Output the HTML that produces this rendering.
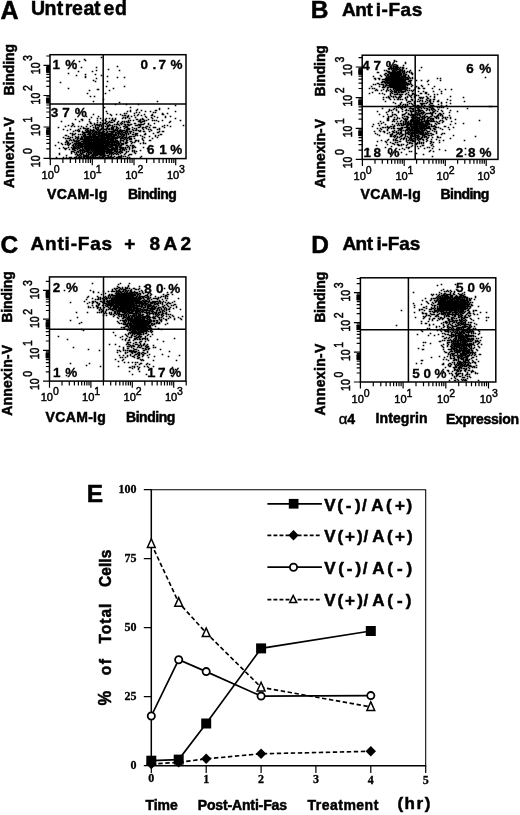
<!DOCTYPE html>
<html><head><meta charset="utf-8"><title>Figure</title>
<style>html,body{margin:0;padding:0;background:#fff}svg{display:block}text{font-family:"Liberation Sans", sans-serif;fill:#000}text.s{font-family:"Liberation Serif", serif}</style>
</head><body>
<svg width="520" height="815" viewBox="0 0 520 815">
<rect width="520" height="815" fill="#fff"/>
<rect x="50" y="54.7" width="136.0" height="103.9" fill="none" stroke="#000" stroke-width="1.5"/>
<path d="M103.2 54.7V158.6M50 104.0H186.0" stroke="#000" stroke-width="1.5" fill="none"/>
<path d="M50.3 158.6v6.6M50 158.3h-6.5M62.9 158.6v4.3M50 148.9h-3.7M70.3 158.6v4.3M50 143.4h-3.7M75.6 158.6v4.3M50 139.5h-3.7M79.7 158.6v4.3M50 136.4h-3.7M83.0 158.6v4.3M50 133.9h-3.7M85.8 158.6v4.3M50 131.8h-3.7M88.2 158.6v4.3M50 130.0h-3.7M90.4 158.6v4.3M50 128.4h-3.7M92.3 158.6v6.6M50 127.0h-6.5M104.9 158.6v4.3M50 117.5h-3.7M112.2 158.6v4.3M50 112.0h-3.7M117.4 158.6v4.3M50 108.0h-3.7M121.4 158.6v4.3M50 105.0h-3.7M124.7 158.6v4.3M50 102.5h-3.7M127.5 158.6v4.3M50 100.4h-3.7M130.0 158.6v4.3M50 98.6h-3.7M132.1 158.6v4.3M50 96.9h-3.7M134.0 158.6v6.6M50 95.5h-6.5M146.6 158.6v4.3M50 86.4h-3.7M153.9 158.6v4.3M50 81.1h-3.7M159.1 158.6v4.3M50 77.3h-3.7M163.1 158.6v4.3M50 74.4h-3.7M166.4 158.6v4.3M50 72.0h-3.7M169.2 158.6v4.3M50 70.0h-3.7M171.7 158.6v4.3M50 68.2h-3.7M173.8 158.6v4.3M50 66.7h-3.7M175.7 158.6v6.6M50 65.3h-6.5M50 56.0h-3.7" stroke="#000" stroke-width="1.2" fill="none"/>
<rect x="46.3" y="129.7" width="3.7" height="5.2" fill="#000"/>
<rect x="46.3" y="129.4" width="3.7" height="5.2" fill="#000"/>
<rect x="46.3" y="98.4" width="3.7" height="5.2" fill="#000"/>
<rect x="46.3" y="97.9" width="3.7" height="5.2" fill="#000"/>
<rect x="46.3" y="66.9" width="3.7" height="5.2" fill="#000"/>
<rect x="46.3" y="67.7" width="3.7" height="5.2" fill="#000"/>
<text transform="translate(41.5 179.2)" font-size="11.1" stroke="#000" stroke-width="0.45">10</text>
<text transform="translate(53.7 173.2) scale(0.95 1)" font-size="11.1" stroke="#000" stroke-width="0.45">0</text>
<text transform="translate(39.7 167.2) rotate(-90) scale(0.95 1.2)" font-size="11.1" stroke="#000" stroke-width="0.45">10</text>
<text transform="translate(32.2 153.9) rotate(-90) scale(0.95 1.2)" font-size="11.1" stroke="#000" stroke-width="0.45">0</text>
<text transform="translate(83.5 179.2)" font-size="11.1" stroke="#000" stroke-width="0.45">10</text>
<text transform="translate(95.7 173.2) scale(0.95 1)" font-size="11.1" stroke="#000" stroke-width="0.45">1</text>
<text transform="translate(39.7 135.9) rotate(-90) scale(0.95 1.2)" font-size="11.1" stroke="#000" stroke-width="0.45">10</text>
<text transform="translate(32.2 122.6) rotate(-90) scale(0.95 1.2)" font-size="11.1" stroke="#000" stroke-width="0.45">1</text>
<text transform="translate(125.2 179.2)" font-size="11.1" stroke="#000" stroke-width="0.45">10</text>
<text transform="translate(137.4 173.2) scale(0.95 1)" font-size="11.1" stroke="#000" stroke-width="0.45">2</text>
<text transform="translate(39.7 104.4) rotate(-90) scale(0.95 1.2)" font-size="11.1" stroke="#000" stroke-width="0.45">10</text>
<text transform="translate(32.2 91.1) rotate(-90) scale(0.95 1.2)" font-size="11.1" stroke="#000" stroke-width="0.45">2</text>
<text transform="translate(166.9 179.2)" font-size="11.1" stroke="#000" stroke-width="0.45">10</text>
<text transform="translate(179.1 173.2) scale(0.95 1)" font-size="11.1" stroke="#000" stroke-width="0.45">3</text>
<text transform="translate(39.7 74.2) rotate(-90) scale(0.95 1.2)" font-size="11.1" stroke="#000" stroke-width="0.45">10</text>
<text transform="translate(32.2 60.9) rotate(-90) scale(0.95 1.2)" font-size="11.1" stroke="#000" stroke-width="0.45">3</text>
<path d="M99.5 141.5h.01M102.5 146.5h.01M95.5 143.5h.01M88.5 138.5h.01M93.5 150.5h.01M87.5 140.5h.01M115.5 134.5h.01M93.5 138.5h.01M91.5 149.5h.01M104.5 133.5h.01M103.5 144.5h.01M100.5 149.5h.01M87.5 141.5h.01M98.5 146.5h.01M107.5 136.5h.01M82.5 153.5h.01M93.5 152.5h.01M76.5 146.5h.01M83.5 132.5h.01M76.5 137.5h.01M96.5 151.5h.01M83.5 156.5h.01M100.5 153.5h.01M96.5 140.5h.01M68.5 143.5h.01M92.5 144.5h.01M98.5 147.5h.01M100.5 133.5h.01M80.5 151.5h.01M93.5 153.5h.01M87.5 136.5h.01M89.5 135.5h.01M111.5 146.5h.01M89.5 139.5h.01M98.5 127.5h.01M109.5 150.5h.01M91.5 145.5h.01M97.5 141.5h.01M100.5 157.5h.01M99.5 145.5h.01M84.5 139.5h.01M115.5 137.5h.01M80.5 139.5h.01M109.5 147.5h.01M100.5 140.5h.01M91.5 141.5h.01M123.5 156.5h.01M108.5 150.5h.01M84.5 150.5h.01M99.5 148.5h.01M105.5 147.5h.01M96.5 154.5h.01M107.5 144.5h.01M98.5 157.5h.01M107.5 137.5h.01M116.5 142.5h.01M90.5 134.5h.01M101.5 142.5h.01M93.5 148.5h.01M100.5 154.5h.01M96.5 141.5h.01M109.5 139.5h.01M112.5 136.5h.01M83.5 144.5h.01M89.5 132.5h.01M106.5 145.5h.01M75.5 144.5h.01M93.5 139.5h.01M97.5 137.5h.01M114.5 134.5h.01M107.5 157.5h.01M95.5 135.5h.01M94.5 155.5h.01M95.5 148.5h.01M117.5 141.5h.01M93.5 136.5h.01M95.5 151.5h.01M103.5 156.5h.01M96.5 142.5h.01M85.5 151.5h.01M93.5 157.5h.01M112.5 140.5h.01M106.5 148.5h.01M98.5 135.5h.01M94.5 139.5h.01M111.5 129.5h.01M98.5 143.5h.01M106.5 143.5h.01M83.5 157.5h.01M103.5 142.5h.01M78.5 144.5h.01M74.5 148.5h.01M95.5 155.5h.01M88.5 144.5h.01M100.5 151.5h.01M125.5 148.5h.01M89.5 142.5h.01M101.5 144.5h.01M104.5 138.5h.01M96.5 152.5h.01M96.5 134.5h.01M107.5 152.5h.01M105.5 151.5h.01M86.5 143.5h.01M98.5 139.5h.01M99.5 142.5h.01M86.5 147.5h.01M102.5 149.5h.01M88.5 146.5h.01M110.5 151.5h.01M101.5 140.5h.01M100.5 146.5h.01M91.5 133.5h.01M97.5 149.5h.01M75.5 145.5h.01M85.5 141.5h.01M103.5 152.5h.01M73.5 149.5h.01M109.5 124.5h.01M108.5 134.5h.01M88.5 151.5h.01M108.5 157.5h.01M80.5 145.5h.01M113.5 142.5h.01M116.5 146.5h.01M98.5 149.5h.01M95.5 153.5h.01M87.5 155.5h.01M112.5 137.5h.01M92.5 146.5h.01M98.5 152.5h.01M89.5 149.5h.01M91.5 137.5h.01M83.5 139.5h.01M114.5 141.5h.01M97.5 144.5h.01M110.5 152.5h.01M99.5 135.5h.01M90.5 147.5h.01M92.5 148.5h.01M99.5 147.5h.01M95.5 147.5h.01M82.5 150.5h.01M89.5 148.5h.01M118.5 157.5h.01M90.5 131.5h.01M86.5 153.5h.01M115.5 142.5h.01M81.5 137.5h.01M96.5 131.5h.01M77.5 139.5h.01M107.5 147.5h.01M98.5 134.5h.01M99.5 154.5h.01M89.5 146.5h.01M104.5 142.5h.01M92.5 139.5h.01M97.5 138.5h.01M85.5 136.5h.01M84.5 140.5h.01M115.5 144.5h.01M92.5 143.5h.01M102.5 134.5h.01M98.5 142.5h.01M92.5 145.5h.01M106.5 157.5h.01M97.5 142.5h.01M99.5 133.5h.01M113.5 134.5h.01M107.5 132.5h.01M103.5 149.5h.01M82.5 144.5h.01M110.5 140.5h.01M110.5 145.5h.01M97.5 154.5h.01M105.5 139.5h.01M108.5 142.5h.01M108.5 138.5h.01M110.5 150.5h.01M93.5 137.5h.01M117.5 136.5h.01M84.5 134.5h.01M109.5 134.5h.01M104.5 147.5h.01M109.5 157.5h.01M121.5 137.5h.01M116.5 151.5h.01M85.5 146.5h.01M78.5 136.5h.01M86.5 142.5h.01M79.5 131.5h.01M73.5 147.5h.01M99.5 140.5h.01M96.5 145.5h.01M99.5 150.5h.01M88.5 145.5h.01M80.5 147.5h.01M87.5 130.5h.01M79.5 154.5h.01M105.5 157.5h.01M98.5 151.5h.01M103.5 151.5h.01M87.5 134.5h.01M91.5 143.5h.01M87.5 138.5h.01M88.5 140.5h.01M101.5 151.5h.01M89.5 138.5h.01M103.5 143.5h.01M103.5 131.5h.01M123.5 143.5h.01M82.5 145.5h.01M97.5 139.5h.01M81.5 136.5h.01M107.5 138.5h.01M99.5 157.5h.01M95.5 146.5h.01M112.5 139.5h.01M98.5 141.5h.01M72.5 151.5h.01M90.5 138.5h.01M75.5 154.5h.01M59.5 154.5h.01M115.5 149.5h.01M99.5 149.5h.01M84.5 155.5h.01M87.5 137.5h.01M112.5 152.5h.01M100.5 141.5h.01M99.5 139.5h.01M98.5 145.5h.01M108.5 137.5h.01M105.5 133.5h.01M101.5 137.5h.01M86.5 154.5h.01M90.5 149.5h.01M83.5 140.5h.01M97.5 143.5h.01M83.5 136.5h.01M119.5 137.5h.01M116.5 145.5h.01M93.5 142.5h.01M103.5 147.5h.01M67.5 142.5h.01M102.5 151.5h.01M98.5 144.5h.01M86.5 145.5h.01M96.5 139.5h.01M113.5 141.5h.01M117.5 153.5h.01M92.5 132.5h.01M94.5 141.5h.01M77.5 141.5h.01M117.5 145.5h.01M110.5 141.5h.01M107.5 149.5h.01M100.5 145.5h.01M101.5 136.5h.01M117.5 150.5h.01M92.5 142.5h.01M91.5 138.5h.01M118.5 141.5h.01M94.5 145.5h.01M85.5 144.5h.01M98.5 140.5h.01M109.5 118.5h.01M96.5 146.5h.01M100.5 152.5h.01M79.5 146.5h.01M88.5 143.5h.01M109.5 143.5h.01M89.5 140.5h.01M105.5 140.5h.01M117.5 138.5h.01M95.5 152.5h.01M91.5 144.5h.01M87.5 145.5h.01M104.5 143.5h.01M123.5 147.5h.01M95.5 150.5h.01M86.5 139.5h.01M102.5 139.5h.01M84.5 156.5h.01M85.5 142.5h.01M114.5 142.5h.01M88.5 154.5h.01M111.5 152.5h.01M117.5 148.5h.01M102.5 141.5h.01M122.5 147.5h.01M96.5 148.5h.01M82.5 134.5h.01M116.5 147.5h.01M110.5 147.5h.01M87.5 142.5h.01M88.5 136.5h.01M92.5 134.5h.01M102.5 142.5h.01M101.5 150.5h.01M102.5 152.5h.01M95.5 157.5h.01M98.5 150.5h.01M105.5 120.5h.01M121.5 140.5h.01M99.5 151.5h.01M78.5 148.5h.01M103.5 148.5h.01M82.5 149.5h.01M109.5 154.5h.01M78.5 134.5h.01M90.5 153.5h.01M106.5 149.5h.01M126.5 136.5h.01M101.5 145.5h.01M84.5 145.5h.01M100.5 150.5h.01M112.5 142.5h.01M111.5 143.5h.01M112.5 141.5h.01M105.5 142.5h.01M97.5 146.5h.01M94.5 134.5h.01M83.5 150.5h.01M108.5 149.5h.01M96.5 147.5h.01M101.5 132.5h.01M111.5 137.5h.01M78.5 140.5h.01M94.5 142.5h.01M111.5 147.5h.01M101.5 141.5h.01M84.5 146.5h.01M87.5 139.5h.01M108.5 144.5h.01M104.5 148.5h.01M76.5 144.5h.01M115.5 141.5h.01M106.5 136.5h.01M115.5 145.5h.01M94.5 146.5h.01M95.5 142.5h.01M85.5 139.5h.01M129.5 148.5h.01M96.5 157.5h.01M118.5 142.5h.01M91.5 146.5h.01M100.5 147.5h.01M78.5 126.5h.01M110.5 139.5h.01M83.5 154.5h.01M111.5 142.5h.01M103.5 139.5h.01M93.5 140.5h.01M92.5 135.5h.01M95.5 149.5h.01M86.5 157.5h.01M83.5 149.5h.01M109.5 152.5h.01M99.5 156.5h.01M91.5 152.5h.01M87.5 143.5h.01M109.5 146.5h.01M89.5 145.5h.01M96.5 129.5h.01M106.5 130.5h.01M106.5 144.5h.01M98.5 132.5h.01M85.5 149.5h.01M97.5 150.5h.01M110.5 156.5h.01M88.5 157.5h.01M98.5 136.5h.01M78.5 151.5h.01M106.5 147.5h.01M77.5 151.5h.01M80.5 138.5h.01M90.5 143.5h.01M85.5 134.5h.01M103.5 137.5h.01M90.5 144.5h.01M89.5 131.5h.01M104.5 139.5h.01M84.5 144.5h.01M76.5 140.5h.01M121.5 151.5h.01M95.5 144.5h.01M121.5 152.5h.01M86.5 144.5h.01M82.5 148.5h.01M107.5 151.5h.01M108.5 151.5h.01M87.5 147.5h.01M115.5 153.5h.01M65.5 144.5h.01M105.5 129.5h.01M111.5 145.5h.01M86.5 136.5h.01M87.5 157.5h.01M115.5 147.5h.01M108.5 133.5h.01M94.5 148.5h.01M88.5 141.5h.01M76.5 157.5h.01M94.5 137.5h.01M98.5 128.5h.01M98.5 129.5h.01M114.5 156.5h.01M121.5 131.5h.01M97.5 152.5h.01M91.5 147.5h.01M86.5 148.5h.01M106.5 140.5h.01M102.5 140.5h.01M90.5 157.5h.01M101.5 133.5h.01M82.5 141.5h.01M95.5 141.5h.01M74.5 147.5h.01M100.5 148.5h.01M100.5 136.5h.01M94.5 151.5h.01M101.5 149.5h.01M100.5 143.5h.01M105.5 149.5h.01M79.5 140.5h.01M104.5 152.5h.01M103.5 145.5h.01M91.5 139.5h.01M104.5 155.5h.01M101.5 154.5h.01M80.5 142.5h.01M105.5 155.5h.01M113.5 144.5h.01M80.5 146.5h.01M110.5 157.5h.01M68.5 136.5h.01M103.5 153.5h.01M81.5 141.5h.01M83.5 142.5h.01M91.5 123.5h.01M114.5 151.5h.01M94.5 150.5h.01M102.5 150.5h.01M119.5 151.5h.01M118.5 156.5h.01M90.5 142.5h.01M104.5 151.5h.01M100.5 135.5h.01M89.5 143.5h.01M98.5 138.5h.01M106.5 141.5h.01M111.5 133.5h.01M103.5 136.5h.01M95.5 156.5h.01M103.5 133.5h.01M86.5 146.5h.01M79.5 148.5h.01M105.5 148.5h.01M78.5 145.5h.01M71.5 151.5h.01M94.5 152.5h.01M103.5 140.5h.01M65.5 135.5h.01M97.5 145.5h.01M105.5 143.5h.01M119.5 146.5h.01M112.5 144.5h.01M102.5 147.5h.01M122.5 152.5h.01M97.5 136.5h.01M98.5 133.5h.01M101.5 146.5h.01M116.5 148.5h.01M96.5 150.5h.01M96.5 138.5h.01M111.5 157.5h.01M88.5 149.5h.01M91.5 157.5h.01M111.5 153.5h.01M104.5 137.5h.01M104.5 134.5h.01M93.5 154.5h.01M111.5 154.5h.01M112.5 146.5h.01M88.5 139.5h.01M101.5 155.5h.01M107.5 148.5h.01M87.5 151.5h.01M94.5 149.5h.01M109.5 136.5h.01M91.5 148.5h.01M113.5 140.5h.01M125.5 143.5h.01M122.5 150.5h.01M101.5 148.5h.01M117.5 133.5h.01M97.5 148.5h.01M100.5 138.5h.01M79.5 150.5h.01M81.5 157.5h.01M101.5 139.5h.01M106.5 137.5h.01M94.5 140.5h.01M104.5 136.5h.01M94.5 143.5h.01M86.5 137.5h.01M112.5 134.5h.01M94.5 144.5h.01M79.5 142.5h.01M86.5 149.5h.01M129.5 157.5h.01M113.5 149.5h.01M104.5 145.5h.01M107.5 141.5h.01M92.5 151.5h.01M122.5 137.5h.01M105.5 141.5h.01M104.5 140.5h.01M94.5 136.5h.01M90.5 135.5h.01M95.5 145.5h.01M94.5 135.5h.01M71.5 152.5h.01M113.5 138.5h.01M102.5 145.5h.01M112.5 147.5h.01M122.5 148.5h.01M99.5 131.5h.01M77.5 155.5h.01M88.5 148.5h.01M84.5 141.5h.01M92.5 137.5h.01M99.5 132.5h.01M74.5 134.5h.01M102.5 136.5h.01M97.5 140.5h.01M92.5 140.5h.01M91.5 153.5h.01M78.5 147.5h.01M122.5 133.5h.01M114.5 136.5h.01M98.5 148.5h.01M100.5 137.5h.01M93.5 129.5h.01M85.5 137.5h.01M126.5 142.5h.01M96.5 136.5h.01M107.5 145.5h.01M110.5 142.5h.01M102.5 137.5h.01M100.5 144.5h.01M117.5 157.5h.01M90.5 139.5h.01M99.5 152.5h.01M92.5 154.5h.01M116.5 154.5h.01M75.5 138.5h.01M106.5 142.5h.01M115.5 148.5h.01M80.5 144.5h.01M108.5 143.5h.01M105.5 137.5h.01M87.5 150.5h.01M74.5 149.5h.01M102.5 156.5h.01M118.5 135.5h.01M89.5 133.5h.01M84.5 152.5h.01M104.5 141.5h.01M75.5 150.5h.01M97.5 151.5h.01M103.5 138.5h.01M106.5 151.5h.01M113.5 139.5h.01M104.5 150.5h.01M103.5 155.5h.01M81.5 126.5h.01M97.5 134.5h.01M95.5 137.5h.01M101.5 143.5h.01M118.5 143.5h.01M100.5 139.5h.01M78.5 137.5h.01M90.5 141.5h.01M129.5 139.5h.01M86.5 150.5h.01M93.5 141.5h.01M108.5 135.5h.01M93.5 144.5h.01M87.5 152.5h.01M93.5 151.5h.01M73.5 146.5h.01M81.5 144.5h.01M94.5 130.5h.01M96.5 149.5h.01M77.5 154.5h.01M93.5 145.5h.01M84.5 142.5h.01M112.5 138.5h.01M93.5 156.5h.01M110.5 146.5h.01M128.5 151.5h.01M113.5 128.5h.01M78.5 131.5h.01M99.5 138.5h.01M114.5 143.5h.01M108.5 148.5h.01M85.5 156.5h.01M124.5 150.5h.01M108.5 140.5h.01M120.5 141.5h.01M100.5 132.5h.01M85.5 155.5h.01M98.5 125.5h.01M87.5 149.5h.01M96.5 132.5h.01M86.5 126.5h.01M86.5 155.5h.01M112.5 150.5h.01M107.5 150.5h.01M100.5 142.5h.01M117.5 151.5h.01M111.5 141.5h.01M115.5 135.5h.01M101.5 152.5h.01M90.5 146.5h.01M102.5 133.5h.01M73.5 139.5h.01M109.5 151.5h.01M107.5 139.5h.01M99.5 144.5h.01M111.5 150.5h.01M90.5 140.5h.01M113.5 148.5h.01M82.5 151.5h.01M113.5 157.5h.01M97.5 147.5h.01M94.5 154.5h.01M103.5 154.5h.01M107.5 146.5h.01M91.5 142.5h.01M99.5 130.5h.01M92.5 136.5h.01M109.5 144.5h.01M106.5 132.5h.01M126.5 143.5h.01M89.5 134.5h.01M108.5 146.5h.01M121.5 144.5h.01M119.5 157.5h.01M75.5 148.5h.01M87.5 148.5h.01M104.5 135.5h.01M111.5 151.5h.01M71.5 147.5h.01M106.5 135.5h.01M88.5 134.5h.01M103.5 146.5h.01M88.5 131.5h.01M80.5 128.5h.01M104.5 146.5h.01M111.5 144.5h.01M97.5 129.5h.01M111.5 138.5h.01M94.5 157.5h.01M93.5 147.5h.01M123.5 136.5h.01M120.5 139.5h.01M110.5 136.5h.01M91.5 140.5h.01M104.5 149.5h.01M77.5 145.5h.01M72.5 134.5h.01M102.5 143.5h.01M78.5 141.5h.01M74.5 126.5h.01M102.5 157.5h.01M95.5 136.5h.01M120.5 148.5h.01M108.5 139.5h.01M119.5 143.5h.01M75.5 136.5h.01M89.5 152.5h.01M95.5 139.5h.01M128.5 146.5h.01M112.5 145.5h.01M85.5 140.5h.01M111.5 128.5h.01M89.5 144.5h.01M109.5 137.5h.01M80.5 157.5h.01M90.5 148.5h.01M72.5 145.5h.01M121.5 147.5h.01M113.5 145.5h.01M85.5 145.5h.01M109.5 153.5h.01M90.5 137.5h.01M116.5 141.5h.01M70.5 137.5h.01M96.5 143.5h.01M112.5 157.5h.01M73.5 151.5h.01M100.5 124.5h.01M103.5 157.5h.01M123.5 149.5h.01M126.5 126.5h.01M81.5 145.5h.01M129.5 149.5h.01M108.5 145.5h.01M92.5 149.5h.01M93.5 134.5h.01M98.5 153.5h.01M105.5 144.5h.01M97.5 157.5h.01M85.5 135.5h.01M115.5 139.5h.01M90.5 136.5h.01M112.5 153.5h.01M89.5 147.5h.01M71.5 157.5h.01M74.5 143.5h.01M106.5 134.5h.01M82.5 137.5h.01M120.5 146.5h.01M114.5 144.5h.01M106.5 150.5h.01M98.5 137.5h.01M127.5 147.5h.01M88.5 155.5h.01M104.5 153.5h.01M79.5 145.5h.01M86.5 141.5h.01M77.5 147.5h.01M72.5 148.5h.01M76.5 156.5h.01M88.5 150.5h.01M112.5 143.5h.01M108.5 152.5h.01M92.5 157.5h.01M78.5 138.5h.01M96.5 155.5h.01M96.5 153.5h.01M120.5 147.5h.01M81.5 156.5h.01M81.5 143.5h.01M84.5 138.5h.01M106.5 146.5h.01M114.5 130.5h.01M106.5 153.5h.01M113.5 135.5h.01M113.5 136.5h.01M80.5 152.5h.01M109.5 138.5h.01M87.5 132.5h.01M103.5 134.5h.01M69.5 140.5h.01M90.5 152.5h.01M93.5 155.5h.01M85.5 147.5h.01M123.5 141.5h.01M93.5 143.5h.01M108.5 141.5h.01M102.5 153.5h.01M132.5 146.5h.01M90.5 132.5h.01M115.5 140.5h.01M107.5 155.5h.01M114.5 149.5h.01M111.5 140.5h.01M117.5 137.5h.01M81.5 153.5h.01M113.5 154.5h.01M119.5 147.5h.01M97.5 130.5h.01M101.5 147.5h.01M78.5 155.5h.01M79.5 156.5h.01M112.5 132.5h.01M67.5 143.5h.01M102.5 144.5h.01M116.5 143.5h.01M120.5 151.5h.01M79.5 144.5h.01M131.5 138.5h.01M114.5 145.5h.01M115.5 146.5h.01M84.5 148.5h.01M83.5 143.5h.01M76.5 143.5h.01M82.5 147.5h.01M79.5 157.5h.01M101.5 138.5h.01M119.5 152.5h.01M83.5 146.5h.01M82.5 146.5h.01M105.5 145.5h.01M105.5 138.5h.01M91.5 155.5h.01M92.5 147.5h.01M73.5 145.5h.01M72.5 149.5h.01M130.5 139.5h.01M85.5 148.5h.01M113.5 152.5h.01M110.5 144.5h.01M85.5 138.5h.01M68.5 145.5h.01M132.5 145.5h.01M120.5 130.5h.01M116.5 134.5h.01M118.5 152.5h.01M117.5 130.5h.01M84.5 132.5h.01M72.5 135.5h.01M87.5 131.5h.01M122.5 143.5h.01M89.5 141.5h.01M84.5 147.5h.01M118.5 154.5h.01M89.5 136.5h.01M84.5 157.5h.01M116.5 127.5h.01M94.5 147.5h.01M108.5 155.5h.01M102.5 138.5h.01M92.5 155.5h.01M78.5 129.5h.01M87.5 144.5h.01M81.5 154.5h.01M89.5 154.5h.01M87.5 129.5h.01M119.5 156.5h.01M109.5 141.5h.01M116.5 144.5h.01M80.5 143.5h.01M65.5 142.5h.01M130.5 141.5h.01M117.5 146.5h.01M86.5 138.5h.01M81.5 147.5h.01M127.5 157.5h.01M76.5 141.5h.01M114.5 148.5h.01M105.5 134.5h.01M98.5 131.5h.01M92.5 150.5h.01M93.5 135.5h.01M88.5 147.5h.01M130.5 138.5h.01M109.5 131.5h.01M96.5 144.5h.01M86.5 140.5h.01M96.5 137.5h.01M118.5 144.5h.01M120.5 150.5h.01M108.5 156.5h.01M107.5 128.5h.01M131.5 143.5h.01M113.5 129.5h.01M88.5 133.5h.01M123.5 144.5h.01M113.5 147.5h.01M97.5 153.5h.01M134.5 151.5h.01M76.5 148.5h.01M111.5 149.5h.01M93.5 146.5h.01M109.5 142.5h.01M83.5 141.5h.01M67.5 144.5h.01M118.5 145.5h.01M102.5 154.5h.01M99.5 146.5h.01M122.5 144.5h.01M99.5 143.5h.01M93.5 149.5h.01M108.5 129.5h.01M125.5 153.5h.01M107.5 143.5h.01M74.5 141.5h.01M95.5 140.5h.01M71.5 126.5h.01M88.5 142.5h.01M86.5 132.5h.01M103.5 150.5h.01M119.5 136.5h.01M87.5 146.5h.01M102.5 135.5h.01M109.5 149.5h.01M86.5 151.5h.01M88.5 152.5h.01M92.5 125.5h.01M123.5 134.5h.01M116.5 149.5h.01M81.5 138.5h.01M73.5 144.5h.01M95.5 134.5h.01M88.5 156.5h.01M117.5 142.5h.01M108.5 126.5h.01M73.5 140.5h.01M104.5 131.5h.01M106.5 138.5h.01M89.5 150.5h.01M74.5 152.5h.01M113.5 137.5h.01M111.5 156.5h.01M97.5 155.5h.01M106.5 152.5h.01M89.5 137.5h.01M70.5 133.5h.01M96.5 128.5h.01M91.5 136.5h.01M119.5 133.5h.01M113.5 130.5h.01M110.5 125.5h.01M90.5 145.5h.01M126.5 137.5h.01M120.5 156.5h.01M111.5 136.5h.01M112.5 125.5h.01M107.5 140.5h.01M111.5 139.5h.01M73.5 148.5h.01M82.5 139.5h.01M71.5 140.5h.01M84.5 135.5h.01M86.5 156.5h.01M98.5 154.5h.01M121.5 130.5h.01M111.5 148.5h.01M90.5 133.5h.01M121.5 156.5h.01M125.5 131.5h.01M91.5 150.5h.01M74.5 140.5h.01M82.5 152.5h.01M102.5 132.5h.01M105.5 146.5h.01M101.5 153.5h.01M110.5 153.5h.01M119.5 144.5h.01M110.5 134.5h.01M123.5 148.5h.01M90.5 151.5h.01M95.5 154.5h.01M124.5 149.5h.01M107.5 142.5h.01M120.5 140.5h.01M90.5 156.5h.01M71.5 153.5h.01M82.5 143.5h.01M116.5 157.5h.01M111.5 155.5h.01M97.5 132.5h.01M123.5 140.5h.01M114.5 153.5h.01M125.5 147.5h.01M115.5 150.5h.01M124.5 154.5h.01M88.5 153.5h.01M120.5 138.5h.01M114.5 150.5h.01M94.5 138.5h.01M82.5 131.5h.01M90.5 129.5h.01M75.5 141.5h.01M80.5 149.5h.01M102.5 127.5h.01M110.5 149.5h.01M85.5 130.5h.01M116.5 137.5h.01M79.5 143.5h.01M83.5 155.5h.01M84.5 151.5h.01M119.5 149.5h.01M115.5 151.5h.01M83.5 135.5h.01M131.5 154.5h.01M128.5 125.5h.01M87.5 156.5h.01M132.5 127.5h.01M97.5 118.5h.01M86.5 116.5h.01M107.5 131.5h.01M112.5 129.5h.01M117.5 149.5h.01M107.5 113.5h.01M105.5 135.5h.01M116.5 128.5h.01M124.5 128.5h.01M133.5 145.5h.01M111.5 134.5h.01M103.5 128.5h.01M112.5 128.5h.01M113.5 132.5h.01M96.5 133.5h.01M152.5 114.5h.01M102.5 148.5h.01M112.5 133.5h.01M83.5 152.5h.01M142.5 136.5h.01M125.5 132.5h.01M119.5 130.5h.01M118.5 133.5h.01M126.5 139.5h.01M125.5 138.5h.01M113.5 120.5h.01M120.5 127.5h.01M66.5 135.5h.01M130.5 131.5h.01M153.5 127.5h.01M133.5 130.5h.01M100.5 129.5h.01M87.5 124.5h.01M121.5 135.5h.01M126.5 151.5h.01M134.5 128.5h.01M66.5 140.5h.01M127.5 142.5h.01M76.5 153.5h.01M128.5 124.5h.01M147.5 148.5h.01M106.5 129.5h.01M117.5 140.5h.01M114.5 131.5h.01M121.5 157.5h.01M158.5 135.5h.01M121.5 132.5h.01M115.5 138.5h.01M138.5 141.5h.01M80.5 153.5h.01M120.5 123.5h.01M141.5 122.5h.01M137.5 133.5h.01M122.5 149.5h.01M119.5 125.5h.01M123.5 132.5h.01M113.5 131.5h.01M121.5 134.5h.01M138.5 114.5h.01M131.5 141.5h.01M90.5 130.5h.01M118.5 128.5h.01M125.5 137.5h.01M114.5 137.5h.01M126.5 135.5h.01M104.5 156.5h.01M142.5 124.5h.01M134.5 150.5h.01M115.5 133.5h.01M120.5 149.5h.01M143.5 147.5h.01M135.5 130.5h.01M77.5 143.5h.01M124.5 126.5h.01M102.5 128.5h.01M140.5 130.5h.01M69.5 138.5h.01M107.5 123.5h.01M130.5 110.5h.01M99.5 124.5h.01M124.5 135.5h.01M129.5 147.5h.01M65.5 148.5h.01M69.5 157.5h.01M97.5 127.5h.01M105.5 123.5h.01M121.5 148.5h.01M82.5 132.5h.01M149.5 131.5h.01M59.5 148.5h.01M136.5 133.5h.01M116.5 114.5h.01M107.5 126.5h.01M124.5 113.5h.01M131.5 124.5h.01M122.5 140.5h.01M112.5 127.5h.01M129.5 137.5h.01M134.5 123.5h.01M142.5 121.5h.01M120.5 142.5h.01M111.5 127.5h.01M155.5 135.5h.01M125.5 118.5h.01M95.5 128.5h.01M107.5 125.5h.01M108.5 122.5h.01M137.5 125.5h.01M88.5 130.5h.01M96.5 124.5h.01M75.5 143.5h.01M97.5 125.5h.01M115.5 130.5h.01M99.5 136.5h.01M127.5 127.5h.01M75.5 157.5h.01M110.5 133.5h.01M126.5 133.5h.01M66.5 155.5h.01M73.5 134.5h.01M64.5 148.5h.01M106.5 121.5h.01M122.5 115.5h.01M63.5 147.5h.01M134.5 146.5h.01M129.5 128.5h.01M101.5 126.5h.01M86.5 129.5h.01M67.5 130.5h.01M70.5 157.5h.01M68.5 138.5h.01M124.5 134.5h.01M121.5 124.5h.01M74.5 146.5h.01M82.5 120.5h.01M78.5 143.5h.01M124.5 137.5h.01M110.5 138.5h.01M100.5 130.5h.01M124.5 132.5h.01M88.5 132.5h.01M143.5 129.5h.01M133.5 132.5h.01M93.5 131.5h.01M84.5 143.5h.01M114.5 135.5h.01M107.5 135.5h.01M132.5 150.5h.01M78.5 142.5h.01M93.5 130.5h.01M70.5 143.5h.01M115.5 104.5h.01M85.5 143.5h.01M97.5 120.5h.01M85.5 132.5h.01M120.5 136.5h.01M115.5 119.5h.01M108.5 136.5h.01M72.5 123.5h.01M109.5 129.5h.01M122.5 131.5h.01M116.5 126.5h.01M112.5 126.5h.01M128.5 120.5h.01M123.5 126.5h.01M80.5 150.5h.01M128.5 134.5h.01M101.5 157.5h.01M120.5 129.5h.01M140.5 122.5h.01M135.5 134.5h.01M118.5 137.5h.01M111.5 132.5h.01M110.5 135.5h.01M134.5 142.5h.01M74.5 150.5h.01M114.5 138.5h.01M77.5 130.5h.01M77.5 149.5h.01M130.5 124.5h.01M132.5 148.5h.01M102.5 131.5h.01M105.5 126.5h.01M125.5 133.5h.01M129.5 125.5h.01M112.5 131.5h.01M112.5 148.5h.01M83.5 127.5h.01M88.5 128.5h.01M148.5 119.5h.01M111.5 120.5h.01M67.5 138.5h.01M75.5 130.5h.01M86.5 131.5h.01M112.5 149.5h.01M127.5 117.5h.01M122.5 121.5h.01M117.5 123.5h.01M128.5 129.5h.01M93.5 114.5h.01M136.5 110.5h.01M121.5 122.5h.01M120.5 133.5h.01M123.5 117.5h.01M78.5 146.5h.01M82.5 138.5h.01M106.5 128.5h.01M116.5 138.5h.01M67.5 141.5h.01M116.5 140.5h.01M129.5 118.5h.01M116.5 130.5h.01M92.5 131.5h.01M109.5 128.5h.01M94.5 132.5h.01M109.5 125.5h.01M77.5 137.5h.01M116.5 152.5h.01M104.5 123.5h.01M73.5 124.5h.01M88.5 137.5h.01M136.5 134.5h.01M126.5 141.5h.01M121.5 155.5h.01M70.5 139.5h.01M103.5 132.5h.01M115.5 118.5h.01M101.5 135.5h.01M140.5 143.5h.01M135.5 133.5h.01M146.5 120.5h.01M94.5 133.5h.01M144.5 114.5h.01M116.5 135.5h.01M144.5 120.5h.01M128.5 128.5h.01M150.5 111.5h.01M106.5 133.5h.01M84.5 136.5h.01M63.5 157.5h.01M126.5 149.5h.01M95.5 127.5h.01M84.5 128.5h.01M153.5 112.5h.01M120.5 153.5h.01M120.5 145.5h.01M75.5 147.5h.01M75.5 133.5h.01M99.5 134.5h.01M91.5 117.5h.01M126.5 121.5h.01M109.5 121.5h.01M106.5 118.5h.01M122.5 138.5h.01M68.5 147.5h.01M87.5 128.5h.01M81.5 150.5h.01M105.5 122.5h.01M117.5 127.5h.01M127.5 130.5h.01M59.5 153.5h.01M144.5 137.5h.01M134.5 115.5h.01M77.5 138.5h.01M124.5 115.5h.01M111.5 135.5h.01M70.5 129.5h.01M138.5 127.5h.01M149.5 136.5h.01M142.5 139.5h.01M61.5 121.5h.01M124.5 124.5h.01M152.5 115.5h.01M69.5 144.5h.01M135.5 123.5h.01M61.5 143.5h.01M124.5 130.5h.01M125.5 156.5h.01M107.5 127.5h.01M125.5 142.5h.01M140.5 150.5h.01M101.5 129.5h.01M55.5 145.5h.01M126.5 104.5h.01M111.5 131.5h.01M89.5 157.5h.01M112.5 118.5h.01M65.5 138.5h.01M90.5 122.5h.01M143.5 140.5h.01M120.5 134.5h.01M74.5 157.5h.01M66.5 157.5h.01M106.5 111.5h.01M109.5 135.5h.01M122.5 134.5h.01M140.5 157.5h.01M72.5 133.5h.01M131.5 136.5h.01M118.5 132.5h.01M119.5 132.5h.01M152.5 138.5h.01M116.5 124.5h.01M68.5 142.5h.01M140.5 135.5h.01M117.5 129.5h.01M118.5 121.5h.01M144.5 134.5h.01M72.5 137.5h.01M121.5 143.5h.01M58.5 127.5h.01M83.5 133.5h.01M132.5 151.5h.01M95.5 138.5h.01M83.5 128.5h.01M123.5 138.5h.01M110.5 122.5h.01M65.5 149.5h.01M129.5 138.5h.01M117.5 124.5h.01M102.5 123.5h.01M114.5 124.5h.01M95.5 132.5h.01M120.5 157.5h.01M143.5 143.5h.01M75.5 119.5h.01M140.5 131.5h.01M73.5 131.5h.01M133.5 136.5h.01M85.5 128.5h.01M102.5 124.5h.01M84.5 137.5h.01M120.5 131.5h.01M136.5 112.5h.01M126.5 129.5h.01M112.5 122.5h.01M127.5 129.5h.01M120.5 114.5h.01M127.5 122.5h.01M72.5 125.5h.01M81.5 146.5h.01M136.5 128.5h.01M127.5 140.5h.01M94.5 124.5h.01M118.5 131.5h.01M76.5 152.5h.01M135.5 140.5h.01M132.5 142.5h.01M133.5 134.5h.01M141.5 156.5h.01M76.5 142.5h.01M130.5 133.5h.01M118.5 124.5h.01M100.5 118.5h.01M153.5 133.5h.01M114.5 120.5h.01M127.5 145.5h.01M110.5 131.5h.01M79.5 130.5h.01M79.5 121.5h.01M122.5 130.5h.01M65.5 126.5h.01M101.5 128.5h.01M80.5 155.5h.01M95.5 131.5h.01M117.5 143.5h.01M92.5 130.5h.01M78.5 152.5h.01M117.5 131.5h.01M63.5 129.5h.01M80.5 134.5h.01M90.5 123.5h.01M122.5 136.5h.01M98.5 116.5h.01M110.5 114.5h.01M128.5 115.5h.01M104.5 129.5h.01M78.5 157.5h.01M125.5 125.5h.01M126.5 140.5h.01M130.5 136.5h.01M143.5 121.5h.01M125.5 127.5h.01M69.5 149.5h.01M92.5 156.5h.01M103.5 141.5h.01M107.5 153.5h.01M126.5 131.5h.01M136.5 151.5h.01M117.5 147.5h.01M128.5 137.5h.01M148.5 124.5h.01M66.5 148.5h.01M127.5 126.5h.01M101.5 134.5h.01M134.5 136.5h.01M134.5 152.5h.01M130.5 145.5h.01M121.5 145.5h.01M121.5 138.5h.01M143.5 127.5h.01M58.5 142.5h.01M99.5 126.5h.01M136.5 140.5h.01M93.5 133.5h.01M100.5 122.5h.01M82.5 119.5h.01M134.5 113.5h.01M56.5 157.5h.01M89.5 121.5h.01M99.5 153.5h.01M104.5 154.5h.01M149.5 140.5h.01M84.5 133.5h.01M119.5 131.5h.01M117.5 122.5h.01M106.5 124.5h.01M72.5 142.5h.01M109.5 133.5h.01M93.5 127.5h.01M90.5 126.5h.01M130.5 154.5h.01M126.5 152.5h.01M130.5 132.5h.01M154.5 116.5h.01M111.5 115.5h.01M95.5 125.5h.01M129.5 129.5h.01M132.5 129.5h.01M135.5 153.5h.01M141.5 124.5h.01M116.5 132.5h.01M136.5 129.5h.01M103.5 125.5h.01M128.5 122.5h.01M131.5 116.5h.01M91.5 130.5h.01M103.5 135.5h.01M165.5 117.5h.01M102.5 120.5h.01M129.5 136.5h.01M123.5 135.5h.01M89.5 119.5h.01M125.5 115.5h.01M142.5 127.5h.01M94.5 123.5h.01M113.5 127.5h.01M66.5 141.5h.01M128.5 155.5h.01M115.5 129.5h.01M100.5 155.5h.01M107.5 134.5h.01M81.5 139.5h.01M133.5 147.5h.01M104.5 107.5h.01M125.5 117.5h.01M127.5 128.5h.01M68.5 125.5h.01M126.5 145.5h.01M114.5 126.5h.01M108.5 125.5h.01M62.5 144.5h.01M97.5 124.5h.01M94.5 153.5h.01M155.5 112.5h.01M137.5 119.5h.01M134.5 138.5h.01M139.5 124.5h.01M157.5 132.5h.01M155.5 127.5h.01M127.5 131.5h.01M135.5 125.5h.01M142.5 138.5h.01M170.5 116.5h.01M145.5 143.5h.01M136.5 125.5h.01M124.5 122.5h.01M137.5 109.5h.01M137.5 115.5h.01M152.5 118.5h.01M145.5 134.5h.01M142.5 119.5h.01M150.5 129.5h.01M140.5 124.5h.01M135.5 147.5h.01M146.5 126.5h.01M97.5 122.5h.01M163.5 114.5h.01M154.5 127.5h.01M160.5 134.5h.01M136.5 130.5h.01M115.5 132.5h.01M159.5 128.5h.01M140.5 126.5h.01M138.5 130.5h.01M137.5 135.5h.01M158.5 132.5h.01M154.5 120.5h.01M141.5 110.5h.01M101.5 125.5h.01M127.5 132.5h.01M138.5 104.5h.01M175.5 118.5h.01M144.5 131.5h.01M162.5 114.5h.01M135.5 141.5h.01M139.5 125.5h.01M157.5 137.5h.01M145.5 116.5h.01M129.5 154.5h.01M111.5 122.5h.01M140.5 125.5h.01M167.5 113.5h.01M112.5 119.5h.01M145.5 127.5h.01M126.5 127.5h.01M130.5 120.5h.01M124.5 139.5h.01M143.5 124.5h.01M131.5 131.5h.01M123.5 130.5h.01M126.5 130.5h.01M150.5 125.5h.01M157.5 117.5h.01M156.5 120.5h.01M151.5 130.5h.01M63.5 137.5h.01M129.5 122.5h.01M140.5 121.5h.01M167.5 125.5h.01M142.5 128.5h.01M122.5 123.5h.01M139.5 127.5h.01M128.5 116.5h.01M119.5 102.5h.01M147.5 126.5h.01M126.5 113.5h.01M122.5 118.5h.01M164.5 127.5h.01M175.5 111.5h.01M156.5 110.5h.01M139.5 131.5h.01M162.5 131.5h.01M180.5 120.5h.01M148.5 123.5h.01M136.5 119.5h.01M127.5 111.5h.01M129.5 131.5h.01M159.5 129.5h.01M149.5 127.5h.01M114.5 121.5h.01M170.5 121.5h.01M151.5 115.5h.01M162.5 120.5h.01M144.5 121.5h.01M159.5 131.5h.01M135.5 117.5h.01M157.5 129.5h.01M183.5 125.5h.01M162.5 126.5h.01M146.5 117.5h.01M140.5 119.5h.01M124.5 121.5h.01M146.5 128.5h.01M152.5 120.5h.01M168.5 108.5h.01M130.5 107.5h.01M142.5 118.5h.01M138.5 121.5h.01M145.5 111.5h.01M130.5 111.5h.01M128.5 133.5h.01M133.5 120.5h.01M159.5 108.5h.01M161.5 146.5h.01M164.5 125.5h.01M144.5 123.5h.01M132.5 134.5h.01M99.5 125.5h.01M150.5 140.5h.01M155.5 110.5h.01M127.5 116.5h.01M154.5 123.5h.01M165.5 116.5h.01M138.5 140.5h.01M159.5 109.5h.01M143.5 119.5h.01M126.5 134.5h.01M127.5 138.5h.01M148.5 129.5h.01M127.5 124.5h.01M135.5 135.5h.01M138.5 124.5h.01M158.5 121.5h.01M140.5 120.5h.01M141.5 115.5h.01M139.5 121.5h.01M139.5 112.5h.01M170.5 126.5h.01M81.5 119.5h.01M132.5 147.5h.01M143.5 142.5h.01M161.5 134.5h.01M155.5 136.5h.01M128.5 121.5h.01M151.5 117.5h.01M175.5 105.5h.01M139.5 120.5h.01M118.5 134.5h.01M125.5 124.5h.01M145.5 133.5h.01M169.5 122.5h.01M131.5 139.5h.01M157.5 101.5h.01M143.5 131.5h.01M105.5 119.5h.01M163.5 131.5h.01M162.5 113.5h.01M95.5 126.5h.01M97.5 89.5h.01M89.5 90.5h.01M96.5 67.5h.01M85.5 60.5h.01M94.5 96.5h.01M101.5 57.5h.01M95.5 81.5h.01M75.5 68.5h.01M93.5 80.5h.01M85.5 76.5h.01M103.5 99.5h.01M78.5 110.5h.01M107.5 76.5h.01M87.5 93.5h.01M105.5 93.5h.01M92.5 71.5h.01M81.5 67.5h.01M93.5 101.5h.01M95.5 74.5h.01M96.5 78.5h.01M101.5 75.5h.01M85.5 77.5h.01M96.5 70.5h.01M98.5 89.5h.01M90.5 96.5h.01M85.5 74.5h.01M84.5 59.5h.01M117.5 77.5h.01M107.5 81.5h.01M124.5 77.5h.01M117.5 66.5h.01M124.5 86.5h.01M108.5 69.5h.01M119.5 70.5h.01M109.5 90.5h.01M106.5 86.5h.01M113.5 88.5h.01M78.5 71.5h.01M76.5 75.5h.01M60.5 82.5h.01M79.5 61.5h.01M68.5 88.5h.01M68.5 73.5h.01" stroke="#000" stroke-width="1.6" stroke-linecap="square" fill="none"/>
<text transform="translate(47 199.2)" font-size="14" font-weight="bold" textLength="60.3" lengthAdjust="spacing" stroke="#000" stroke-width="0.5">VCAM-Ig</text>
<text transform="translate(128 198.8)" font-size="14" font-weight="bold" textLength="48.8" lengthAdjust="spacing" stroke="#000" stroke-width="0.5">Binding</text>
<text transform="translate(13.75 188) rotate(-90)" font-size="14" font-weight="bold" textLength="70.8" lengthAdjust="spacing" stroke="#000" stroke-width="0.5">Annexin-V</text>
<text transform="translate(13.75 95.5) rotate(-90)" font-size="14" font-weight="bold" textLength="51.5" lengthAdjust="spacing" stroke="#000" stroke-width="0.5">Binding</text>
<text x="52.5 61.0 65.2" y="68.8" font-size="13.5" font-weight="bold" stroke="#000" stroke-width="0.32">1 %</text>
<text x="140.5 152.4 158.4 166.6 170.4" y="69.2" font-size="13.5" font-weight="bold" stroke="#000" stroke-width="0.32">0.7 %</text>
<text x="50.7 62.2 70.6 74.7" y="117.3" font-size="13.5" font-weight="bold" stroke="#000" stroke-width="0.32">37 %</text>
<text x="147.1 159.3 166.9 170.2" y="154.4" font-size="13.5" font-weight="bold" stroke="#000" stroke-width="0.32">61 %</text>
<text transform="translate(0.6 18.5)" font-size="25.0" font-weight="bold" stroke="#000" stroke-width="0.5">A</text>
<text x="31.0 44.5 56.8 64.7 72.0 83.6 94.1 103.6 115.1" y="14.8" font-size="19.5" font-weight="bold" stroke="#000" stroke-width="0.5">Untreated</text>
<rect x="362.2" y="55.2" width="135.8" height="104.2" fill="none" stroke="#000" stroke-width="1.5"/>
<path d="M415.2 55.2V159.4M362.2 106.5H498" stroke="#000" stroke-width="1.5" fill="none"/>
<path d="M362.4 159.4v6.6M362.2 159.4h-6.5M375.0 159.4v4.3M362.2 150.1h-3.7M382.3 159.4v4.3M362.2 144.6h-3.7M387.6 159.4v4.3M362.2 140.7h-3.7M391.6 159.4v4.3M362.2 137.7h-3.7M394.9 159.4v4.3M362.2 135.3h-3.7M397.7 159.4v4.3M362.2 133.2h-3.7M400.1 159.4v4.3M362.2 131.4h-3.7M402.3 159.4v4.3M362.2 129.8h-3.7M404.2 159.4v6.6M362.2 128.4h-6.5M416.6 159.4v4.3M362.2 119.2h-3.7M423.8 159.4v4.3M362.2 113.8h-3.7M428.9 159.4v4.3M362.2 109.9h-3.7M432.9 159.4v4.3M362.2 106.9h-3.7M436.2 159.4v4.3M362.2 104.5h-3.7M438.9 159.4v4.3M362.2 102.5h-3.7M441.3 159.4v4.3M362.2 100.7h-3.7M443.4 159.4v4.3M362.2 99.1h-3.7M445.3 159.4v6.6M362.2 97.7h-6.5M457.6 159.4v4.3M362.2 88.5h-3.7M464.8 159.4v4.3M362.2 83.1h-3.7M469.9 159.4v4.3M362.2 79.2h-3.7M473.9 159.4v4.3M362.2 76.2h-3.7M477.1 159.4v4.3M362.2 73.8h-3.7M479.9 159.4v4.3M362.2 71.8h-3.7M482.2 159.4v4.3M362.2 70.0h-3.7M484.3 159.4v4.3M362.2 68.4h-3.7M486.2 159.4v6.6M362.2 67.0h-6.5M362.2 57.7h-3.7" stroke="#000" stroke-width="1.2" fill="none"/>
<rect x="358.5" y="131.0" width="3.7" height="5.2" fill="#000"/>
<rect x="358.5" y="130.8" width="3.7" height="5.2" fill="#000"/>
<rect x="358.5" y="100.0" width="3.7" height="5.2" fill="#000"/>
<rect x="358.5" y="100.1" width="3.7" height="5.2" fill="#000"/>
<rect x="358.5" y="69.3" width="3.7" height="5.2" fill="#000"/>
<rect x="358.5" y="69.4" width="3.7" height="5.2" fill="#000"/>
<text transform="translate(353.6 180.0)" font-size="11.1" stroke="#000" stroke-width="0.45">10</text>
<text transform="translate(365.8 174.0) scale(0.95 1)" font-size="11.1" stroke="#000" stroke-width="0.45">0</text>
<text transform="translate(351.9 168.3) rotate(-90) scale(0.95 1.2)" font-size="11.1" stroke="#000" stroke-width="0.45">10</text>
<text transform="translate(344.4 155.0) rotate(-90) scale(0.95 1.2)" font-size="11.1" stroke="#000" stroke-width="0.45">0</text>
<text transform="translate(395.4 180.0)" font-size="11.1" stroke="#000" stroke-width="0.45">10</text>
<text transform="translate(407.6 174.0) scale(0.95 1)" font-size="11.1" stroke="#000" stroke-width="0.45">1</text>
<text transform="translate(351.9 137.3) rotate(-90) scale(0.95 1.2)" font-size="11.1" stroke="#000" stroke-width="0.45">10</text>
<text transform="translate(344.4 124.0) rotate(-90) scale(0.95 1.2)" font-size="11.1" stroke="#000" stroke-width="0.45">1</text>
<text transform="translate(436.5 180.0)" font-size="11.1" stroke="#000" stroke-width="0.45">10</text>
<text transform="translate(448.7 174.0) scale(0.95 1)" font-size="11.1" stroke="#000" stroke-width="0.45">2</text>
<text transform="translate(351.9 106.6) rotate(-90) scale(0.95 1.2)" font-size="11.1" stroke="#000" stroke-width="0.45">10</text>
<text transform="translate(344.4 93.3) rotate(-90) scale(0.95 1.2)" font-size="11.1" stroke="#000" stroke-width="0.45">2</text>
<text transform="translate(477.4 180.0)" font-size="11.1" stroke="#000" stroke-width="0.45">10</text>
<text transform="translate(489.6 174.0) scale(0.95 1)" font-size="11.1" stroke="#000" stroke-width="0.45">3</text>
<text transform="translate(351.9 75.9) rotate(-90) scale(0.95 1.2)" font-size="11.1" stroke="#000" stroke-width="0.45">10</text>
<text transform="translate(344.4 62.6) rotate(-90) scale(0.95 1.2)" font-size="11.1" stroke="#000" stroke-width="0.45">3</text>
<path d="M391.5 73.5h.01M400.5 79.5h.01M411.5 80.5h.01M390.5 66.5h.01M391.5 84.5h.01M398.5 80.5h.01M399.5 80.5h.01M393.5 81.5h.01M397.5 75.5h.01M388.5 79.5h.01M395.5 85.5h.01M401.5 86.5h.01M404.5 83.5h.01M395.5 78.5h.01M395.5 75.5h.01M398.5 87.5h.01M402.5 83.5h.01M399.5 78.5h.01M392.5 68.5h.01M398.5 76.5h.01M401.5 70.5h.01M393.5 86.5h.01M390.5 80.5h.01M399.5 76.5h.01M398.5 79.5h.01M401.5 94.5h.01M397.5 86.5h.01M393.5 73.5h.01M394.5 79.5h.01M392.5 70.5h.01M393.5 80.5h.01M394.5 92.5h.01M402.5 88.5h.01M390.5 79.5h.01M396.5 78.5h.01M404.5 86.5h.01M398.5 72.5h.01M394.5 70.5h.01M400.5 90.5h.01M397.5 81.5h.01M394.5 88.5h.01M404.5 82.5h.01M400.5 88.5h.01M405.5 78.5h.01M397.5 85.5h.01M391.5 77.5h.01M400.5 85.5h.01M397.5 76.5h.01M400.5 73.5h.01M396.5 82.5h.01M393.5 87.5h.01M400.5 74.5h.01M403.5 85.5h.01M395.5 83.5h.01M403.5 68.5h.01M392.5 85.5h.01M395.5 84.5h.01M391.5 82.5h.01M402.5 71.5h.01M394.5 85.5h.01M388.5 83.5h.01M395.5 82.5h.01M401.5 79.5h.01M394.5 77.5h.01M390.5 75.5h.01M392.5 84.5h.01M392.5 83.5h.01M396.5 89.5h.01M395.5 74.5h.01M397.5 82.5h.01M392.5 86.5h.01M393.5 68.5h.01M399.5 85.5h.01M402.5 87.5h.01M403.5 88.5h.01M402.5 77.5h.01M400.5 80.5h.01M396.5 77.5h.01M399.5 87.5h.01M400.5 77.5h.01M405.5 87.5h.01M399.5 72.5h.01M396.5 74.5h.01M395.5 77.5h.01M402.5 81.5h.01M391.5 78.5h.01M397.5 72.5h.01M389.5 63.5h.01M401.5 78.5h.01M397.5 78.5h.01M398.5 75.5h.01M405.5 83.5h.01M397.5 90.5h.01M395.5 79.5h.01M405.5 77.5h.01M394.5 75.5h.01M394.5 90.5h.01M389.5 79.5h.01M402.5 84.5h.01M398.5 86.5h.01M399.5 86.5h.01M396.5 85.5h.01M392.5 82.5h.01M398.5 85.5h.01M397.5 77.5h.01M404.5 80.5h.01M393.5 77.5h.01M394.5 84.5h.01M391.5 76.5h.01M403.5 83.5h.01M390.5 73.5h.01M403.5 79.5h.01M396.5 79.5h.01M400.5 81.5h.01M386.5 78.5h.01M394.5 78.5h.01M388.5 68.5h.01M393.5 78.5h.01M401.5 76.5h.01M394.5 82.5h.01M389.5 85.5h.01M395.5 88.5h.01M407.5 87.5h.01M393.5 83.5h.01M398.5 74.5h.01M394.5 86.5h.01M400.5 86.5h.01M399.5 84.5h.01M402.5 86.5h.01M395.5 86.5h.01M399.5 75.5h.01M387.5 80.5h.01M398.5 81.5h.01M393.5 72.5h.01M398.5 84.5h.01M395.5 80.5h.01M385.5 73.5h.01M396.5 83.5h.01M398.5 89.5h.01M397.5 83.5h.01M389.5 72.5h.01M401.5 81.5h.01M392.5 80.5h.01M396.5 86.5h.01M399.5 82.5h.01M400.5 87.5h.01M395.5 81.5h.01M386.5 76.5h.01M390.5 86.5h.01M403.5 80.5h.01M404.5 85.5h.01M400.5 75.5h.01M401.5 87.5h.01M399.5 71.5h.01M392.5 81.5h.01M394.5 76.5h.01M399.5 90.5h.01M405.5 81.5h.01M396.5 80.5h.01M408.5 78.5h.01M410.5 83.5h.01M390.5 76.5h.01M396.5 75.5h.01M392.5 79.5h.01M396.5 76.5h.01M394.5 87.5h.01M401.5 80.5h.01M401.5 77.5h.01M398.5 73.5h.01M397.5 69.5h.01M397.5 88.5h.01M399.5 73.5h.01M399.5 92.5h.01M390.5 68.5h.01M405.5 88.5h.01M389.5 76.5h.01M403.5 81.5h.01M382.5 79.5h.01M403.5 87.5h.01M400.5 91.5h.01M400.5 78.5h.01M393.5 71.5h.01M399.5 70.5h.01M387.5 75.5h.01M398.5 77.5h.01M385.5 82.5h.01M397.5 84.5h.01M396.5 90.5h.01M398.5 78.5h.01M394.5 71.5h.01M401.5 83.5h.01M398.5 90.5h.01M393.5 84.5h.01M401.5 85.5h.01M392.5 73.5h.01M396.5 88.5h.01M394.5 80.5h.01M402.5 78.5h.01M397.5 68.5h.01M389.5 82.5h.01M397.5 80.5h.01M402.5 76.5h.01M392.5 77.5h.01M392.5 78.5h.01M405.5 85.5h.01M391.5 79.5h.01M404.5 75.5h.01M407.5 79.5h.01M387.5 78.5h.01M395.5 87.5h.01M415.5 87.5h.01M405.5 86.5h.01M403.5 82.5h.01M399.5 81.5h.01M405.5 94.5h.01M392.5 91.5h.01M398.5 82.5h.01M396.5 81.5h.01M400.5 83.5h.01M397.5 94.5h.01M389.5 81.5h.01M391.5 80.5h.01M389.5 77.5h.01M393.5 76.5h.01M393.5 82.5h.01M410.5 81.5h.01M384.5 81.5h.01M403.5 74.5h.01M391.5 75.5h.01M401.5 91.5h.01M393.5 79.5h.01M397.5 74.5h.01M393.5 97.5h.01M397.5 79.5h.01M405.5 75.5h.01M394.5 81.5h.01M407.5 77.5h.01M395.5 67.5h.01M390.5 84.5h.01M397.5 73.5h.01M408.5 79.5h.01M399.5 89.5h.01M390.5 77.5h.01M394.5 83.5h.01M389.5 83.5h.01M407.5 88.5h.01M401.5 75.5h.01M406.5 72.5h.01M403.5 78.5h.01M390.5 78.5h.01M403.5 77.5h.01M396.5 84.5h.01M406.5 83.5h.01M391.5 83.5h.01M398.5 67.5h.01M389.5 84.5h.01M402.5 79.5h.01M394.5 91.5h.01M401.5 82.5h.01M400.5 72.5h.01M390.5 81.5h.01M401.5 88.5h.01M404.5 84.5h.01M402.5 70.5h.01M400.5 71.5h.01M403.5 84.5h.01M398.5 83.5h.01M391.5 81.5h.01M394.5 74.5h.01M404.5 88.5h.01M397.5 87.5h.01M392.5 87.5h.01M395.5 73.5h.01M395.5 76.5h.01M391.5 68.5h.01M404.5 81.5h.01M392.5 71.5h.01M395.5 71.5h.01M396.5 72.5h.01M393.5 74.5h.01M394.5 66.5h.01M397.5 89.5h.01M390.5 74.5h.01M409.5 80.5h.01M404.5 91.5h.01M400.5 82.5h.01M399.5 77.5h.01M386.5 70.5h.01M391.5 85.5h.01M390.5 67.5h.01M408.5 81.5h.01M399.5 83.5h.01M389.5 80.5h.01M410.5 80.5h.01M395.5 69.5h.01M392.5 76.5h.01M400.5 89.5h.01M404.5 76.5h.01M392.5 75.5h.01M402.5 94.5h.01M390.5 85.5h.01M387.5 79.5h.01M389.5 71.5h.01M391.5 67.5h.01M389.5 68.5h.01M388.5 87.5h.01M405.5 84.5h.01M407.5 85.5h.01M384.5 70.5h.01M403.5 76.5h.01M387.5 85.5h.01M402.5 82.5h.01M396.5 91.5h.01M393.5 89.5h.01M398.5 71.5h.01M408.5 76.5h.01M400.5 84.5h.01M391.5 72.5h.01M397.5 71.5h.01M393.5 70.5h.01M396.5 73.5h.01M387.5 82.5h.01M390.5 83.5h.01M384.5 79.5h.01M393.5 85.5h.01M387.5 81.5h.01M405.5 79.5h.01M386.5 80.5h.01M401.5 90.5h.01M395.5 89.5h.01M388.5 71.5h.01M404.5 72.5h.01M388.5 82.5h.01M406.5 82.5h.01M395.5 72.5h.01M397.5 67.5h.01M403.5 75.5h.01M393.5 96.5h.01M388.5 77.5h.01M402.5 91.5h.01M396.5 69.5h.01M387.5 71.5h.01M388.5 85.5h.01M393.5 69.5h.01M389.5 64.5h.01M391.5 90.5h.01M396.5 87.5h.01M393.5 75.5h.01M389.5 73.5h.01M392.5 74.5h.01M393.5 88.5h.01M390.5 82.5h.01M391.5 86.5h.01M387.5 77.5h.01M399.5 94.5h.01M401.5 84.5h.01M404.5 87.5h.01M386.5 79.5h.01M398.5 69.5h.01M383.5 81.5h.01M402.5 80.5h.01M383.5 79.5h.01M391.5 69.5h.01M388.5 74.5h.01M404.5 79.5h.01M399.5 74.5h.01M403.5 65.5h.01M402.5 85.5h.01M394.5 68.5h.01M399.5 79.5h.01M406.5 74.5h.01M386.5 77.5h.01M403.5 86.5h.01M408.5 83.5h.01M404.5 77.5h.01M392.5 72.5h.01M398.5 97.5h.01M388.5 78.5h.01M393.5 66.5h.01M391.5 87.5h.01M405.5 82.5h.01M388.5 97.5h.01M388.5 75.5h.01M397.5 93.5h.01M385.5 75.5h.01M390.5 91.5h.01M401.5 73.5h.01M384.5 82.5h.01M385.5 78.5h.01M405.5 63.5h.01M392.5 93.5h.01M396.5 70.5h.01M411.5 73.5h.01M403.5 73.5h.01M397.5 65.5h.01M405.5 80.5h.01M394.5 94.5h.01M387.5 74.5h.01M388.5 80.5h.01M394.5 72.5h.01M396.5 61.5h.01M394.5 73.5h.01M406.5 93.5h.01M388.5 72.5h.01M397.5 66.5h.01M389.5 78.5h.01M385.5 79.5h.01M386.5 73.5h.01M406.5 87.5h.01M403.5 89.5h.01M403.5 71.5h.01M404.5 73.5h.01M407.5 83.5h.01M405.5 76.5h.01M399.5 96.5h.01M396.5 68.5h.01M398.5 92.5h.01M404.5 70.5h.01M407.5 71.5h.01M400.5 69.5h.01M391.5 92.5h.01M400.5 70.5h.01M410.5 78.5h.01M401.5 89.5h.01M378.5 83.5h.01M412.5 77.5h.01M397.5 99.5h.01M402.5 67.5h.01M383.5 84.5h.01M405.5 89.5h.01M406.5 89.5h.01M407.5 84.5h.01M386.5 85.5h.01M383.5 87.5h.01M390.5 72.5h.01M383.5 85.5h.01M401.5 74.5h.01M412.5 78.5h.01M381.5 76.5h.01M401.5 96.5h.01M402.5 69.5h.01M388.5 96.5h.01M384.5 87.5h.01M386.5 81.5h.01M383.5 99.5h.01M407.5 90.5h.01M410.5 82.5h.01M395.5 91.5h.01M411.5 72.5h.01M371.5 86.5h.01M379.5 79.5h.01M391.5 96.5h.01M385.5 83.5h.01M408.5 84.5h.01M382.5 82.5h.01M388.5 76.5h.01M402.5 89.5h.01M375.5 84.5h.01M396.5 92.5h.01M378.5 72.5h.01M379.5 84.5h.01M389.5 97.5h.01M390.5 93.5h.01M402.5 99.5h.01M405.5 74.5h.01M408.5 75.5h.01M386.5 84.5h.01M399.5 68.5h.01M395.5 92.5h.01M421.5 67.5h.01M406.5 68.5h.01M421.5 85.5h.01M387.5 88.5h.01M379.5 93.5h.01M402.5 72.5h.01M396.5 97.5h.01M372.5 88.5h.01M409.5 71.5h.01M378.5 78.5h.01M373.5 84.5h.01M390.5 87.5h.01M400.5 95.5h.01M412.5 93.5h.01M386.5 91.5h.01M408.5 94.5h.01M388.5 90.5h.01M381.5 90.5h.01M386.5 90.5h.01M381.5 82.5h.01M389.5 86.5h.01M384.5 94.5h.01M382.5 84.5h.01M374.5 78.5h.01M403.5 67.5h.01M403.5 91.5h.01M410.5 70.5h.01M385.5 86.5h.01M395.5 94.5h.01M375.5 90.5h.01M382.5 81.5h.01M385.5 80.5h.01M412.5 74.5h.01M383.5 89.5h.01M419.5 70.5h.01M400.5 97.5h.01M402.5 92.5h.01M376.5 89.5h.01M396.5 66.5h.01M374.5 88.5h.01M412.5 73.5h.01M400.5 94.5h.01M409.5 88.5h.01M377.5 72.5h.01M406.5 79.5h.01M411.5 90.5h.01M409.5 77.5h.01M387.5 87.5h.01M404.5 71.5h.01M380.5 75.5h.01M379.5 86.5h.01M389.5 98.5h.01M409.5 84.5h.01M387.5 83.5h.01M383.5 86.5h.01M406.5 77.5h.01M375.5 78.5h.01M377.5 83.5h.01M382.5 93.5h.01M377.5 90.5h.01M391.5 74.5h.01M411.5 86.5h.01M384.5 74.5h.01M385.5 101.5h.01M401.5 92.5h.01M390.5 89.5h.01M409.5 90.5h.01M402.5 68.5h.01M369.5 88.5h.01M375.5 79.5h.01M390.5 95.5h.01M381.5 84.5h.01M395.5 66.5h.01M409.5 72.5h.01M399.5 88.5h.01M411.5 84.5h.01M385.5 85.5h.01M404.5 89.5h.01M394.5 99.5h.01M387.5 89.5h.01M372.5 92.5h.01M373.5 76.5h.01M407.5 78.5h.01M379.5 78.5h.01M382.5 87.5h.01M411.5 95.5h.01M405.5 62.5h.01M386.5 82.5h.01M398.5 88.5h.01M394.5 60.5h.01M400.5 67.5h.01M383.5 97.5h.01M409.5 81.5h.01M398.5 98.5h.01M430.5 116.5h.01M431.5 135.5h.01M410.5 140.5h.01M424.5 127.5h.01M422.5 123.5h.01M393.5 126.5h.01M413.5 141.5h.01M433.5 142.5h.01M433.5 119.5h.01M407.5 117.5h.01M407.5 119.5h.01M418.5 138.5h.01M424.5 128.5h.01M410.5 131.5h.01M414.5 133.5h.01M424.5 130.5h.01M421.5 125.5h.01M431.5 113.5h.01M419.5 119.5h.01M403.5 130.5h.01M391.5 135.5h.01M427.5 121.5h.01M411.5 123.5h.01M411.5 143.5h.01M411.5 122.5h.01M394.5 132.5h.01M410.5 124.5h.01M380.5 121.5h.01M410.5 110.5h.01M403.5 122.5h.01M441.5 114.5h.01M422.5 136.5h.01M412.5 114.5h.01M418.5 122.5h.01M425.5 133.5h.01M405.5 127.5h.01M412.5 133.5h.01M411.5 137.5h.01M450.5 103.5h.01M416.5 122.5h.01M388.5 119.5h.01M426.5 141.5h.01M451.5 121.5h.01M402.5 134.5h.01M464.5 140.5h.01M415.5 123.5h.01M429.5 126.5h.01M408.5 133.5h.01M412.5 124.5h.01M398.5 144.5h.01M401.5 138.5h.01M386.5 142.5h.01M431.5 125.5h.01M399.5 125.5h.01M421.5 122.5h.01M420.5 122.5h.01M406.5 109.5h.01M416.5 131.5h.01M414.5 136.5h.01M408.5 128.5h.01M416.5 121.5h.01M416.5 127.5h.01M401.5 131.5h.01M397.5 133.5h.01M404.5 149.5h.01M417.5 117.5h.01M435.5 129.5h.01M436.5 132.5h.01M420.5 127.5h.01M428.5 122.5h.01M417.5 115.5h.01M431.5 118.5h.01M417.5 135.5h.01M421.5 143.5h.01M411.5 120.5h.01M415.5 132.5h.01M442.5 129.5h.01M399.5 141.5h.01M415.5 130.5h.01M407.5 133.5h.01M429.5 135.5h.01M441.5 110.5h.01M411.5 128.5h.01M377.5 111.5h.01M424.5 103.5h.01M424.5 116.5h.01M392.5 112.5h.01M414.5 138.5h.01M383.5 127.5h.01M425.5 124.5h.01M421.5 123.5h.01M419.5 123.5h.01M400.5 130.5h.01M405.5 132.5h.01M406.5 123.5h.01M422.5 117.5h.01M401.5 123.5h.01M436.5 133.5h.01M421.5 121.5h.01M385.5 147.5h.01M439.5 121.5h.01M417.5 142.5h.01M408.5 114.5h.01M417.5 119.5h.01M390.5 136.5h.01M418.5 132.5h.01M381.5 129.5h.01M401.5 152.5h.01M434.5 125.5h.01M433.5 128.5h.01M410.5 121.5h.01M402.5 148.5h.01M428.5 135.5h.01M414.5 132.5h.01M418.5 108.5h.01M400.5 123.5h.01M426.5 130.5h.01M385.5 141.5h.01M436.5 116.5h.01M393.5 132.5h.01M406.5 138.5h.01M406.5 130.5h.01M425.5 122.5h.01M426.5 113.5h.01M420.5 119.5h.01M423.5 111.5h.01M422.5 137.5h.01M414.5 128.5h.01M388.5 116.5h.01M383.5 131.5h.01M383.5 116.5h.01M414.5 89.5h.01M412.5 141.5h.01M413.5 140.5h.01M418.5 110.5h.01M412.5 119.5h.01M394.5 125.5h.01M388.5 120.5h.01M432.5 119.5h.01M396.5 123.5h.01M411.5 130.5h.01M437.5 115.5h.01M407.5 128.5h.01M417.5 108.5h.01M431.5 141.5h.01M391.5 110.5h.01M414.5 131.5h.01M405.5 133.5h.01M445.5 126.5h.01M427.5 140.5h.01M418.5 114.5h.01M401.5 128.5h.01M427.5 127.5h.01M424.5 120.5h.01M408.5 121.5h.01M409.5 142.5h.01M394.5 121.5h.01M414.5 121.5h.01M427.5 122.5h.01M429.5 123.5h.01M423.5 128.5h.01M427.5 123.5h.01M407.5 132.5h.01M408.5 129.5h.01M432.5 130.5h.01M421.5 142.5h.01M404.5 119.5h.01M422.5 145.5h.01M427.5 120.5h.01M416.5 128.5h.01M408.5 124.5h.01M421.5 104.5h.01M439.5 142.5h.01M417.5 118.5h.01M405.5 119.5h.01M420.5 138.5h.01M398.5 130.5h.01M418.5 148.5h.01M411.5 146.5h.01M428.5 133.5h.01M416.5 129.5h.01M430.5 133.5h.01M447.5 108.5h.01M412.5 129.5h.01M414.5 130.5h.01M417.5 110.5h.01M423.5 140.5h.01M416.5 112.5h.01M384.5 132.5h.01M412.5 145.5h.01M420.5 131.5h.01M404.5 138.5h.01M431.5 145.5h.01M406.5 116.5h.01M421.5 117.5h.01M399.5 128.5h.01M429.5 117.5h.01M409.5 151.5h.01M407.5 126.5h.01M443.5 121.5h.01M427.5 138.5h.01M400.5 129.5h.01M408.5 125.5h.01M411.5 138.5h.01M404.5 116.5h.01M388.5 139.5h.01M426.5 137.5h.01M426.5 133.5h.01M418.5 124.5h.01M409.5 127.5h.01M418.5 107.5h.01M424.5 124.5h.01M400.5 132.5h.01M410.5 137.5h.01M407.5 129.5h.01M425.5 121.5h.01M418.5 117.5h.01M397.5 128.5h.01M406.5 129.5h.01M440.5 137.5h.01M401.5 129.5h.01M417.5 121.5h.01M406.5 127.5h.01M414.5 124.5h.01M409.5 103.5h.01M398.5 111.5h.01M411.5 114.5h.01M424.5 125.5h.01M396.5 131.5h.01M437.5 137.5h.01M411.5 115.5h.01M400.5 141.5h.01M417.5 131.5h.01M406.5 120.5h.01M407.5 144.5h.01M406.5 112.5h.01M413.5 114.5h.01M391.5 134.5h.01M422.5 124.5h.01M407.5 104.5h.01M431.5 121.5h.01M422.5 125.5h.01M423.5 154.5h.01M433.5 126.5h.01M410.5 115.5h.01M401.5 132.5h.01M419.5 113.5h.01M377.5 134.5h.01M409.5 130.5h.01M432.5 121.5h.01M424.5 119.5h.01M416.5 144.5h.01M409.5 134.5h.01M430.5 121.5h.01M409.5 129.5h.01M425.5 132.5h.01M423.5 135.5h.01M443.5 140.5h.01M412.5 132.5h.01M388.5 117.5h.01M424.5 148.5h.01M432.5 137.5h.01M412.5 136.5h.01M436.5 139.5h.01M439.5 107.5h.01M405.5 124.5h.01M408.5 122.5h.01M397.5 142.5h.01M422.5 112.5h.01M423.5 143.5h.01M397.5 136.5h.01M404.5 124.5h.01M395.5 150.5h.01M392.5 115.5h.01M396.5 134.5h.01M393.5 127.5h.01M420.5 123.5h.01M423.5 116.5h.01M414.5 129.5h.01M405.5 113.5h.01M422.5 122.5h.01M410.5 138.5h.01M415.5 122.5h.01M410.5 120.5h.01M415.5 140.5h.01M399.5 105.5h.01M393.5 136.5h.01M421.5 110.5h.01M396.5 119.5h.01M436.5 131.5h.01M427.5 116.5h.01M403.5 121.5h.01M408.5 147.5h.01M399.5 118.5h.01M414.5 117.5h.01M420.5 100.5h.01M450.5 110.5h.01M396.5 115.5h.01M432.5 144.5h.01M406.5 141.5h.01M418.5 112.5h.01M427.5 147.5h.01M422.5 134.5h.01M420.5 124.5h.01M431.5 105.5h.01M394.5 119.5h.01M408.5 127.5h.01M397.5 125.5h.01M401.5 120.5h.01M403.5 139.5h.01M430.5 113.5h.01M444.5 133.5h.01M416.5 114.5h.01M399.5 129.5h.01M432.5 105.5h.01M423.5 125.5h.01M427.5 124.5h.01M387.5 133.5h.01M387.5 119.5h.01M413.5 120.5h.01M422.5 98.5h.01M432.5 112.5h.01M410.5 142.5h.01M416.5 143.5h.01M418.5 135.5h.01M429.5 128.5h.01M399.5 134.5h.01M430.5 105.5h.01M420.5 116.5h.01M420.5 139.5h.01M391.5 126.5h.01M387.5 126.5h.01M411.5 121.5h.01M408.5 117.5h.01M422.5 104.5h.01M434.5 126.5h.01M414.5 122.5h.01M406.5 147.5h.01M397.5 121.5h.01M416.5 133.5h.01M412.5 139.5h.01M388.5 128.5h.01M403.5 144.5h.01M420.5 115.5h.01M399.5 145.5h.01M422.5 118.5h.01M421.5 119.5h.01M395.5 136.5h.01M433.5 121.5h.01M400.5 121.5h.01M431.5 142.5h.01M408.5 131.5h.01M422.5 103.5h.01M413.5 124.5h.01M424.5 115.5h.01M415.5 113.5h.01M432.5 118.5h.01M424.5 126.5h.01M438.5 115.5h.01M405.5 107.5h.01M433.5 118.5h.01M415.5 136.5h.01M394.5 114.5h.01M421.5 133.5h.01M438.5 118.5h.01M415.5 118.5h.01M388.5 118.5h.01M422.5 131.5h.01M401.5 144.5h.01M434.5 116.5h.01M438.5 137.5h.01M414.5 102.5h.01M393.5 119.5h.01M417.5 146.5h.01M410.5 136.5h.01M398.5 105.5h.01M413.5 128.5h.01M402.5 135.5h.01M439.5 123.5h.01M405.5 97.5h.01M405.5 130.5h.01M397.5 144.5h.01M408.5 132.5h.01M413.5 108.5h.01M432.5 115.5h.01M421.5 132.5h.01M409.5 128.5h.01M425.5 134.5h.01M405.5 120.5h.01M422.5 129.5h.01M412.5 118.5h.01M413.5 127.5h.01M403.5 125.5h.01M419.5 109.5h.01M402.5 111.5h.01M438.5 127.5h.01M414.5 126.5h.01M411.5 97.5h.01M425.5 101.5h.01M413.5 123.5h.01M416.5 126.5h.01M404.5 114.5h.01M430.5 119.5h.01M406.5 126.5h.01M409.5 138.5h.01M408.5 134.5h.01M424.5 135.5h.01M442.5 115.5h.01M402.5 125.5h.01M416.5 120.5h.01M410.5 123.5h.01M421.5 120.5h.01M397.5 137.5h.01M401.5 130.5h.01M437.5 136.5h.01M426.5 126.5h.01M394.5 135.5h.01M411.5 135.5h.01M407.5 127.5h.01M433.5 108.5h.01M388.5 152.5h.01M415.5 131.5h.01M413.5 132.5h.01M428.5 123.5h.01M400.5 128.5h.01M404.5 127.5h.01M415.5 114.5h.01M408.5 113.5h.01M418.5 118.5h.01M447.5 117.5h.01M432.5 134.5h.01M424.5 112.5h.01M403.5 138.5h.01M445.5 89.5h.01M433.5 134.5h.01M431.5 139.5h.01M431.5 126.5h.01M419.5 114.5h.01M405.5 131.5h.01M398.5 124.5h.01M413.5 121.5h.01M428.5 137.5h.01M422.5 133.5h.01M377.5 141.5h.01M440.5 114.5h.01M408.5 123.5h.01M425.5 126.5h.01M440.5 120.5h.01M394.5 130.5h.01M400.5 136.5h.01M445.5 117.5h.01M411.5 151.5h.01M413.5 119.5h.01M418.5 120.5h.01M429.5 147.5h.01M433.5 151.5h.01M410.5 125.5h.01M414.5 114.5h.01M419.5 139.5h.01M416.5 117.5h.01M440.5 128.5h.01M439.5 149.5h.01M419.5 131.5h.01M402.5 128.5h.01M405.5 134.5h.01M419.5 136.5h.01M411.5 139.5h.01M404.5 137.5h.01M422.5 139.5h.01M426.5 123.5h.01M395.5 114.5h.01M409.5 147.5h.01M391.5 136.5h.01M407.5 122.5h.01M463.5 123.5h.01M415.5 124.5h.01M410.5 108.5h.01M406.5 125.5h.01M398.5 112.5h.01M389.5 132.5h.01M414.5 125.5h.01M411.5 140.5h.01M435.5 123.5h.01M392.5 134.5h.01M433.5 120.5h.01M387.5 114.5h.01M424.5 137.5h.01M392.5 131.5h.01M422.5 119.5h.01M435.5 126.5h.01M418.5 140.5h.01M412.5 111.5h.01M420.5 146.5h.01M426.5 116.5h.01M392.5 143.5h.01M405.5 136.5h.01M421.5 124.5h.01M429.5 107.5h.01M419.5 121.5h.01M432.5 148.5h.01M401.5 127.5h.01M401.5 124.5h.01M415.5 125.5h.01M416.5 130.5h.01M398.5 154.5h.01M413.5 126.5h.01M423.5 118.5h.01M411.5 112.5h.01M431.5 106.5h.01M418.5 134.5h.01M389.5 109.5h.01M412.5 143.5h.01M395.5 139.5h.01M428.5 121.5h.01M434.5 111.5h.01M414.5 127.5h.01M421.5 126.5h.01M395.5 142.5h.01M383.5 122.5h.01M407.5 123.5h.01M411.5 126.5h.01M394.5 126.5h.01M416.5 119.5h.01M419.5 106.5h.01M423.5 107.5h.01M409.5 139.5h.01M416.5 153.5h.01M423.5 145.5h.01M400.5 133.5h.01M433.5 146.5h.01M406.5 154.5h.01M467.5 108.5h.01M426.5 120.5h.01M439.5 140.5h.01M428.5 118.5h.01M424.5 121.5h.01M402.5 114.5h.01M393.5 131.5h.01M420.5 113.5h.01M422.5 116.5h.01M393.5 120.5h.01M441.5 134.5h.01M429.5 127.5h.01M406.5 133.5h.01M449.5 115.5h.01M429.5 110.5h.01M440.5 115.5h.01M425.5 128.5h.01M417.5 138.5h.01M411.5 108.5h.01M423.5 123.5h.01M413.5 116.5h.01M396.5 132.5h.01M423.5 113.5h.01M408.5 140.5h.01M420.5 110.5h.01M413.5 138.5h.01M402.5 117.5h.01M405.5 118.5h.01M411.5 119.5h.01M411.5 117.5h.01M430.5 128.5h.01M400.5 107.5h.01M387.5 144.5h.01M409.5 143.5h.01M450.5 96.5h.01M435.5 117.5h.01M423.5 124.5h.01M428.5 128.5h.01M417.5 120.5h.01M428.5 124.5h.01M405.5 110.5h.01M408.5 148.5h.01M437.5 111.5h.01M436.5 127.5h.01M406.5 140.5h.01M431.5 116.5h.01M430.5 143.5h.01M411.5 124.5h.01M413.5 130.5h.01M415.5 135.5h.01M417.5 124.5h.01M407.5 125.5h.01M396.5 140.5h.01M410.5 133.5h.01M390.5 116.5h.01M384.5 131.5h.01M376.5 145.5h.01M434.5 128.5h.01M392.5 124.5h.01M390.5 135.5h.01M430.5 141.5h.01M420.5 126.5h.01M419.5 141.5h.01M434.5 121.5h.01M429.5 113.5h.01M407.5 130.5h.01M397.5 117.5h.01M401.5 136.5h.01M440.5 113.5h.01M418.5 109.5h.01M443.5 113.5h.01M407.5 118.5h.01M431.5 133.5h.01M419.5 142.5h.01M413.5 122.5h.01M388.5 127.5h.01M428.5 127.5h.01M405.5 122.5h.01M409.5 124.5h.01M418.5 136.5h.01M431.5 124.5h.01M406.5 121.5h.01M417.5 143.5h.01M415.5 128.5h.01M425.5 114.5h.01M412.5 120.5h.01M432.5 126.5h.01M405.5 123.5h.01M395.5 135.5h.01M415.5 127.5h.01M431.5 109.5h.01M408.5 101.5h.01M406.5 139.5h.01M419.5 117.5h.01M436.5 121.5h.01M423.5 126.5h.01M403.5 118.5h.01M434.5 131.5h.01M421.5 138.5h.01M436.5 118.5h.01M399.5 149.5h.01M438.5 117.5h.01M386.5 112.5h.01M426.5 103.5h.01M401.5 145.5h.01M412.5 140.5h.01M388.5 111.5h.01M435.5 127.5h.01M416.5 116.5h.01M402.5 115.5h.01M414.5 123.5h.01M430.5 129.5h.01M401.5 125.5h.01M428.5 120.5h.01M415.5 137.5h.01M444.5 126.5h.01M398.5 133.5h.01M390.5 126.5h.01M411.5 136.5h.01M431.5 120.5h.01M397.5 118.5h.01M413.5 118.5h.01M449.5 129.5h.01M415.5 139.5h.01M403.5 134.5h.01M421.5 137.5h.01M437.5 122.5h.01M429.5 120.5h.01M423.5 130.5h.01M442.5 122.5h.01M387.5 130.5h.01M411.5 111.5h.01M432.5 110.5h.01M412.5 115.5h.01M397.5 140.5h.01M402.5 127.5h.01M450.5 117.5h.01M413.5 133.5h.01M401.5 135.5h.01M412.5 128.5h.01M407.5 116.5h.01M398.5 123.5h.01M409.5 114.5h.01M423.5 142.5h.01M391.5 146.5h.01M394.5 137.5h.01M426.5 136.5h.01M432.5 156.5h.01M419.5 143.5h.01M401.5 133.5h.01M419.5 138.5h.01M414.5 115.5h.01M425.5 136.5h.01M419.5 127.5h.01M426.5 134.5h.01M380.5 128.5h.01M410.5 107.5h.01M419.5 132.5h.01M412.5 121.5h.01M417.5 139.5h.01M423.5 131.5h.01M410.5 130.5h.01M427.5 119.5h.01M423.5 132.5h.01M427.5 128.5h.01M421.5 128.5h.01M420.5 129.5h.01M419.5 118.5h.01M417.5 137.5h.01M421.5 127.5h.01M427.5 131.5h.01M420.5 125.5h.01M410.5 126.5h.01M417.5 127.5h.01M412.5 134.5h.01M414.5 134.5h.01M419.5 130.5h.01M417.5 136.5h.01M413.5 125.5h.01M418.5 129.5h.01M420.5 133.5h.01M420.5 132.5h.01M418.5 128.5h.01M418.5 126.5h.01M416.5 135.5h.01M416.5 125.5h.01M416.5 132.5h.01M416.5 137.5h.01M412.5 126.5h.01M426.5 122.5h.01M425.5 125.5h.01M411.5 125.5h.01M419.5 126.5h.01M411.5 133.5h.01M410.5 135.5h.01M421.5 129.5h.01M418.5 121.5h.01M419.5 124.5h.01M414.5 141.5h.01M417.5 133.5h.01M422.5 128.5h.01M429.5 124.5h.01M414.5 118.5h.01M411.5 129.5h.01M412.5 116.5h.01M425.5 129.5h.01M421.5 134.5h.01M412.5 131.5h.01M418.5 130.5h.01M419.5 128.5h.01M411.5 127.5h.01M416.5 124.5h.01M423.5 127.5h.01M427.5 125.5h.01M417.5 122.5h.01M419.5 125.5h.01M414.5 135.5h.01M428.5 131.5h.01M415.5 120.5h.01M418.5 123.5h.01M412.5 127.5h.01M417.5 130.5h.01M410.5 129.5h.01M415.5 134.5h.01M422.5 127.5h.01M419.5 133.5h.01M419.5 120.5h.01M426.5 128.5h.01M415.5 129.5h.01M417.5 123.5h.01M424.5 129.5h.01M426.5 125.5h.01M422.5 121.5h.01M422.5 132.5h.01M420.5 134.5h.01M422.5 135.5h.01M412.5 130.5h.01M419.5 122.5h.01M417.5 128.5h.01M423.5 139.5h.01M422.5 130.5h.01M426.5 127.5h.01M418.5 131.5h.01M417.5 126.5h.01M426.5 124.5h.01M417.5 132.5h.01M407.5 124.5h.01M405.5 121.5h.01M413.5 117.5h.01M413.5 115.5h.01M409.5 123.5h.01M427.5 132.5h.01M417.5 125.5h.01M412.5 135.5h.01M417.5 113.5h.01M426.5 139.5h.01M420.5 128.5h.01M407.5 136.5h.01M424.5 136.5h.01M429.5 131.5h.01M421.5 130.5h.01M424.5 134.5h.01M409.5 132.5h.01M430.5 118.5h.01M426.5 121.5h.01M418.5 137.5h.01M413.5 136.5h.01M423.5 121.5h.01M408.5 137.5h.01M411.5 134.5h.01M427.5 134.5h.01M423.5 133.5h.01M411.5 132.5h.01M410.5 122.5h.01M422.5 126.5h.01M421.5 131.5h.01M415.5 126.5h.01M414.5 120.5h.01M417.5 129.5h.01M430.5 96.5h.01M429.5 109.5h.01M421.5 105.5h.01M420.5 98.5h.01M424.5 105.5h.01M420.5 111.5h.01M406.5 110.5h.01M406.5 84.5h.01M413.5 105.5h.01M405.5 90.5h.01M405.5 98.5h.01M417.5 105.5h.01M419.5 110.5h.01M435.5 113.5h.01M415.5 107.5h.01M416.5 123.5h.01M395.5 103.5h.01M412.5 91.5h.01M428.5 98.5h.01M406.5 100.5h.01M441.5 107.5h.01M442.5 116.5h.01M416.5 107.5h.01M401.5 108.5h.01M416.5 95.5h.01M422.5 100.5h.01M419.5 111.5h.01M450.5 118.5h.01M426.5 108.5h.01M426.5 99.5h.01M424.5 117.5h.01M418.5 88.5h.01M414.5 96.5h.01M398.5 99.5h.01M443.5 117.5h.01M410.5 111.5h.01M399.5 97.5h.01M450.5 124.5h.01M427.5 109.5h.01M442.5 120.5h.01M442.5 118.5h.01M430.5 101.5h.01M411.5 113.5h.01M420.5 107.5h.01M413.5 90.5h.01M422.5 101.5h.01M412.5 99.5h.01M432.5 114.5h.01M420.5 93.5h.01M398.5 107.5h.01M434.5 97.5h.01M421.5 113.5h.01M403.5 92.5h.01M428.5 94.5h.01M437.5 116.5h.01M394.5 108.5h.01M430.5 100.5h.01M396.5 110.5h.01M446.5 105.5h.01M428.5 106.5h.01M417.5 106.5h.01M421.5 80.5h.01M455.5 119.5h.01M441.5 103.5h.01M416.5 86.5h.01M453.5 127.5h.01M437.5 78.5h.01M416.5 110.5h.01M403.5 104.5h.01M440.5 78.5h.01M420.5 97.5h.01M410.5 101.5h.01M412.5 117.5h.01M412.5 94.5h.01M400.5 99.5h.01M439.5 113.5h.01M427.5 102.5h.01M417.5 114.5h.01M426.5 92.5h.01M438.5 101.5h.01M433.5 105.5h.01M427.5 118.5h.01M412.5 104.5h.01M404.5 107.5h.01M412.5 109.5h.01M414.5 97.5h.01M445.5 118.5h.01M393.5 102.5h.01M406.5 99.5h.01M402.5 109.5h.01M425.5 106.5h.01M437.5 94.5h.01M407.5 105.5h.01M430.5 112.5h.01M438.5 100.5h.01M441.5 102.5h.01M426.5 110.5h.01M432.5 103.5h.01M405.5 105.5h.01M421.5 108.5h.01M407.5 102.5h.01M414.5 103.5h.01M438.5 123.5h.01M418.5 99.5h.01M441.5 105.5h.01M405.5 104.5h.01M402.5 105.5h.01M423.5 91.5h.01M433.5 111.5h.01M412.5 100.5h.01M430.5 107.5h.01M435.5 110.5h.01M437.5 107.5h.01M422.5 106.5h.01M425.5 117.5h.01M403.5 114.5h.01M409.5 101.5h.01M434.5 129.5h.01M386.5 97.5h.01M406.5 119.5h.01M431.5 103.5h.01M421.5 112.5h.01M433.5 101.5h.01M429.5 100.5h.01M418.5 87.5h.01M433.5 109.5h.01M421.5 106.5h.01M433.5 112.5h.01M415.5 105.5h.01M414.5 101.5h.01M428.5 80.5h.01M413.5 111.5h.01M418.5 105.5h.01M425.5 92.5h.01M440.5 80.5h.01M448.5 127.5h.01M419.5 88.5h.01M442.5 106.5h.01M427.5 113.5h.01M447.5 99.5h.01M442.5 133.5h.01M438.5 109.5h.01M434.5 99.5h.01M418.5 106.5h.01M395.5 96.5h.01M408.5 92.5h.01M418.5 91.5h.01M390.5 99.5h.01M405.5 91.5h.01M411.5 99.5h.01M425.5 123.5h.01M410.5 96.5h.01M400.5 103.5h.01M417.5 101.5h.01M434.5 96.5h.01M414.5 94.5h.01M431.5 108.5h.01M409.5 95.5h.01M425.5 93.5h.01M423.5 103.5h.01M428.5 117.5h.01M408.5 110.5h.01M420.5 103.5h.01M419.5 97.5h.01M464.5 101.5h.01M422.5 114.5h.01M432.5 107.5h.01M423.5 88.5h.01M437.5 101.5h.01M428.5 126.5h.01M436.5 117.5h.01M427.5 108.5h.01M455.5 123.5h.01M441.5 93.5h.01M398.5 91.5h.01M426.5 93.5h.01M423.5 97.5h.01M390.5 94.5h.01M409.5 108.5h.01M423.5 134.5h.01M396.5 94.5h.01M432.5 108.5h.01M432.5 113.5h.01M427.5 98.5h.01M422.5 110.5h.01M415.5 95.5h.01M438.5 114.5h.01M450.5 100.5h.01M416.5 80.5h.01M442.5 111.5h.01M413.5 93.5h.01M419.5 107.5h.01M407.5 97.5h.01M443.5 107.5h.01M421.5 93.5h.01M427.5 81.5h.01M434.5 86.5h.01M421.5 97.5h.01M414.5 105.5h.01M427.5 100.5h.01M429.5 101.5h.01M433.5 91.5h.01M412.5 85.5h.01M428.5 113.5h.01M439.5 89.5h.01M415.5 111.5h.01M427.5 97.5h.01M413.5 109.5h.01M424.5 108.5h.01M446.5 119.5h.01M424.5 118.5h.01M426.5 96.5h.01M402.5 107.5h.01M400.5 104.5h.01M438.5 104.5h.01M393.5 109.5h.01M401.5 102.5h.01M412.5 108.5h.01M433.5 99.5h.01M430.5 99.5h.01M430.5 103.5h.01M396.5 109.5h.01M415.5 94.5h.01M429.5 104.5h.01M446.5 102.5h.01M430.5 102.5h.01M434.5 94.5h.01M421.5 103.5h.01M449.5 112.5h.01M407.5 106.5h.01M428.5 84.5h.01M422.5 86.5h.01M418.5 95.5h.01M411.5 103.5h.01M434.5 109.5h.01M423.5 112.5h.01M407.5 96.5h.01M396.5 107.5h.01M413.5 110.5h.01M418.5 111.5h.01M457.5 111.5h.01M436.5 124.5h.01M451.5 89.5h.01M431.5 114.5h.01M419.5 101.5h.01M387.5 140.5h.01M419.5 115.5h.01M387.5 127.5h.01M379.5 135.5h.01M387.5 118.5h.01M396.5 106.5h.01M385.5 127.5h.01M387.5 129.5h.01M394.5 117.5h.01M393.5 139.5h.01M391.5 128.5h.01M381.5 123.5h.01M392.5 121.5h.01M380.5 131.5h.01M382.5 127.5h.01M389.5 110.5h.01M373.5 124.5h.01M387.5 120.5h.01M379.5 130.5h.01M406.5 145.5h.01M390.5 142.5h.01M396.5 138.5h.01M374.5 131.5h.01M379.5 125.5h.01M390.5 134.5h.01M378.5 123.5h.01M403.5 124.5h.01M393.5 128.5h.01M394.5 128.5h.01M390.5 154.5h.01M399.5 137.5h.01M385.5 124.5h.01M395.5 140.5h.01M403.5 123.5h.01M393.5 143.5h.01M393.5 140.5h.01M392.5 114.5h.01M398.5 128.5h.01M389.5 127.5h.01M375.5 133.5h.01M392.5 133.5h.01M407.5 142.5h.01M379.5 114.5h.01M382.5 108.5h.01M398.5 145.5h.01M381.5 140.5h.01M394.5 144.5h.01M391.5 116.5h.01M372.5 126.5h.01M398.5 132.5h.01M405.5 135.5h.01M377.5 128.5h.01M489.5 106.5h.01M432.5 88.5h.01M450.5 138.5h.01M368.5 149.5h.01M475.5 136.5h.01M463.5 97.5h.01M429.5 151.5h.01M465.5 148.5h.01M445.5 150.5h.01M485.5 77.5h.01M400.5 139.5h.01M479.5 120.5h.01M424.5 88.5h.01M441.5 91.5h.01M430.5 150.5h.01M491.5 106.5h.01M453.5 135.5h.01M465.5 154.5h.01M369.5 93.5h.01" stroke="#000" stroke-width="1.6" stroke-linecap="square" fill="none"/>
<text transform="translate(360.5 198.8)" font-size="14" font-weight="bold" textLength="60.3" lengthAdjust="spacing" stroke="#000" stroke-width="0.5">VCAM-Ig</text>
<text transform="translate(440.5 198.8)" font-size="14" font-weight="bold" textLength="48.8" lengthAdjust="spacing" stroke="#000" stroke-width="0.5">Binding</text>
<text transform="translate(325.2 188) rotate(-90)" font-size="14" font-weight="bold" textLength="69.0" lengthAdjust="spacing" stroke="#000" stroke-width="0.5">Annexin-V</text>
<text transform="translate(325.2 96.6) rotate(-90)" font-size="14" font-weight="bold" textLength="51.5" lengthAdjust="spacing" stroke="#000" stroke-width="0.5">Binding</text>
<text x="362.2 373.6 381.9 385.8" y="69.5" font-size="13.5" font-weight="bold" stroke="#000" stroke-width="0.32">47 %</text>
<text x="466.2 474.9 479.2" y="73" font-size="13.5" font-weight="bold" stroke="#000" stroke-width="0.32">6 %</text>
<text x="363.6 373.4 382.6 387.5" y="156.9" font-size="13.5" font-weight="bold" stroke="#000" stroke-width="0.32">18 %</text>
<text x="455.7 468.1 475.9 479.4" y="156.5" font-size="13.5" font-weight="bold" stroke="#000" stroke-width="0.32">28 %</text>
<text transform="translate(310.8 18.2)" font-size="24.5" font-weight="bold" stroke="#000" stroke-width="0.5">B</text>
<text x="342.0 355.2 366.4 375.7 381.5 388.4 400.5 411.7" y="15.5" font-size="19" font-weight="bold" stroke="#000" stroke-width="0.5">Anti-Fas</text>
<rect x="49.5" y="276.9" width="136.4" height="104.2" fill="none" stroke="#000" stroke-width="1.5"/>
<path d="M103.5 276.9V381.1M49.5 329.3H185.9" stroke="#000" stroke-width="1.5" fill="none"/>
<path d="M49.5 381.1v6.6M49.5 381.1h-6.5M62.0 381.1v4.3M49.5 371.9h-3.7M69.3 381.1v4.3M49.5 366.5h-3.7M74.4 381.1v4.3M49.5 362.6h-3.7M78.4 381.1v4.3M49.5 359.6h-3.7M81.7 381.1v4.3M49.5 357.2h-3.7M84.5 381.1v4.3M49.5 355.2h-3.7M86.9 381.1v4.3M49.5 353.4h-3.7M89.0 381.1v4.3M49.5 351.8h-3.7M90.9 381.1v6.6M49.5 350.4h-6.5M103.4 381.1v4.3M49.5 341.0h-3.7M110.7 381.1v4.3M49.5 335.5h-3.7M115.8 381.1v4.3M49.5 331.6h-3.7M119.8 381.1v4.3M49.5 328.6h-3.7M123.1 381.1v4.3M49.5 326.1h-3.7M125.9 381.1v4.3M49.5 324.0h-3.7M128.3 381.1v4.3M49.5 322.2h-3.7M130.4 381.1v4.3M49.5 320.6h-3.7M132.3 381.1v6.6M49.5 319.2h-6.5M144.8 381.1v4.3M49.5 310.5h-3.7M152.1 381.1v4.3M49.5 305.5h-3.7M157.2 381.1v4.3M49.5 301.9h-3.7M161.2 381.1v4.3M49.5 299.1h-3.7M164.5 381.1v4.3M49.5 296.8h-3.7M167.3 381.1v4.3M49.5 294.9h-3.7M169.7 381.1v4.3M49.5 293.2h-3.7M171.8 381.1v4.3M49.5 291.7h-3.7M173.7 381.1v6.6M49.5 290.4h-6.5M186.2 381.1v4.3M49.5 281.3h-3.7" stroke="#000" stroke-width="1.2" fill="none"/>
<rect x="45.8" y="353.3" width="3.7" height="5.2" fill="#000"/>
<rect x="45.8" y="352.8" width="3.7" height="5.2" fill="#000"/>
<rect x="45.8" y="322.6" width="3.7" height="5.2" fill="#000"/>
<rect x="45.8" y="321.6" width="3.7" height="5.2" fill="#000"/>
<rect x="45.8" y="291.4" width="3.7" height="5.2" fill="#000"/>
<rect x="45.8" y="292.8" width="3.7" height="5.2" fill="#000"/>
<text transform="translate(40.7 400.9)" font-size="11.1" stroke="#000" stroke-width="0.45">10</text>
<text transform="translate(52.9 394.9) scale(0.95 1)" font-size="11.1" stroke="#000" stroke-width="0.45">0</text>
<text transform="translate(39.2 390.0) rotate(-90) scale(0.95 1.2)" font-size="11.1" stroke="#000" stroke-width="0.45">10</text>
<text transform="translate(31.7 376.7) rotate(-90) scale(0.95 1.2)" font-size="11.1" stroke="#000" stroke-width="0.45">0</text>
<text transform="translate(82.1 400.9)" font-size="11.1" stroke="#000" stroke-width="0.45">10</text>
<text transform="translate(94.3 394.9) scale(0.95 1)" font-size="11.1" stroke="#000" stroke-width="0.45">1</text>
<text transform="translate(39.2 359.3) rotate(-90) scale(0.95 1.2)" font-size="11.1" stroke="#000" stroke-width="0.45">10</text>
<text transform="translate(31.7 346.0) rotate(-90) scale(0.95 1.2)" font-size="11.1" stroke="#000" stroke-width="0.45">1</text>
<text transform="translate(123.5 400.9)" font-size="11.1" stroke="#000" stroke-width="0.45">10</text>
<text transform="translate(135.7 394.9) scale(0.95 1)" font-size="11.1" stroke="#000" stroke-width="0.45">2</text>
<text transform="translate(39.2 328.1) rotate(-90) scale(0.95 1.2)" font-size="11.1" stroke="#000" stroke-width="0.45">10</text>
<text transform="translate(31.7 314.8) rotate(-90) scale(0.95 1.2)" font-size="11.1" stroke="#000" stroke-width="0.45">2</text>
<text transform="translate(164.9 400.9)" font-size="11.1" stroke="#000" stroke-width="0.45">10</text>
<text transform="translate(177.1 394.9) scale(0.95 1)" font-size="11.1" stroke="#000" stroke-width="0.45">3</text>
<text transform="translate(39.2 299.3) rotate(-90) scale(0.95 1.2)" font-size="11.1" stroke="#000" stroke-width="0.45">10</text>
<text transform="translate(31.7 286.0) rotate(-90) scale(0.95 1.2)" font-size="11.1" stroke="#000" stroke-width="0.45">3</text>
<path d="M120.5 301.5h.01M122.5 302.5h.01M122.5 300.5h.01M120.5 296.5h.01M129.5 294.5h.01M132.5 300.5h.01M125.5 297.5h.01M109.5 298.5h.01M124.5 295.5h.01M129.5 309.5h.01M124.5 303.5h.01M127.5 311.5h.01M125.5 298.5h.01M114.5 301.5h.01M106.5 299.5h.01M129.5 301.5h.01M121.5 299.5h.01M128.5 300.5h.01M123.5 290.5h.01M123.5 299.5h.01M135.5 305.5h.01M116.5 290.5h.01M125.5 299.5h.01M117.5 304.5h.01M125.5 308.5h.01M128.5 301.5h.01M129.5 304.5h.01M126.5 311.5h.01M115.5 308.5h.01M126.5 299.5h.01M131.5 298.5h.01M132.5 307.5h.01M140.5 303.5h.01M129.5 298.5h.01M117.5 299.5h.01M121.5 303.5h.01M125.5 300.5h.01M116.5 299.5h.01M131.5 293.5h.01M129.5 311.5h.01M118.5 308.5h.01M129.5 310.5h.01M119.5 300.5h.01M125.5 302.5h.01M123.5 304.5h.01M126.5 306.5h.01M116.5 291.5h.01M129.5 303.5h.01M109.5 295.5h.01M121.5 297.5h.01M136.5 311.5h.01M121.5 301.5h.01M125.5 301.5h.01M120.5 297.5h.01M141.5 301.5h.01M105.5 298.5h.01M107.5 305.5h.01M132.5 301.5h.01M136.5 307.5h.01M121.5 302.5h.01M133.5 307.5h.01M126.5 302.5h.01M133.5 294.5h.01M125.5 295.5h.01M103.5 291.5h.01M119.5 307.5h.01M113.5 303.5h.01M132.5 299.5h.01M129.5 296.5h.01M125.5 303.5h.01M126.5 303.5h.01M121.5 296.5h.01M139.5 295.5h.01M126.5 310.5h.01M123.5 296.5h.01M114.5 300.5h.01M120.5 308.5h.01M125.5 291.5h.01M123.5 305.5h.01M124.5 300.5h.01M117.5 302.5h.01M125.5 294.5h.01M114.5 288.5h.01M119.5 311.5h.01M119.5 299.5h.01M131.5 306.5h.01M128.5 307.5h.01M116.5 303.5h.01M122.5 305.5h.01M130.5 310.5h.01M134.5 304.5h.01M114.5 308.5h.01M122.5 299.5h.01M127.5 302.5h.01M130.5 304.5h.01M114.5 311.5h.01M136.5 306.5h.01M116.5 301.5h.01M125.5 312.5h.01M133.5 303.5h.01M131.5 304.5h.01M131.5 299.5h.01M134.5 295.5h.01M124.5 302.5h.01M130.5 299.5h.01M136.5 297.5h.01M119.5 301.5h.01M115.5 300.5h.01M118.5 297.5h.01M135.5 292.5h.01M134.5 300.5h.01M122.5 311.5h.01M127.5 306.5h.01M111.5 306.5h.01M123.5 298.5h.01M127.5 304.5h.01M125.5 293.5h.01M123.5 301.5h.01M127.5 303.5h.01M106.5 310.5h.01M147.5 298.5h.01M120.5 298.5h.01M128.5 286.5h.01M140.5 296.5h.01M138.5 308.5h.01M125.5 304.5h.01M116.5 302.5h.01M126.5 315.5h.01M131.5 294.5h.01M116.5 300.5h.01M127.5 310.5h.01M133.5 304.5h.01M117.5 306.5h.01M116.5 296.5h.01M122.5 301.5h.01M131.5 290.5h.01M121.5 289.5h.01M126.5 301.5h.01M123.5 302.5h.01M129.5 313.5h.01M126.5 304.5h.01M121.5 298.5h.01M128.5 295.5h.01M119.5 297.5h.01M123.5 306.5h.01M127.5 305.5h.01M133.5 301.5h.01M127.5 298.5h.01M139.5 286.5h.01M130.5 303.5h.01M118.5 284.5h.01M126.5 288.5h.01M128.5 302.5h.01M127.5 295.5h.01M126.5 300.5h.01M122.5 298.5h.01M119.5 304.5h.01M123.5 291.5h.01M128.5 298.5h.01M132.5 306.5h.01M101.5 301.5h.01M129.5 297.5h.01M134.5 303.5h.01M128.5 296.5h.01M130.5 305.5h.01M129.5 306.5h.01M117.5 294.5h.01M119.5 305.5h.01M115.5 295.5h.01M114.5 307.5h.01M126.5 298.5h.01M118.5 296.5h.01M121.5 306.5h.01M109.5 313.5h.01M122.5 308.5h.01M134.5 306.5h.01M124.5 298.5h.01M135.5 295.5h.01M138.5 309.5h.01M132.5 297.5h.01M133.5 298.5h.01M129.5 302.5h.01M118.5 298.5h.01M118.5 301.5h.01M142.5 309.5h.01M124.5 294.5h.01M136.5 303.5h.01M139.5 298.5h.01M116.5 298.5h.01M120.5 310.5h.01M136.5 305.5h.01M129.5 307.5h.01M143.5 304.5h.01M112.5 301.5h.01M135.5 298.5h.01M124.5 306.5h.01M117.5 297.5h.01M124.5 299.5h.01M117.5 303.5h.01M114.5 305.5h.01M121.5 305.5h.01M138.5 289.5h.01M124.5 297.5h.01M126.5 295.5h.01M141.5 306.5h.01M120.5 306.5h.01M118.5 294.5h.01M127.5 299.5h.01M133.5 305.5h.01M121.5 304.5h.01M137.5 308.5h.01M120.5 300.5h.01M123.5 297.5h.01M137.5 306.5h.01M121.5 307.5h.01M132.5 303.5h.01M134.5 297.5h.01M105.5 296.5h.01M131.5 300.5h.01M122.5 306.5h.01M128.5 305.5h.01M124.5 311.5h.01M100.5 299.5h.01M128.5 304.5h.01M118.5 290.5h.01M130.5 302.5h.01M128.5 306.5h.01M109.5 302.5h.01M112.5 298.5h.01M120.5 305.5h.01M120.5 292.5h.01M111.5 302.5h.01M115.5 303.5h.01M118.5 307.5h.01M115.5 289.5h.01M128.5 303.5h.01M134.5 301.5h.01M133.5 309.5h.01M140.5 309.5h.01M125.5 309.5h.01M138.5 301.5h.01M130.5 301.5h.01M139.5 297.5h.01M116.5 307.5h.01M126.5 297.5h.01M123.5 314.5h.01M132.5 294.5h.01M126.5 308.5h.01M135.5 301.5h.01M133.5 297.5h.01M112.5 302.5h.01M125.5 296.5h.01M128.5 310.5h.01M112.5 297.5h.01M129.5 295.5h.01M132.5 302.5h.01M136.5 302.5h.01M133.5 306.5h.01M128.5 299.5h.01M114.5 315.5h.01M133.5 288.5h.01M116.5 295.5h.01M140.5 294.5h.01M145.5 292.5h.01M128.5 315.5h.01M124.5 310.5h.01M134.5 298.5h.01M117.5 311.5h.01M115.5 305.5h.01M129.5 305.5h.01M127.5 296.5h.01M120.5 295.5h.01M119.5 308.5h.01M134.5 307.5h.01M122.5 303.5h.01M134.5 308.5h.01M119.5 291.5h.01M124.5 312.5h.01M123.5 294.5h.01M110.5 297.5h.01M125.5 288.5h.01M123.5 311.5h.01M130.5 295.5h.01M126.5 307.5h.01M132.5 310.5h.01M128.5 293.5h.01M125.5 305.5h.01M121.5 314.5h.01M122.5 296.5h.01M111.5 294.5h.01M124.5 307.5h.01M132.5 305.5h.01M118.5 302.5h.01M130.5 298.5h.01M138.5 294.5h.01M119.5 294.5h.01M115.5 299.5h.01M135.5 310.5h.01M140.5 308.5h.01M134.5 309.5h.01M121.5 293.5h.01M132.5 298.5h.01M110.5 300.5h.01M109.5 294.5h.01M117.5 301.5h.01M127.5 294.5h.01M122.5 294.5h.01M112.5 291.5h.01M134.5 288.5h.01M132.5 295.5h.01M130.5 291.5h.01M124.5 316.5h.01M139.5 293.5h.01M111.5 301.5h.01M131.5 297.5h.01M118.5 299.5h.01M119.5 290.5h.01M131.5 302.5h.01M128.5 297.5h.01M134.5 292.5h.01M134.5 305.5h.01M124.5 301.5h.01M120.5 302.5h.01M103.5 301.5h.01M130.5 292.5h.01M138.5 299.5h.01M116.5 314.5h.01M135.5 313.5h.01M141.5 290.5h.01M122.5 309.5h.01M141.5 305.5h.01M128.5 316.5h.01M121.5 295.5h.01M137.5 310.5h.01M127.5 308.5h.01M133.5 313.5h.01M122.5 295.5h.01M121.5 315.5h.01M126.5 309.5h.01M125.5 307.5h.01M139.5 300.5h.01M132.5 293.5h.01M121.5 300.5h.01M115.5 302.5h.01M121.5 294.5h.01M136.5 298.5h.01M132.5 316.5h.01M112.5 308.5h.01M118.5 306.5h.01M123.5 309.5h.01M131.5 301.5h.01M139.5 299.5h.01M135.5 303.5h.01M120.5 311.5h.01M115.5 297.5h.01M139.5 296.5h.01M116.5 306.5h.01M113.5 296.5h.01M133.5 299.5h.01M123.5 303.5h.01M123.5 307.5h.01M131.5 313.5h.01M118.5 305.5h.01M139.5 303.5h.01M138.5 305.5h.01M123.5 308.5h.01M114.5 298.5h.01M111.5 305.5h.01M129.5 293.5h.01M139.5 288.5h.01M142.5 304.5h.01M124.5 304.5h.01M127.5 301.5h.01M123.5 295.5h.01M127.5 287.5h.01M127.5 300.5h.01M143.5 308.5h.01M133.5 311.5h.01M127.5 309.5h.01M116.5 304.5h.01M117.5 307.5h.01M123.5 293.5h.01M128.5 294.5h.01M133.5 302.5h.01M117.5 288.5h.01M122.5 310.5h.01M138.5 298.5h.01M113.5 310.5h.01M113.5 298.5h.01M115.5 296.5h.01M136.5 309.5h.01M123.5 300.5h.01M120.5 299.5h.01M119.5 295.5h.01M110.5 303.5h.01M134.5 291.5h.01M123.5 315.5h.01M133.5 292.5h.01M122.5 304.5h.01M136.5 301.5h.01M124.5 292.5h.01M121.5 309.5h.01M135.5 299.5h.01M116.5 308.5h.01M130.5 290.5h.01M137.5 292.5h.01M134.5 316.5h.01M127.5 318.5h.01M98.5 292.5h.01M131.5 307.5h.01M115.5 301.5h.01M114.5 306.5h.01M107.5 304.5h.01M119.5 296.5h.01M121.5 292.5h.01M115.5 307.5h.01M118.5 300.5h.01M132.5 292.5h.01M118.5 303.5h.01M131.5 303.5h.01M118.5 304.5h.01M128.5 311.5h.01M120.5 303.5h.01M130.5 306.5h.01M132.5 312.5h.01M132.5 296.5h.01M118.5 292.5h.01M131.5 295.5h.01M125.5 290.5h.01M131.5 318.5h.01M119.5 298.5h.01M133.5 310.5h.01M137.5 301.5h.01M131.5 308.5h.01M114.5 295.5h.01M137.5 295.5h.01M109.5 301.5h.01M133.5 300.5h.01M138.5 306.5h.01M146.5 313.5h.01M123.5 310.5h.01M120.5 309.5h.01M119.5 313.5h.01M134.5 313.5h.01M129.5 300.5h.01M133.5 315.5h.01M116.5 292.5h.01M120.5 291.5h.01M110.5 306.5h.01M120.5 307.5h.01M122.5 297.5h.01M108.5 291.5h.01M104.5 300.5h.01M130.5 300.5h.01M115.5 306.5h.01M134.5 299.5h.01M128.5 285.5h.01M110.5 304.5h.01M133.5 295.5h.01M142.5 291.5h.01M131.5 296.5h.01M132.5 309.5h.01M140.5 302.5h.01M135.5 297.5h.01M126.5 305.5h.01M118.5 287.5h.01M133.5 308.5h.01M127.5 292.5h.01M118.5 315.5h.01M111.5 299.5h.01M130.5 296.5h.01M127.5 297.5h.01M117.5 298.5h.01M136.5 313.5h.01M139.5 319.5h.01M118.5 291.5h.01M113.5 302.5h.01M134.5 315.5h.01M114.5 297.5h.01M127.5 293.5h.01M132.5 304.5h.01M124.5 293.5h.01M125.5 287.5h.01M109.5 303.5h.01M141.5 317.5h.01M129.5 299.5h.01M137.5 299.5h.01M112.5 299.5h.01M138.5 303.5h.01M144.5 301.5h.01M126.5 292.5h.01M121.5 310.5h.01M126.5 293.5h.01M117.5 300.5h.01M117.5 296.5h.01M118.5 314.5h.01M130.5 294.5h.01M122.5 307.5h.01M129.5 308.5h.01M137.5 293.5h.01M111.5 313.5h.01M110.5 308.5h.01M119.5 287.5h.01M128.5 308.5h.01M144.5 299.5h.01M126.5 320.5h.01M131.5 292.5h.01M144.5 305.5h.01M136.5 299.5h.01M130.5 293.5h.01M130.5 308.5h.01M140.5 299.5h.01M142.5 292.5h.01M115.5 304.5h.01M129.5 292.5h.01M115.5 293.5h.01M126.5 296.5h.01M134.5 293.5h.01M122.5 287.5h.01M113.5 291.5h.01M111.5 291.5h.01M117.5 291.5h.01M140.5 298.5h.01M128.5 290.5h.01M124.5 305.5h.01M138.5 310.5h.01M114.5 313.5h.01M119.5 302.5h.01M126.5 290.5h.01M110.5 296.5h.01M123.5 312.5h.01M120.5 283.5h.01M138.5 297.5h.01M136.5 293.5h.01M139.5 305.5h.01M122.5 288.5h.01M118.5 295.5h.01M144.5 296.5h.01M137.5 300.5h.01M136.5 296.5h.01M112.5 303.5h.01M117.5 293.5h.01M113.5 306.5h.01M116.5 294.5h.01M135.5 308.5h.01M108.5 303.5h.01M113.5 308.5h.01M116.5 293.5h.01M127.5 288.5h.01M117.5 295.5h.01M115.5 309.5h.01M141.5 298.5h.01M137.5 307.5h.01M137.5 296.5h.01M124.5 289.5h.01M133.5 296.5h.01M125.5 315.5h.01M129.5 288.5h.01M127.5 291.5h.01M125.5 306.5h.01M139.5 301.5h.01M116.5 309.5h.01M116.5 288.5h.01M126.5 294.5h.01M138.5 302.5h.01M137.5 302.5h.01M125.5 289.5h.01M135.5 300.5h.01M113.5 299.5h.01M112.5 300.5h.01M108.5 305.5h.01M114.5 309.5h.01M121.5 308.5h.01M122.5 314.5h.01M134.5 294.5h.01M112.5 305.5h.01M126.5 314.5h.01M126.5 312.5h.01M124.5 309.5h.01M109.5 300.5h.01M139.5 306.5h.01M116.5 297.5h.01M131.5 291.5h.01M113.5 301.5h.01M102.5 311.5h.01M103.5 308.5h.01M136.5 308.5h.01M121.5 311.5h.01M137.5 305.5h.01M120.5 288.5h.01M115.5 298.5h.01M110.5 302.5h.01M139.5 304.5h.01M144.5 303.5h.01M131.5 305.5h.01M117.5 305.5h.01M140.5 293.5h.01M102.5 305.5h.01M131.5 289.5h.01M106.5 297.5h.01M104.5 301.5h.01M108.5 297.5h.01M108.5 295.5h.01M120.5 304.5h.01M117.5 310.5h.01M135.5 289.5h.01M134.5 310.5h.01M138.5 300.5h.01M136.5 300.5h.01M112.5 309.5h.01M142.5 305.5h.01M142.5 300.5h.01M124.5 296.5h.01M117.5 286.5h.01M113.5 304.5h.01M121.5 316.5h.01M119.5 293.5h.01M119.5 314.5h.01M119.5 310.5h.01M118.5 293.5h.01M114.5 312.5h.01M116.5 305.5h.01M122.5 291.5h.01M119.5 303.5h.01M124.5 308.5h.01M111.5 298.5h.01M131.5 310.5h.01M111.5 303.5h.01M110.5 305.5h.01M128.5 312.5h.01M136.5 292.5h.01M128.5 309.5h.01M140.5 297.5h.01M143.5 298.5h.01M137.5 309.5h.01M123.5 289.5h.01M130.5 309.5h.01M114.5 299.5h.01M136.5 304.5h.01M128.5 314.5h.01M119.5 289.5h.01M130.5 297.5h.01M140.5 301.5h.01M137.5 294.5h.01M143.5 301.5h.01M115.5 311.5h.01M104.5 307.5h.01M102.5 302.5h.01M111.5 312.5h.01M118.5 309.5h.01M97.5 307.5h.01M106.5 298.5h.01M104.5 299.5h.01M105.5 305.5h.01M108.5 302.5h.01M100.5 298.5h.01M102.5 310.5h.01M103.5 303.5h.01M97.5 303.5h.01M103.5 299.5h.01M100.5 308.5h.01M111.5 314.5h.01M114.5 303.5h.01M118.5 311.5h.01M105.5 303.5h.01M112.5 294.5h.01M104.5 303.5h.01M116.5 310.5h.01M123.5 316.5h.01M101.5 311.5h.01M97.5 308.5h.01M112.5 290.5h.01M108.5 307.5h.01M107.5 300.5h.01M112.5 310.5h.01M105.5 293.5h.01M99.5 310.5h.01M98.5 307.5h.01M101.5 309.5h.01M103.5 302.5h.01M120.5 294.5h.01M106.5 304.5h.01M119.5 309.5h.01M102.5 298.5h.01M109.5 305.5h.01M96.5 305.5h.01M100.5 301.5h.01M110.5 307.5h.01M99.5 303.5h.01M109.5 308.5h.01M114.5 291.5h.01M109.5 312.5h.01M113.5 316.5h.01M96.5 302.5h.01M109.5 304.5h.01M105.5 312.5h.01M111.5 295.5h.01M101.5 312.5h.01M98.5 305.5h.01M103.5 315.5h.01M113.5 305.5h.01M111.5 304.5h.01M112.5 295.5h.01M106.5 309.5h.01M114.5 302.5h.01M98.5 299.5h.01M142.5 303.5h.01M104.5 302.5h.01M113.5 314.5h.01M106.5 313.5h.01M110.5 309.5h.01M122.5 312.5h.01M122.5 293.5h.01M107.5 302.5h.01M111.5 309.5h.01M111.5 300.5h.01M99.5 312.5h.01M108.5 304.5h.01M113.5 307.5h.01M108.5 296.5h.01M106.5 306.5h.01M104.5 313.5h.01M98.5 304.5h.01M100.5 297.5h.01M100.5 307.5h.01M130.5 307.5h.01M99.5 304.5h.01M101.5 294.5h.01M108.5 301.5h.01M118.5 310.5h.01M97.5 312.5h.01M103.5 300.5h.01M106.5 315.5h.01M106.5 301.5h.01M92.5 298.5h.01M97.5 306.5h.01M87.5 297.5h.01M96.5 306.5h.01M108.5 309.5h.01M105.5 311.5h.01M130.5 327.5h.01M138.5 319.5h.01M131.5 329.5h.01M141.5 321.5h.01M147.5 321.5h.01M141.5 325.5h.01M140.5 324.5h.01M137.5 330.5h.01M142.5 338.5h.01M133.5 326.5h.01M137.5 332.5h.01M151.5 323.5h.01M132.5 326.5h.01M136.5 322.5h.01M132.5 322.5h.01M146.5 331.5h.01M138.5 327.5h.01M132.5 327.5h.01M132.5 321.5h.01M145.5 333.5h.01M143.5 324.5h.01M144.5 321.5h.01M139.5 324.5h.01M144.5 328.5h.01M146.5 328.5h.01M143.5 332.5h.01M130.5 319.5h.01M128.5 322.5h.01M131.5 332.5h.01M141.5 336.5h.01M131.5 321.5h.01M133.5 324.5h.01M139.5 317.5h.01M134.5 320.5h.01M132.5 320.5h.01M144.5 324.5h.01M142.5 319.5h.01M143.5 329.5h.01M147.5 323.5h.01M139.5 329.5h.01M138.5 323.5h.01M130.5 318.5h.01M138.5 325.5h.01M136.5 335.5h.01M145.5 325.5h.01M143.5 327.5h.01M145.5 323.5h.01M146.5 327.5h.01M142.5 312.5h.01M140.5 318.5h.01M137.5 322.5h.01M139.5 323.5h.01M134.5 332.5h.01M139.5 328.5h.01M128.5 326.5h.01M124.5 328.5h.01M135.5 332.5h.01M136.5 320.5h.01M146.5 325.5h.01M136.5 326.5h.01M132.5 315.5h.01M141.5 327.5h.01M144.5 317.5h.01M148.5 328.5h.01M133.5 329.5h.01M138.5 313.5h.01M137.5 327.5h.01M147.5 325.5h.01M143.5 321.5h.01M143.5 334.5h.01M136.5 319.5h.01M141.5 330.5h.01M140.5 326.5h.01M147.5 324.5h.01M144.5 329.5h.01M139.5 325.5h.01M127.5 325.5h.01M131.5 320.5h.01M136.5 321.5h.01M137.5 325.5h.01M132.5 319.5h.01M137.5 333.5h.01M140.5 325.5h.01M135.5 322.5h.01M138.5 329.5h.01M135.5 330.5h.01M134.5 325.5h.01M138.5 334.5h.01M140.5 322.5h.01M133.5 322.5h.01M128.5 320.5h.01M134.5 318.5h.01M142.5 326.5h.01M144.5 326.5h.01M140.5 330.5h.01M135.5 312.5h.01M141.5 324.5h.01M128.5 321.5h.01M143.5 333.5h.01M130.5 322.5h.01M137.5 326.5h.01M142.5 323.5h.01M142.5 325.5h.01M140.5 328.5h.01M134.5 322.5h.01M144.5 318.5h.01M145.5 326.5h.01M134.5 321.5h.01M135.5 324.5h.01M141.5 319.5h.01M133.5 325.5h.01M134.5 323.5h.01M149.5 326.5h.01M134.5 319.5h.01M146.5 330.5h.01M138.5 333.5h.01M143.5 323.5h.01M145.5 330.5h.01M137.5 321.5h.01M142.5 322.5h.01M136.5 323.5h.01M142.5 324.5h.01M129.5 319.5h.01M141.5 329.5h.01M138.5 328.5h.01M133.5 332.5h.01M138.5 330.5h.01M138.5 324.5h.01M139.5 320.5h.01M145.5 327.5h.01M136.5 315.5h.01M140.5 317.5h.01M145.5 328.5h.01M138.5 336.5h.01M131.5 323.5h.01M133.5 319.5h.01M146.5 322.5h.01M137.5 319.5h.01M139.5 331.5h.01M146.5 310.5h.01M136.5 317.5h.01M140.5 321.5h.01M136.5 314.5h.01M154.5 317.5h.01M135.5 327.5h.01M134.5 329.5h.01M143.5 325.5h.01M138.5 320.5h.01M131.5 331.5h.01M138.5 326.5h.01M132.5 313.5h.01M134.5 324.5h.01M146.5 324.5h.01M136.5 316.5h.01M139.5 321.5h.01M137.5 329.5h.01M145.5 322.5h.01M142.5 330.5h.01M134.5 331.5h.01M137.5 324.5h.01M143.5 326.5h.01M146.5 323.5h.01M138.5 321.5h.01M136.5 325.5h.01M133.5 331.5h.01M135.5 333.5h.01M142.5 327.5h.01M140.5 332.5h.01M134.5 326.5h.01M133.5 328.5h.01M135.5 319.5h.01M138.5 317.5h.01M140.5 323.5h.01M129.5 330.5h.01M142.5 329.5h.01M127.5 317.5h.01M143.5 322.5h.01M125.5 323.5h.01M135.5 329.5h.01M139.5 327.5h.01M143.5 331.5h.01M136.5 331.5h.01M144.5 327.5h.01M138.5 316.5h.01M133.5 330.5h.01M150.5 330.5h.01M132.5 325.5h.01M137.5 323.5h.01M148.5 319.5h.01M121.5 327.5h.01M146.5 320.5h.01M138.5 331.5h.01M148.5 326.5h.01M135.5 321.5h.01M147.5 319.5h.01M148.5 316.5h.01M141.5 331.5h.01M135.5 325.5h.01M143.5 318.5h.01M139.5 333.5h.01M134.5 330.5h.01M135.5 317.5h.01M139.5 318.5h.01M130.5 329.5h.01M135.5 331.5h.01M130.5 323.5h.01M137.5 328.5h.01M138.5 322.5h.01M141.5 326.5h.01M140.5 315.5h.01M151.5 324.5h.01M133.5 321.5h.01M134.5 328.5h.01M146.5 329.5h.01M149.5 322.5h.01M141.5 328.5h.01M140.5 329.5h.01M129.5 324.5h.01M152.5 334.5h.01M127.5 319.5h.01M133.5 323.5h.01M130.5 333.5h.01M139.5 315.5h.01M141.5 323.5h.01M149.5 328.5h.01M148.5 331.5h.01M140.5 327.5h.01M142.5 316.5h.01M143.5 320.5h.01M134.5 333.5h.01M142.5 328.5h.01M148.5 324.5h.01M147.5 327.5h.01M140.5 314.5h.01M127.5 329.5h.01M151.5 320.5h.01M143.5 319.5h.01M136.5 333.5h.01M139.5 314.5h.01M145.5 320.5h.01M146.5 326.5h.01M139.5 322.5h.01M141.5 322.5h.01M150.5 327.5h.01M145.5 331.5h.01M149.5 325.5h.01M140.5 319.5h.01M134.5 314.5h.01M147.5 318.5h.01M123.5 324.5h.01M134.5 336.5h.01M135.5 323.5h.01M143.5 328.5h.01M144.5 331.5h.01M133.5 327.5h.01M131.5 324.5h.01M138.5 318.5h.01M136.5 328.5h.01M136.5 327.5h.01M144.5 323.5h.01M132.5 333.5h.01M147.5 322.5h.01M146.5 321.5h.01M137.5 316.5h.01M129.5 318.5h.01M149.5 320.5h.01M144.5 316.5h.01M150.5 328.5h.01M148.5 317.5h.01M126.5 324.5h.01M131.5 326.5h.01M148.5 322.5h.01M139.5 330.5h.01M152.5 323.5h.01M147.5 317.5h.01M130.5 325.5h.01M137.5 320.5h.01M124.5 314.5h.01M139.5 326.5h.01M157.5 322.5h.01M145.5 324.5h.01M124.5 327.5h.01M144.5 338.5h.01M128.5 319.5h.01M149.5 319.5h.01M145.5 337.5h.01M145.5 338.5h.01M121.5 323.5h.01M136.5 318.5h.01M135.5 328.5h.01M132.5 328.5h.01M140.5 316.5h.01M136.5 329.5h.01M147.5 328.5h.01M145.5 329.5h.01M125.5 334.5h.01M150.5 326.5h.01M140.5 320.5h.01M142.5 321.5h.01M149.5 321.5h.01M132.5 317.5h.01M130.5 330.5h.01M141.5 320.5h.01M147.5 330.5h.01M146.5 312.5h.01M127.5 330.5h.01M149.5 327.5h.01M137.5 313.5h.01M126.5 325.5h.01M132.5 332.5h.01M129.5 323.5h.01M146.5 333.5h.01M132.5 330.5h.01M146.5 318.5h.01M130.5 328.5h.01M136.5 332.5h.01M141.5 332.5h.01M149.5 317.5h.01M125.5 326.5h.01M138.5 332.5h.01M139.5 332.5h.01M125.5 322.5h.01M130.5 321.5h.01M142.5 332.5h.01M132.5 329.5h.01M135.5 326.5h.01M149.5 316.5h.01M140.5 331.5h.01M140.5 333.5h.01M129.5 328.5h.01M124.5 322.5h.01M142.5 331.5h.01M144.5 322.5h.01M144.5 320.5h.01M147.5 313.5h.01M141.5 334.5h.01M135.5 320.5h.01M147.5 315.5h.01M126.5 318.5h.01M132.5 331.5h.01M136.5 324.5h.01M130.5 312.5h.01M132.5 334.5h.01M128.5 323.5h.01M150.5 317.5h.01M134.5 327.5h.01M147.5 335.5h.01M129.5 320.5h.01M127.5 323.5h.01M151.5 330.5h.01M137.5 334.5h.01M130.5 332.5h.01M130.5 326.5h.01M139.5 335.5h.01M153.5 320.5h.01M146.5 332.5h.01M154.5 323.5h.01M139.5 334.5h.01M131.5 325.5h.01M132.5 323.5h.01M153.5 324.5h.01M128.5 333.5h.01M148.5 323.5h.01M130.5 324.5h.01M131.5 327.5h.01M126.5 316.5h.01M127.5 324.5h.01M129.5 325.5h.01M148.5 340.5h.01M142.5 317.5h.01M149.5 323.5h.01M128.5 334.5h.01M129.5 332.5h.01M147.5 320.5h.01M139.5 316.5h.01M144.5 325.5h.01M142.5 320.5h.01M131.5 317.5h.01M148.5 325.5h.01M131.5 312.5h.01M128.5 327.5h.01M152.5 325.5h.01M133.5 320.5h.01M143.5 330.5h.01M154.5 318.5h.01M139.5 310.5h.01M135.5 318.5h.01M128.5 317.5h.01M145.5 321.5h.01M144.5 330.5h.01M131.5 311.5h.01M149.5 313.5h.01M115.5 312.5h.01M147.5 316.5h.01M124.5 324.5h.01M122.5 318.5h.01M110.5 314.5h.01M149.5 304.5h.01M124.5 317.5h.01M155.5 318.5h.01M123.5 317.5h.01M132.5 311.5h.01M147.5 308.5h.01M117.5 321.5h.01M142.5 318.5h.01M125.5 311.5h.01M143.5 314.5h.01M125.5 320.5h.01M140.5 313.5h.01M150.5 322.5h.01M129.5 316.5h.01M148.5 321.5h.01M135.5 311.5h.01M136.5 312.5h.01M117.5 313.5h.01M120.5 320.5h.01M124.5 313.5h.01M131.5 319.5h.01M151.5 328.5h.01M137.5 318.5h.01M142.5 315.5h.01M151.5 332.5h.01M140.5 310.5h.01M146.5 316.5h.01M151.5 329.5h.01M145.5 303.5h.01M161.5 308.5h.01M137.5 312.5h.01M115.5 313.5h.01M126.5 326.5h.01M137.5 317.5h.01M154.5 320.5h.01M150.5 320.5h.01M124.5 321.5h.01M123.5 323.5h.01M147.5 314.5h.01M144.5 310.5h.01M134.5 317.5h.01M145.5 316.5h.01M113.5 295.5h.01M127.5 313.5h.01M143.5 311.5h.01M129.5 312.5h.01M146.5 315.5h.01M118.5 313.5h.01M123.5 320.5h.01M125.5 313.5h.01M140.5 312.5h.01M119.5 312.5h.01M120.5 314.5h.01M138.5 315.5h.01M143.5 316.5h.01M130.5 320.5h.01M142.5 296.5h.01M149.5 318.5h.01M127.5 326.5h.01M162.5 313.5h.01M146.5 311.5h.01M146.5 300.5h.01M142.5 310.5h.01M145.5 312.5h.01M131.5 336.5h.01M123.5 318.5h.01M144.5 307.5h.01M149.5 311.5h.01M117.5 312.5h.01M119.5 316.5h.01M112.5 304.5h.01M133.5 314.5h.01M145.5 307.5h.01M160.5 312.5h.01M123.5 321.5h.01M150.5 308.5h.01M156.5 311.5h.01M131.5 316.5h.01M118.5 322.5h.01M150.5 310.5h.01M129.5 317.5h.01M125.5 319.5h.01M141.5 311.5h.01M156.5 323.5h.01M126.5 321.5h.01M127.5 307.5h.01M141.5 309.5h.01M154.5 324.5h.01M152.5 312.5h.01M130.5 315.5h.01M125.5 324.5h.01M125.5 317.5h.01M140.5 306.5h.01M138.5 311.5h.01M135.5 315.5h.01M144.5 309.5h.01M155.5 326.5h.01M130.5 313.5h.01M119.5 323.5h.01M124.5 320.5h.01M163.5 301.5h.01M176.5 306.5h.01M166.5 313.5h.01M146.5 304.5h.01M128.5 318.5h.01M151.5 311.5h.01M165.5 302.5h.01M159.5 317.5h.01M148.5 305.5h.01M175.5 304.5h.01M158.5 313.5h.01M156.5 298.5h.01M148.5 307.5h.01M158.5 312.5h.01M182.5 316.5h.01M157.5 304.5h.01M154.5 307.5h.01M174.5 318.5h.01M165.5 296.5h.01M156.5 310.5h.01M159.5 300.5h.01M141.5 315.5h.01M145.5 301.5h.01M145.5 309.5h.01M171.5 292.5h.01M169.5 309.5h.01M148.5 310.5h.01M153.5 314.5h.01M171.5 305.5h.01M148.5 299.5h.01M170.5 317.5h.01M153.5 318.5h.01M152.5 306.5h.01M147.5 306.5h.01M163.5 294.5h.01M143.5 307.5h.01M146.5 303.5h.01M150.5 304.5h.01M158.5 303.5h.01M148.5 304.5h.01M148.5 308.5h.01M157.5 301.5h.01M152.5 302.5h.01M152.5 311.5h.01M159.5 309.5h.01M145.5 300.5h.01M156.5 315.5h.01M152.5 303.5h.01M139.5 302.5h.01M132.5 318.5h.01M135.5 302.5h.01M180.5 309.5h.01M163.5 310.5h.01M166.5 319.5h.01M170.5 307.5h.01M155.5 307.5h.01M164.5 308.5h.01M168.5 294.5h.01M162.5 312.5h.01M153.5 313.5h.01M149.5 301.5h.01M156.5 313.5h.01M160.5 302.5h.01M167.5 303.5h.01M147.5 299.5h.01M141.5 296.5h.01M148.5 306.5h.01M150.5 293.5h.01M146.5 295.5h.01M152.5 313.5h.01M147.5 301.5h.01M165.5 298.5h.01M149.5 298.5h.01M151.5 305.5h.01M167.5 294.5h.01M151.5 303.5h.01M180.5 318.5h.01M152.5 317.5h.01M149.5 300.5h.01M162.5 314.5h.01M144.5 286.5h.01M149.5 306.5h.01M161.5 315.5h.01M137.5 311.5h.01M146.5 297.5h.01M162.5 303.5h.01M172.5 294.5h.01M150.5 302.5h.01M150.5 297.5h.01M164.5 311.5h.01M142.5 306.5h.01M117.5 317.5h.01M162.5 299.5h.01M159.5 318.5h.01M166.5 314.5h.01M167.5 296.5h.01M141.5 304.5h.01M136.5 289.5h.01M155.5 298.5h.01M151.5 302.5h.01M151.5 308.5h.01M166.5 310.5h.01M159.5 314.5h.01M154.5 301.5h.01M159.5 310.5h.01M143.5 300.5h.01M162.5 304.5h.01M165.5 307.5h.01M156.5 306.5h.01M161.5 321.5h.01M150.5 309.5h.01M168.5 306.5h.01M144.5 312.5h.01M162.5 311.5h.01M153.5 302.5h.01M174.5 319.5h.01M148.5 301.5h.01M154.5 304.5h.01M166.5 300.5h.01M148.5 297.5h.01M152.5 310.5h.01M150.5 313.5h.01M167.5 298.5h.01M162.5 310.5h.01M145.5 317.5h.01M165.5 319.5h.01M160.5 303.5h.01M131.5 309.5h.01M155.5 301.5h.01M153.5 306.5h.01M158.5 298.5h.01M158.5 328.5h.01M181.5 319.5h.01M154.5 302.5h.01M143.5 303.5h.01M145.5 306.5h.01M160.5 307.5h.01M174.5 301.5h.01M158.5 307.5h.01M158.5 297.5h.01M154.5 303.5h.01M152.5 307.5h.01M137.5 303.5h.01M160.5 320.5h.01M157.5 310.5h.01M154.5 312.5h.01M141.5 302.5h.01M148.5 315.5h.01M145.5 304.5h.01M155.5 314.5h.01M148.5 312.5h.01M156.5 320.5h.01M162.5 316.5h.01M166.5 309.5h.01M147.5 305.5h.01M166.5 320.5h.01M141.5 303.5h.01M167.5 292.5h.01M163.5 315.5h.01M149.5 312.5h.01M153.5 298.5h.01M152.5 309.5h.01M150.5 306.5h.01M166.5 312.5h.01M153.5 308.5h.01M159.5 301.5h.01M158.5 317.5h.01M144.5 302.5h.01M166.5 304.5h.01M142.5 311.5h.01M142.5 302.5h.01M154.5 298.5h.01M139.5 311.5h.01M178.5 298.5h.01M172.5 315.5h.01M148.5 302.5h.01M148.5 296.5h.01M143.5 297.5h.01M143.5 293.5h.01M157.5 321.5h.01M166.5 295.5h.01M154.5 308.5h.01M142.5 314.5h.01M153.5 311.5h.01M170.5 314.5h.01M163.5 296.5h.01M169.5 303.5h.01M172.5 302.5h.01M155.5 316.5h.01M153.5 321.5h.01M155.5 304.5h.01M157.5 314.5h.01M139.5 291.5h.01M164.5 305.5h.01M145.5 297.5h.01M151.5 299.5h.01M158.5 308.5h.01M162.5 306.5h.01M150.5 305.5h.01M173.5 316.5h.01M139.5 308.5h.01M151.5 313.5h.01M142.5 297.5h.01M178.5 317.5h.01M147.5 294.5h.01M149.5 310.5h.01M165.5 297.5h.01M145.5 305.5h.01M147.5 295.5h.01M136.5 310.5h.01M147.5 303.5h.01M161.5 329.5h.01M153.5 309.5h.01M154.5 321.5h.01M155.5 312.5h.01M158.5 302.5h.01M150.5 303.5h.01M157.5 320.5h.01M137.5 298.5h.01M146.5 301.5h.01M161.5 317.5h.01M159.5 322.5h.01M168.5 314.5h.01M156.5 312.5h.01M166.5 308.5h.01M151.5 307.5h.01M168.5 318.5h.01M164.5 288.5h.01M154.5 309.5h.01M173.5 305.5h.01M150.5 319.5h.01M145.5 302.5h.01M168.5 309.5h.01M169.5 316.5h.01M145.5 310.5h.01M157.5 299.5h.01M173.5 289.5h.01M152.5 301.5h.01M150.5 325.5h.01M147.5 296.5h.01M159.5 319.5h.01M159.5 312.5h.01M161.5 309.5h.01M157.5 316.5h.01M154.5 306.5h.01M151.5 321.5h.01M157.5 298.5h.01M148.5 298.5h.01M163.5 313.5h.01M163.5 307.5h.01M147.5 307.5h.01M147.5 310.5h.01M155.5 302.5h.01M165.5 324.5h.01M156.5 303.5h.01M158.5 315.5h.01M156.5 301.5h.01M161.5 296.5h.01M155.5 308.5h.01M160.5 301.5h.01M148.5 293.5h.01M151.5 309.5h.01M158.5 323.5h.01M143.5 296.5h.01M143.5 310.5h.01M153.5 305.5h.01M145.5 295.5h.01M135.5 307.5h.01M153.5 316.5h.01M155.5 313.5h.01M174.5 304.5h.01M170.5 303.5h.01M146.5 309.5h.01M129.5 283.5h.01M161.5 320.5h.01M143.5 317.5h.01M168.5 302.5h.01M156.5 322.5h.01M153.5 301.5h.01M133.5 316.5h.01M160.5 297.5h.01M161.5 319.5h.01M165.5 295.5h.01M138.5 314.5h.01M162.5 302.5h.01M160.5 311.5h.01M167.5 323.5h.01M157.5 303.5h.01M169.5 311.5h.01M167.5 305.5h.01M139.5 312.5h.01M176.5 307.5h.01M165.5 313.5h.01M153.5 317.5h.01M155.5 296.5h.01M147.5 312.5h.01M147.5 309.5h.01M164.5 309.5h.01M150.5 295.5h.01M166.5 316.5h.01M141.5 307.5h.01M159.5 323.5h.01M169.5 308.5h.01M161.5 314.5h.01M135.5 294.5h.01M149.5 305.5h.01M163.5 318.5h.01M149.5 308.5h.01M157.5 309.5h.01M173.5 308.5h.01M158.5 305.5h.01M163.5 306.5h.01M159.5 307.5h.01M151.5 294.5h.01M152.5 308.5h.01M157.5 308.5h.01M149.5 314.5h.01M140.5 344.5h.01M130.5 351.5h.01M125.5 357.5h.01M123.5 350.5h.01M130.5 337.5h.01M132.5 335.5h.01M125.5 352.5h.01M149.5 354.5h.01M136.5 351.5h.01M128.5 348.5h.01M149.5 348.5h.01M129.5 346.5h.01M127.5 356.5h.01M142.5 352.5h.01M123.5 355.5h.01M146.5 374.5h.01M133.5 346.5h.01M143.5 344.5h.01M140.5 334.5h.01M130.5 355.5h.01M153.5 347.5h.01M125.5 350.5h.01M144.5 366.5h.01M122.5 360.5h.01M145.5 348.5h.01M136.5 349.5h.01M126.5 335.5h.01M137.5 339.5h.01M138.5 358.5h.01M127.5 355.5h.01M148.5 357.5h.01M131.5 351.5h.01M127.5 348.5h.01M137.5 353.5h.01M130.5 345.5h.01M134.5 367.5h.01M138.5 350.5h.01M132.5 353.5h.01M141.5 346.5h.01M139.5 339.5h.01M147.5 346.5h.01M127.5 343.5h.01M137.5 337.5h.01M138.5 357.5h.01M139.5 371.5h.01M117.5 350.5h.01M127.5 346.5h.01M139.5 338.5h.01M136.5 354.5h.01M138.5 354.5h.01M147.5 338.5h.01M133.5 348.5h.01M129.5 337.5h.01M149.5 364.5h.01M142.5 348.5h.01M135.5 352.5h.01M130.5 367.5h.01M150.5 321.5h.01M134.5 352.5h.01M129.5 350.5h.01M147.5 344.5h.01M123.5 347.5h.01M135.5 362.5h.01M142.5 339.5h.01M134.5 339.5h.01M132.5 368.5h.01M140.5 359.5h.01M125.5 353.5h.01M134.5 357.5h.01M143.5 348.5h.01M126.5 344.5h.01M148.5 346.5h.01M134.5 351.5h.01M135.5 342.5h.01M141.5 345.5h.01M132.5 351.5h.01M138.5 346.5h.01M147.5 355.5h.01M147.5 351.5h.01M123.5 359.5h.01M148.5 349.5h.01M132.5 345.5h.01M139.5 354.5h.01M137.5 358.5h.01M139.5 342.5h.01M131.5 337.5h.01M141.5 363.5h.01M145.5 341.5h.01M131.5 352.5h.01M136.5 342.5h.01M143.5 350.5h.01M146.5 364.5h.01M139.5 367.5h.01M134.5 366.5h.01M133.5 350.5h.01M115.5 344.5h.01M120.5 357.5h.01M139.5 336.5h.01M143.5 355.5h.01M140.5 363.5h.01M137.5 362.5h.01M133.5 356.5h.01M141.5 341.5h.01M133.5 343.5h.01M136.5 337.5h.01M149.5 369.5h.01M124.5 362.5h.01M131.5 347.5h.01M134.5 346.5h.01M119.5 350.5h.01M125.5 340.5h.01M145.5 353.5h.01M141.5 353.5h.01M148.5 348.5h.01M153.5 345.5h.01M138.5 345.5h.01M135.5 344.5h.01M120.5 337.5h.01M118.5 366.5h.01M144.5 353.5h.01M129.5 340.5h.01M122.5 357.5h.01M123.5 348.5h.01M142.5 356.5h.01M142.5 359.5h.01M129.5 344.5h.01M134.5 355.5h.01M143.5 338.5h.01M127.5 350.5h.01M133.5 351.5h.01M136.5 344.5h.01M144.5 344.5h.01M140.5 337.5h.01M115.5 359.5h.01M143.5 345.5h.01M140.5 341.5h.01M139.5 352.5h.01M140.5 343.5h.01M147.5 339.5h.01M131.5 350.5h.01M135.5 349.5h.01M127.5 336.5h.01M134.5 334.5h.01M128.5 362.5h.01M128.5 344.5h.01M118.5 361.5h.01M135.5 354.5h.01M145.5 346.5h.01M109.5 344.5h.01M147.5 366.5h.01M135.5 339.5h.01M130.5 342.5h.01M138.5 337.5h.01M133.5 345.5h.01M135.5 336.5h.01M139.5 353.5h.01M134.5 349.5h.01M128.5 340.5h.01M129.5 371.5h.01M146.5 345.5h.01M134.5 338.5h.01M142.5 354.5h.01M145.5 349.5h.01M130.5 354.5h.01M150.5 331.5h.01M119.5 355.5h.01M148.5 334.5h.01M113.5 332.5h.01M128.5 342.5h.01M135.5 364.5h.01M129.5 339.5h.01M117.5 352.5h.01M122.5 336.5h.01M120.5 351.5h.01M141.5 360.5h.01M146.5 349.5h.01M147.5 347.5h.01M135.5 351.5h.01M132.5 356.5h.01M160.5 349.5h.01M139.5 357.5h.01M145.5 336.5h.01M119.5 346.5h.01M143.5 352.5h.01M130.5 350.5h.01M115.5 335.5h.01M129.5 351.5h.01M139.5 355.5h.01M129.5 367.5h.01M132.5 352.5h.01M150.5 336.5h.01M138.5 352.5h.01M139.5 345.5h.01M122.5 339.5h.01M140.5 339.5h.01M127.5 342.5h.01M139.5 347.5h.01M140.5 347.5h.01M123.5 349.5h.01M138.5 369.5h.01M128.5 346.5h.01M147.5 363.5h.01M136.5 338.5h.01M163.5 341.5h.01M132.5 366.5h.01M138.5 355.5h.01M148.5 367.5h.01M127.5 352.5h.01M153.5 366.5h.01M132.5 362.5h.01M133.5 340.5h.01M153.5 360.5h.01M137.5 347.5h.01M126.5 338.5h.01M138.5 368.5h.01M137.5 366.5h.01M162.5 354.5h.01M137.5 344.5h.01M125.5 339.5h.01M144.5 350.5h.01M131.5 346.5h.01M152.5 331.5h.01M143.5 360.5h.01M133.5 333.5h.01M132.5 374.5h.01M131.5 335.5h.01M137.5 356.5h.01M135.5 338.5h.01M144.5 319.5h.01M145.5 339.5h.01M155.5 347.5h.01M139.5 364.5h.01M147.5 352.5h.01M123.5 327.5h.01M140.5 336.5h.01M144.5 343.5h.01M146.5 347.5h.01M143.5 354.5h.01M122.5 320.5h.01M118.5 318.5h.01M92.5 303.5h.01M87.5 303.5h.01M88.5 307.5h.01M97.5 299.5h.01M97.5 296.5h.01M93.5 307.5h.01M112.5 289.5h.01M86.5 299.5h.01M113.5 300.5h.01M89.5 302.5h.01M93.5 292.5h.01M93.5 302.5h.01M93.5 301.5h.01M104.5 297.5h.01M106.5 303.5h.01M92.5 283.5h.01M99.5 309.5h.01M97.5 302.5h.01M88.5 296.5h.01M87.5 312.5h.01M98.5 298.5h.01M76.5 312.5h.01M92.5 301.5h.01M98.5 297.5h.01M84.5 301.5h.01M107.5 298.5h.01M107.5 301.5h.01M88.5 306.5h.01M95.5 301.5h.01M95.5 299.5h.01M92.5 302.5h.01M92.5 305.5h.01M107.5 306.5h.01M67.5 339.5h.01M79.5 323.5h.01M81.5 322.5h.01M83.5 330.5h.01M81.5 329.5h.01M55.5 290.5h.01M93.5 291.5h.01M90.5 307.5h.01M99.5 350.5h.01M66.5 375.5h.01M64.5 290.5h.01M90.5 290.5h.01M58.5 336.5h.01M70.5 363.5h.01M100.5 366.5h.01M70.5 302.5h.01M77.5 317.5h.01M73.5 347.5h.01M89.5 363.5h.01M86.5 365.5h.01M70.5 320.5h.01M88.5 349.5h.01M169.5 351.5h.01M157.5 339.5h.01M174.5 338.5h.01M154.5 356.5h.01M172.5 367.5h.01M163.5 368.5h.01M175.5 369.5h.01M176.5 360.5h.01M154.5 376.5h.01M168.5 356.5h.01M179.5 355.5h.01M171.5 375.5h.01" stroke="#000" stroke-width="1.6" stroke-linecap="square" fill="none"/>
<text transform="translate(45.6 421.8)" font-size="14" font-weight="bold" textLength="60.3" lengthAdjust="spacing" stroke="#000" stroke-width="0.5">VCAM-Ig</text>
<text transform="translate(126 421.8)" font-size="14" font-weight="bold" textLength="49.3" lengthAdjust="spacing" stroke="#000" stroke-width="0.5">Binding</text>
<text transform="translate(12.2 415.8) rotate(-90)" font-size="14" font-weight="bold" textLength="71.0" lengthAdjust="spacing" stroke="#000" stroke-width="0.5">Annexin-V</text>
<text transform="translate(12.3 322.8) rotate(-90)" font-size="14" font-weight="bold" textLength="51.5" lengthAdjust="spacing" stroke="#000" stroke-width="0.5">Binding</text>
<text x="52.8 61.5 66.0" y="292.1" font-size="13.5" font-weight="bold" stroke="#000" stroke-width="0.32">2 %</text>
<text x="144.2 156.0 164.2 168.2" y="292.5" font-size="13.5" font-weight="bold" stroke="#000" stroke-width="0.32">80 %</text>
<text x="53.1 61.3 65.2" y="376.5" font-size="13.5" font-weight="bold" stroke="#000" stroke-width="0.32">1 %</text>
<text x="147.3 157.9 165.7 169.2" y="376.5" font-size="13.5" font-weight="bold" stroke="#000" stroke-width="0.32">17 %</text>
<text transform="translate(0.6 253)" font-size="24.5" font-weight="bold" stroke="#000" stroke-width="0.5">C</text>
<text transform="translate(30.6 249.8)" font-size="19" font-weight="bold" textLength="81.5" lengthAdjust="spacing" stroke="#000" stroke-width="0.5">Anti-Fas</text>
<text transform="translate(124.2 249.8)" font-size="19" font-weight="bold" stroke="#000" stroke-width="0.5">+</text>
<text transform="translate(149.6 250.2)" font-size="19" font-weight="bold" textLength="41.5" lengthAdjust="spacing" stroke="#000" stroke-width="0.5">8A2</text>
<rect x="360.4" y="277.8" width="135.4" height="104.2" fill="none" stroke="#000" stroke-width="1.5"/>
<path d="M408.4 277.8V382.0M360.4 329.8H495.8" stroke="#000" stroke-width="1.5" fill="none"/>
<path d="M360.4 382.0v6.6M360.4 382.0h-6.5M373.3 382.0v4.3M360.4 373.0h-3.7M380.8 382.0v4.3M360.4 367.8h-3.7M386.1 382.0v4.3M360.4 364.1h-3.7M390.2 382.0v4.3M360.4 361.2h-3.7M393.6 382.0v4.3M360.4 358.8h-3.7M396.5 382.0v4.3M360.4 356.8h-3.7M399.0 382.0v4.3M360.4 355.1h-3.7M401.1 382.0v4.3M360.4 353.6h-3.7M403.1 382.0v6.6M360.4 352.2h-6.5M416.0 382.0v4.3M360.4 343.3h-3.7M423.5 382.0v4.3M360.4 338.1h-3.7M428.8 382.0v4.3M360.4 334.4h-3.7M432.9 382.0v4.3M360.4 331.5h-3.7M436.3 382.0v4.3M360.4 329.2h-3.7M439.2 382.0v4.3M360.4 327.2h-3.7M441.7 382.0v4.3M360.4 325.5h-3.7M443.8 382.0v4.3M360.4 324.0h-3.7M445.8 382.0v6.6M360.4 322.6h-6.5M458.7 382.0v4.3M360.4 313.6h-3.7M466.2 382.0v4.3M360.4 308.3h-3.7M471.5 382.0v4.3M360.4 304.6h-3.7M475.6 382.0v4.3M360.4 301.7h-3.7M479.0 382.0v4.3M360.4 299.3h-3.7M481.9 382.0v4.3M360.4 297.3h-3.7M484.4 382.0v4.3M360.4 295.6h-3.7M486.5 382.0v4.3M360.4 294.1h-3.7M488.5 382.0v6.6M360.4 292.7h-6.5M360.4 283.7h-3.7M360.4 278.5h-3.7" stroke="#000" stroke-width="1.2" fill="none"/>
<rect x="356.7" y="354.6" width="3.7" height="5.2" fill="#000"/>
<rect x="356.7" y="354.6" width="3.7" height="5.2" fill="#000"/>
<rect x="356.7" y="324.8" width="3.7" height="5.2" fill="#000"/>
<rect x="356.7" y="325.0" width="3.7" height="5.2" fill="#000"/>
<rect x="356.7" y="295.2" width="3.7" height="5.2" fill="#000"/>
<rect x="356.7" y="295.1" width="3.7" height="5.2" fill="#000"/>
<text transform="translate(351.6 402.6)" font-size="11.1" stroke="#000" stroke-width="0.45">10</text>
<text transform="translate(363.8 396.6) scale(0.95 1)" font-size="11.1" stroke="#000" stroke-width="0.45">0</text>
<text transform="translate(350.1 390.9) rotate(-90) scale(0.95 1.2)" font-size="11.1" stroke="#000" stroke-width="0.45">10</text>
<text transform="translate(342.6 377.6) rotate(-90) scale(0.95 1.2)" font-size="11.1" stroke="#000" stroke-width="0.45">0</text>
<text transform="translate(394.3 402.6)" font-size="11.1" stroke="#000" stroke-width="0.45">10</text>
<text transform="translate(406.5 396.6) scale(0.95 1)" font-size="11.1" stroke="#000" stroke-width="0.45">1</text>
<text transform="translate(350.1 361.1) rotate(-90) scale(0.95 1.2)" font-size="11.1" stroke="#000" stroke-width="0.45">10</text>
<text transform="translate(342.6 347.8) rotate(-90) scale(0.95 1.2)" font-size="11.1" stroke="#000" stroke-width="0.45">1</text>
<text transform="translate(437.0 402.6)" font-size="11.1" stroke="#000" stroke-width="0.45">10</text>
<text transform="translate(449.2 396.6) scale(0.95 1)" font-size="11.1" stroke="#000" stroke-width="0.45">2</text>
<text transform="translate(350.1 331.5) rotate(-90) scale(0.95 1.2)" font-size="11.1" stroke="#000" stroke-width="0.45">10</text>
<text transform="translate(342.6 318.2) rotate(-90) scale(0.95 1.2)" font-size="11.1" stroke="#000" stroke-width="0.45">2</text>
<text transform="translate(479.7 402.6)" font-size="11.1" stroke="#000" stroke-width="0.45">10</text>
<text transform="translate(491.9 396.6) scale(0.95 1)" font-size="11.1" stroke="#000" stroke-width="0.45">3</text>
<text transform="translate(350.1 301.6) rotate(-90) scale(0.95 1.2)" font-size="11.1" stroke="#000" stroke-width="0.45">10</text>
<text transform="translate(342.6 288.3) rotate(-90) scale(0.95 1.2)" font-size="11.1" stroke="#000" stroke-width="0.45">3</text>
<path d="M448.5 307.5h.01M441.5 307.5h.01M446.5 310.5h.01M443.5 299.5h.01M443.5 308.5h.01M441.5 314.5h.01M444.5 294.5h.01M446.5 302.5h.01M446.5 307.5h.01M457.5 301.5h.01M445.5 296.5h.01M446.5 305.5h.01M445.5 305.5h.01M444.5 301.5h.01M444.5 305.5h.01M446.5 308.5h.01M445.5 308.5h.01M449.5 306.5h.01M447.5 299.5h.01M442.5 303.5h.01M446.5 294.5h.01M444.5 306.5h.01M445.5 304.5h.01M448.5 304.5h.01M446.5 295.5h.01M443.5 298.5h.01M445.5 299.5h.01M451.5 301.5h.01M441.5 301.5h.01M448.5 313.5h.01M444.5 308.5h.01M462.5 299.5h.01M448.5 301.5h.01M446.5 301.5h.01M445.5 301.5h.01M439.5 302.5h.01M443.5 295.5h.01M454.5 309.5h.01M447.5 307.5h.01M444.5 307.5h.01M446.5 306.5h.01M441.5 302.5h.01M439.5 304.5h.01M444.5 298.5h.01M433.5 294.5h.01M438.5 309.5h.01M449.5 299.5h.01M451.5 303.5h.01M454.5 301.5h.01M440.5 311.5h.01M445.5 297.5h.01M450.5 293.5h.01M447.5 308.5h.01M448.5 294.5h.01M444.5 304.5h.01M450.5 303.5h.01M444.5 297.5h.01M450.5 305.5h.01M446.5 304.5h.01M447.5 306.5h.01M441.5 298.5h.01M439.5 301.5h.01M439.5 300.5h.01M436.5 301.5h.01M452.5 299.5h.01M444.5 310.5h.01M440.5 301.5h.01M440.5 307.5h.01M444.5 296.5h.01M451.5 305.5h.01M449.5 307.5h.01M450.5 309.5h.01M451.5 306.5h.01M447.5 318.5h.01M447.5 309.5h.01M440.5 298.5h.01M448.5 305.5h.01M439.5 306.5h.01M448.5 296.5h.01M445.5 303.5h.01M441.5 311.5h.01M450.5 311.5h.01M445.5 302.5h.01M449.5 302.5h.01M442.5 302.5h.01M442.5 305.5h.01M450.5 299.5h.01M440.5 303.5h.01M443.5 301.5h.01M443.5 300.5h.01M444.5 302.5h.01M444.5 312.5h.01M449.5 310.5h.01M446.5 297.5h.01M449.5 305.5h.01M450.5 314.5h.01M443.5 306.5h.01M442.5 301.5h.01M455.5 303.5h.01M435.5 302.5h.01M443.5 305.5h.01M449.5 304.5h.01M440.5 304.5h.01M443.5 307.5h.01M447.5 304.5h.01M448.5 298.5h.01M444.5 299.5h.01M441.5 308.5h.01M452.5 302.5h.01M444.5 291.5h.01M451.5 295.5h.01M455.5 300.5h.01M452.5 300.5h.01M446.5 312.5h.01M445.5 307.5h.01M447.5 303.5h.01M442.5 310.5h.01M438.5 303.5h.01M452.5 295.5h.01M453.5 308.5h.01M446.5 303.5h.01M437.5 308.5h.01M456.5 301.5h.01M448.5 308.5h.01M442.5 311.5h.01M449.5 301.5h.01M452.5 298.5h.01M445.5 309.5h.01M448.5 302.5h.01M449.5 311.5h.01M442.5 304.5h.01M441.5 299.5h.01M443.5 304.5h.01M434.5 310.5h.01M440.5 296.5h.01M445.5 298.5h.01M447.5 305.5h.01M445.5 300.5h.01M440.5 305.5h.01M448.5 303.5h.01M441.5 300.5h.01M454.5 310.5h.01M452.5 297.5h.01M445.5 306.5h.01M439.5 305.5h.01M444.5 303.5h.01M441.5 303.5h.01M450.5 302.5h.01M450.5 310.5h.01M442.5 298.5h.01M443.5 311.5h.01M434.5 306.5h.01M453.5 302.5h.01M445.5 313.5h.01M444.5 309.5h.01M446.5 309.5h.01M447.5 296.5h.01M457.5 306.5h.01M442.5 296.5h.01M445.5 295.5h.01M437.5 307.5h.01M450.5 297.5h.01M449.5 308.5h.01M446.5 299.5h.01M438.5 302.5h.01M439.5 309.5h.01M452.5 304.5h.01M446.5 296.5h.01M454.5 304.5h.01M443.5 302.5h.01M447.5 301.5h.01M455.5 316.5h.01M437.5 304.5h.01M444.5 316.5h.01M449.5 294.5h.01M439.5 303.5h.01M443.5 297.5h.01M447.5 310.5h.01M436.5 300.5h.01M450.5 301.5h.01M449.5 309.5h.01M450.5 304.5h.01M454.5 303.5h.01M440.5 308.5h.01M451.5 302.5h.01M444.5 300.5h.01M451.5 297.5h.01M454.5 302.5h.01M437.5 300.5h.01M440.5 299.5h.01M441.5 304.5h.01M451.5 308.5h.01M447.5 302.5h.01M449.5 300.5h.01M442.5 297.5h.01M440.5 302.5h.01M442.5 300.5h.01M446.5 298.5h.01M453.5 298.5h.01M450.5 307.5h.01M440.5 309.5h.01M441.5 297.5h.01M452.5 310.5h.01M438.5 310.5h.01M451.5 309.5h.01M443.5 303.5h.01M441.5 306.5h.01M448.5 306.5h.01M439.5 308.5h.01M454.5 299.5h.01M450.5 294.5h.01M439.5 296.5h.01M438.5 297.5h.01M445.5 312.5h.01M442.5 299.5h.01M447.5 290.5h.01M434.5 305.5h.01M455.5 307.5h.01M443.5 294.5h.01M449.5 297.5h.01M442.5 308.5h.01M443.5 310.5h.01M442.5 306.5h.01M437.5 314.5h.01M437.5 312.5h.01M451.5 304.5h.01M455.5 308.5h.01M438.5 314.5h.01M449.5 303.5h.01M442.5 309.5h.01M441.5 293.5h.01M443.5 312.5h.01M451.5 291.5h.01M454.5 306.5h.01M441.5 309.5h.01M441.5 312.5h.01M448.5 300.5h.01M441.5 295.5h.01M451.5 307.5h.01M449.5 314.5h.01M440.5 300.5h.01M450.5 306.5h.01M440.5 306.5h.01M434.5 311.5h.01M452.5 308.5h.01M452.5 303.5h.01M452.5 307.5h.01M451.5 310.5h.01M447.5 297.5h.01M439.5 294.5h.01M453.5 307.5h.01M440.5 310.5h.01M438.5 304.5h.01M452.5 306.5h.01M439.5 307.5h.01M457.5 308.5h.01M439.5 298.5h.01M446.5 311.5h.01M445.5 310.5h.01M452.5 312.5h.01M438.5 308.5h.01M450.5 312.5h.01M438.5 311.5h.01M456.5 299.5h.01M443.5 313.5h.01M450.5 295.5h.01M438.5 299.5h.01M448.5 309.5h.01M451.5 299.5h.01M453.5 303.5h.01M444.5 313.5h.01M449.5 316.5h.01M447.5 300.5h.01M444.5 295.5h.01M435.5 311.5h.01M443.5 314.5h.01M447.5 294.5h.01M442.5 307.5h.01M452.5 305.5h.01M447.5 298.5h.01M449.5 312.5h.01M452.5 309.5h.01M453.5 304.5h.01M447.5 295.5h.01M454.5 300.5h.01M434.5 314.5h.01M437.5 310.5h.01M447.5 313.5h.01M451.5 314.5h.01M445.5 293.5h.01M450.5 300.5h.01M431.5 304.5h.01M452.5 296.5h.01M438.5 295.5h.01M437.5 299.5h.01M433.5 308.5h.01M457.5 309.5h.01M461.5 303.5h.01M449.5 298.5h.01M432.5 295.5h.01M435.5 308.5h.01M452.5 319.5h.01M449.5 313.5h.01M437.5 296.5h.01M451.5 300.5h.01M441.5 310.5h.01M442.5 313.5h.01M450.5 292.5h.01M448.5 297.5h.01M441.5 305.5h.01M453.5 299.5h.01M455.5 302.5h.01M456.5 296.5h.01M448.5 312.5h.01M447.5 312.5h.01M435.5 301.5h.01M450.5 308.5h.01M453.5 301.5h.01M450.5 290.5h.01M455.5 304.5h.01M458.5 299.5h.01M436.5 297.5h.01M455.5 313.5h.01M446.5 291.5h.01M446.5 315.5h.01M433.5 298.5h.01M444.5 293.5h.01M454.5 297.5h.01M443.5 309.5h.01M446.5 316.5h.01M451.5 296.5h.01M437.5 306.5h.01M448.5 310.5h.01M435.5 310.5h.01M459.5 308.5h.01M460.5 308.5h.01M463.5 302.5h.01M460.5 312.5h.01M457.5 298.5h.01M458.5 301.5h.01M460.5 313.5h.01M458.5 302.5h.01M457.5 300.5h.01M465.5 297.5h.01M461.5 309.5h.01M464.5 309.5h.01M455.5 305.5h.01M463.5 297.5h.01M459.5 304.5h.01M456.5 308.5h.01M456.5 311.5h.01M460.5 306.5h.01M459.5 311.5h.01M469.5 312.5h.01M461.5 299.5h.01M459.5 299.5h.01M455.5 301.5h.01M455.5 309.5h.01M467.5 310.5h.01M467.5 306.5h.01M465.5 304.5h.01M464.5 303.5h.01M465.5 300.5h.01M462.5 313.5h.01M467.5 304.5h.01M462.5 305.5h.01M459.5 298.5h.01M463.5 306.5h.01M464.5 305.5h.01M458.5 309.5h.01M461.5 308.5h.01M464.5 307.5h.01M456.5 304.5h.01M458.5 297.5h.01M453.5 309.5h.01M453.5 306.5h.01M460.5 301.5h.01M468.5 304.5h.01M467.5 298.5h.01M466.5 300.5h.01M457.5 305.5h.01M465.5 311.5h.01M461.5 297.5h.01M463.5 296.5h.01M461.5 304.5h.01M463.5 301.5h.01M459.5 312.5h.01M463.5 299.5h.01M460.5 307.5h.01M470.5 307.5h.01M460.5 299.5h.01M467.5 300.5h.01M459.5 301.5h.01M454.5 305.5h.01M458.5 307.5h.01M465.5 301.5h.01M463.5 304.5h.01M461.5 305.5h.01M454.5 294.5h.01M462.5 304.5h.01M464.5 294.5h.01M469.5 308.5h.01M458.5 305.5h.01M467.5 299.5h.01M460.5 298.5h.01M456.5 306.5h.01M457.5 296.5h.01M462.5 302.5h.01M455.5 297.5h.01M463.5 309.5h.01M462.5 301.5h.01M462.5 306.5h.01M462.5 307.5h.01M464.5 300.5h.01M456.5 309.5h.01M458.5 311.5h.01M462.5 309.5h.01M468.5 302.5h.01M468.5 309.5h.01M459.5 307.5h.01M460.5 300.5h.01M472.5 305.5h.01M459.5 303.5h.01M470.5 300.5h.01M467.5 308.5h.01M453.5 312.5h.01M461.5 306.5h.01M459.5 305.5h.01M458.5 303.5h.01M461.5 295.5h.01M465.5 303.5h.01M461.5 302.5h.01M456.5 310.5h.01M456.5 302.5h.01M462.5 295.5h.01M469.5 306.5h.01M471.5 305.5h.01M450.5 296.5h.01M456.5 307.5h.01M468.5 306.5h.01M462.5 310.5h.01M463.5 303.5h.01M457.5 304.5h.01M461.5 307.5h.01M467.5 303.5h.01M464.5 308.5h.01M467.5 301.5h.01M464.5 302.5h.01M458.5 308.5h.01M462.5 300.5h.01M464.5 299.5h.01M464.5 297.5h.01M460.5 296.5h.01M456.5 303.5h.01M466.5 306.5h.01M460.5 311.5h.01M459.5 302.5h.01M460.5 303.5h.01M461.5 294.5h.01M454.5 307.5h.01M459.5 306.5h.01M463.5 313.5h.01M467.5 302.5h.01M467.5 305.5h.01M469.5 304.5h.01M466.5 298.5h.01M462.5 298.5h.01M460.5 310.5h.01M456.5 300.5h.01M466.5 299.5h.01M455.5 306.5h.01M466.5 303.5h.01M454.5 311.5h.01M462.5 311.5h.01M466.5 308.5h.01M459.5 296.5h.01M458.5 300.5h.01M465.5 308.5h.01M468.5 310.5h.01M468.5 305.5h.01M458.5 310.5h.01M460.5 302.5h.01M465.5 305.5h.01M466.5 304.5h.01M457.5 303.5h.01M460.5 316.5h.01M463.5 307.5h.01M463.5 305.5h.01M465.5 309.5h.01M470.5 302.5h.01M460.5 295.5h.01M466.5 302.5h.01M453.5 294.5h.01M463.5 300.5h.01M464.5 296.5h.01M468.5 301.5h.01M454.5 316.5h.01M456.5 313.5h.01M462.5 308.5h.01M461.5 301.5h.01M456.5 305.5h.01M463.5 295.5h.01M460.5 314.5h.01M454.5 298.5h.01M454.5 308.5h.01M458.5 298.5h.01M464.5 301.5h.01M460.5 304.5h.01M467.5 297.5h.01M459.5 309.5h.01M460.5 305.5h.01M452.5 301.5h.01M454.5 291.5h.01M461.5 312.5h.01M465.5 307.5h.01M459.5 294.5h.01M460.5 309.5h.01M462.5 293.5h.01M457.5 299.5h.01M457.5 307.5h.01M470.5 299.5h.01M473.5 310.5h.01M458.5 304.5h.01M459.5 297.5h.01M457.5 302.5h.01M454.5 312.5h.01M461.5 300.5h.01M458.5 313.5h.01M465.5 306.5h.01M456.5 295.5h.01M464.5 292.5h.01M462.5 303.5h.01M455.5 314.5h.01M462.5 297.5h.01M457.5 314.5h.01M463.5 310.5h.01M469.5 303.5h.01M451.5 311.5h.01M461.5 310.5h.01M461.5 296.5h.01M469.5 299.5h.01M457.5 310.5h.01M455.5 315.5h.01M464.5 306.5h.01M457.5 297.5h.01M456.5 312.5h.01M450.5 298.5h.01M463.5 311.5h.01M461.5 311.5h.01M469.5 300.5h.01M465.5 315.5h.01M464.5 304.5h.01M453.5 293.5h.01M465.5 302.5h.01M458.5 306.5h.01M468.5 315.5h.01M465.5 296.5h.01M471.5 304.5h.01M456.5 298.5h.01M453.5 305.5h.01M466.5 314.5h.01M475.5 297.5h.01M455.5 310.5h.01M456.5 297.5h.01M458.5 314.5h.01M469.5 298.5h.01M467.5 307.5h.01M455.5 312.5h.01M464.5 312.5h.01M472.5 302.5h.01M460.5 294.5h.01M456.5 314.5h.01M460.5 297.5h.01M458.5 293.5h.01M457.5 344.5h.01M461.5 322.5h.01M462.5 326.5h.01M457.5 347.5h.01M461.5 335.5h.01M467.5 351.5h.01M468.5 338.5h.01M448.5 332.5h.01M453.5 349.5h.01M468.5 340.5h.01M464.5 347.5h.01M465.5 336.5h.01M453.5 334.5h.01M462.5 339.5h.01M465.5 335.5h.01M464.5 341.5h.01M457.5 332.5h.01M458.5 346.5h.01M464.5 351.5h.01M463.5 348.5h.01M470.5 329.5h.01M447.5 356.5h.01M458.5 324.5h.01M470.5 345.5h.01M454.5 344.5h.01M462.5 351.5h.01M471.5 336.5h.01M455.5 337.5h.01M464.5 355.5h.01M474.5 355.5h.01M454.5 332.5h.01M449.5 340.5h.01M468.5 334.5h.01M459.5 315.5h.01M461.5 355.5h.01M462.5 336.5h.01M470.5 343.5h.01M460.5 345.5h.01M468.5 329.5h.01M467.5 352.5h.01M468.5 327.5h.01M464.5 346.5h.01M461.5 344.5h.01M481.5 337.5h.01M449.5 342.5h.01M454.5 360.5h.01M455.5 350.5h.01M459.5 343.5h.01M463.5 339.5h.01M460.5 362.5h.01M476.5 338.5h.01M458.5 322.5h.01M455.5 355.5h.01M462.5 337.5h.01M459.5 320.5h.01M459.5 328.5h.01M468.5 328.5h.01M464.5 320.5h.01M469.5 335.5h.01M455.5 336.5h.01M466.5 360.5h.01M462.5 342.5h.01M458.5 336.5h.01M452.5 341.5h.01M461.5 345.5h.01M454.5 353.5h.01M466.5 356.5h.01M465.5 322.5h.01M465.5 327.5h.01M479.5 342.5h.01M470.5 363.5h.01M449.5 337.5h.01M465.5 354.5h.01M463.5 337.5h.01M458.5 340.5h.01M467.5 357.5h.01M444.5 338.5h.01M453.5 343.5h.01M466.5 346.5h.01M463.5 352.5h.01M467.5 343.5h.01M459.5 352.5h.01M458.5 360.5h.01M451.5 341.5h.01M468.5 346.5h.01M455.5 340.5h.01M467.5 331.5h.01M463.5 333.5h.01M465.5 337.5h.01M468.5 322.5h.01M455.5 373.5h.01M466.5 352.5h.01M461.5 337.5h.01M460.5 335.5h.01M462.5 356.5h.01M458.5 328.5h.01M462.5 332.5h.01M463.5 354.5h.01M457.5 342.5h.01M469.5 351.5h.01M462.5 344.5h.01M455.5 343.5h.01M464.5 336.5h.01M465.5 348.5h.01M452.5 345.5h.01M463.5 345.5h.01M459.5 338.5h.01M463.5 355.5h.01M460.5 344.5h.01M464.5 349.5h.01M463.5 330.5h.01M447.5 325.5h.01M462.5 350.5h.01M466.5 334.5h.01M469.5 347.5h.01M464.5 357.5h.01M470.5 340.5h.01M467.5 340.5h.01M459.5 347.5h.01M457.5 349.5h.01M466.5 324.5h.01M450.5 351.5h.01M455.5 335.5h.01M469.5 365.5h.01M463.5 336.5h.01M451.5 345.5h.01M464.5 342.5h.01M468.5 345.5h.01M466.5 369.5h.01M461.5 340.5h.01M460.5 354.5h.01M458.5 343.5h.01M458.5 339.5h.01M463.5 351.5h.01M478.5 346.5h.01M478.5 341.5h.01M460.5 333.5h.01M452.5 347.5h.01M461.5 379.5h.01M460.5 341.5h.01M460.5 350.5h.01M451.5 337.5h.01M457.5 328.5h.01M452.5 323.5h.01M454.5 345.5h.01M456.5 347.5h.01M457.5 343.5h.01M458.5 359.5h.01M458.5 357.5h.01M458.5 355.5h.01M458.5 315.5h.01M457.5 333.5h.01M458.5 344.5h.01M474.5 314.5h.01M467.5 360.5h.01M453.5 360.5h.01M469.5 331.5h.01M464.5 332.5h.01M469.5 336.5h.01M449.5 335.5h.01M463.5 357.5h.01M471.5 349.5h.01M461.5 334.5h.01M462.5 321.5h.01M461.5 319.5h.01M463.5 331.5h.01M458.5 329.5h.01M457.5 335.5h.01M459.5 348.5h.01M469.5 346.5h.01M462.5 330.5h.01M460.5 356.5h.01M469.5 355.5h.01M465.5 351.5h.01M466.5 368.5h.01M461.5 331.5h.01M459.5 335.5h.01M465.5 334.5h.01M461.5 336.5h.01M469.5 349.5h.01M456.5 345.5h.01M464.5 338.5h.01M462.5 355.5h.01M455.5 342.5h.01M459.5 337.5h.01M459.5 329.5h.01M460.5 340.5h.01M479.5 333.5h.01M455.5 341.5h.01M466.5 347.5h.01M459.5 363.5h.01M456.5 330.5h.01M471.5 350.5h.01M469.5 343.5h.01M450.5 346.5h.01M459.5 334.5h.01M451.5 349.5h.01M463.5 324.5h.01M465.5 344.5h.01M462.5 327.5h.01M465.5 323.5h.01M473.5 343.5h.01M459.5 336.5h.01M476.5 324.5h.01M443.5 344.5h.01M470.5 344.5h.01M464.5 337.5h.01M458.5 325.5h.01M467.5 350.5h.01M451.5 347.5h.01M467.5 345.5h.01M460.5 355.5h.01M463.5 353.5h.01M454.5 350.5h.01M456.5 333.5h.01M471.5 332.5h.01M471.5 341.5h.01M452.5 351.5h.01M465.5 339.5h.01M460.5 353.5h.01M458.5 337.5h.01M463.5 360.5h.01M465.5 370.5h.01M456.5 350.5h.01M465.5 331.5h.01M469.5 338.5h.01M461.5 363.5h.01M463.5 329.5h.01M463.5 326.5h.01M450.5 356.5h.01M471.5 339.5h.01M464.5 333.5h.01M462.5 340.5h.01M474.5 362.5h.01M458.5 341.5h.01M451.5 334.5h.01M465.5 330.5h.01M462.5 324.5h.01M461.5 342.5h.01M452.5 326.5h.01M464.5 350.5h.01M466.5 340.5h.01M434.5 335.5h.01M463.5 358.5h.01M467.5 324.5h.01M456.5 352.5h.01M448.5 344.5h.01M462.5 345.5h.01M475.5 342.5h.01M464.5 330.5h.01M476.5 349.5h.01M460.5 321.5h.01M453.5 339.5h.01M458.5 347.5h.01M459.5 340.5h.01M452.5 332.5h.01M454.5 338.5h.01M473.5 338.5h.01M462.5 334.5h.01M459.5 357.5h.01M457.5 369.5h.01M469.5 326.5h.01M467.5 317.5h.01M462.5 335.5h.01M468.5 331.5h.01M456.5 339.5h.01M472.5 370.5h.01M465.5 345.5h.01M471.5 348.5h.01M460.5 342.5h.01M468.5 333.5h.01M460.5 343.5h.01M459.5 344.5h.01M461.5 328.5h.01M460.5 329.5h.01M464.5 324.5h.01M462.5 341.5h.01M473.5 348.5h.01M464.5 352.5h.01M473.5 336.5h.01M463.5 327.5h.01M473.5 333.5h.01M461.5 339.5h.01M470.5 341.5h.01M463.5 347.5h.01M472.5 340.5h.01M457.5 353.5h.01M456.5 349.5h.01M471.5 346.5h.01M461.5 348.5h.01M468.5 351.5h.01M466.5 337.5h.01M457.5 340.5h.01M453.5 331.5h.01M451.5 346.5h.01M456.5 337.5h.01M453.5 346.5h.01M451.5 344.5h.01M456.5 329.5h.01M461.5 346.5h.01M469.5 362.5h.01M467.5 362.5h.01M468.5 353.5h.01M462.5 315.5h.01M467.5 337.5h.01M473.5 331.5h.01M448.5 349.5h.01M453.5 348.5h.01M454.5 349.5h.01M462.5 346.5h.01M463.5 341.5h.01M461.5 354.5h.01M466.5 338.5h.01M464.5 339.5h.01M466.5 349.5h.01M458.5 334.5h.01M461.5 317.5h.01M458.5 335.5h.01M458.5 342.5h.01M461.5 356.5h.01M454.5 346.5h.01M472.5 353.5h.01M473.5 357.5h.01M472.5 354.5h.01M469.5 352.5h.01M451.5 351.5h.01M460.5 336.5h.01M451.5 350.5h.01M463.5 350.5h.01M458.5 356.5h.01M461.5 338.5h.01M465.5 357.5h.01M459.5 324.5h.01M472.5 344.5h.01M456.5 328.5h.01M458.5 330.5h.01M463.5 335.5h.01M465.5 356.5h.01M459.5 366.5h.01M472.5 352.5h.01M450.5 354.5h.01M453.5 340.5h.01M452.5 330.5h.01M461.5 347.5h.01M459.5 333.5h.01M458.5 367.5h.01M465.5 342.5h.01M468.5 363.5h.01M457.5 354.5h.01M465.5 341.5h.01M450.5 358.5h.01M458.5 352.5h.01M462.5 354.5h.01M453.5 344.5h.01M455.5 338.5h.01M456.5 355.5h.01M455.5 339.5h.01M463.5 332.5h.01M459.5 349.5h.01M468.5 350.5h.01M461.5 349.5h.01M455.5 344.5h.01M453.5 356.5h.01M472.5 351.5h.01M474.5 345.5h.01M452.5 327.5h.01M451.5 353.5h.01M459.5 351.5h.01M469.5 328.5h.01M467.5 344.5h.01M466.5 348.5h.01M453.5 328.5h.01M454.5 351.5h.01M469.5 354.5h.01M465.5 349.5h.01M452.5 318.5h.01M468.5 335.5h.01M461.5 358.5h.01M452.5 354.5h.01M468.5 332.5h.01M450.5 335.5h.01M445.5 330.5h.01M460.5 339.5h.01M457.5 351.5h.01M463.5 343.5h.01M456.5 320.5h.01M464.5 366.5h.01M466.5 351.5h.01M463.5 344.5h.01M460.5 351.5h.01M463.5 318.5h.01M456.5 335.5h.01M455.5 326.5h.01M471.5 352.5h.01M466.5 354.5h.01M473.5 352.5h.01M470.5 339.5h.01M475.5 328.5h.01M456.5 336.5h.01M472.5 335.5h.01M460.5 334.5h.01M463.5 342.5h.01M471.5 355.5h.01M448.5 364.5h.01M452.5 343.5h.01M453.5 342.5h.01M462.5 353.5h.01M473.5 344.5h.01M452.5 348.5h.01M464.5 353.5h.01M474.5 347.5h.01M461.5 324.5h.01M465.5 326.5h.01M461.5 327.5h.01M459.5 345.5h.01M471.5 322.5h.01M462.5 364.5h.01M458.5 361.5h.01M454.5 359.5h.01M454.5 335.5h.01M457.5 346.5h.01M458.5 358.5h.01M456.5 351.5h.01M459.5 346.5h.01M446.5 331.5h.01M464.5 354.5h.01M470.5 353.5h.01M456.5 364.5h.01M475.5 341.5h.01M459.5 362.5h.01M465.5 355.5h.01M456.5 360.5h.01M458.5 351.5h.01M456.5 341.5h.01M466.5 350.5h.01M467.5 353.5h.01M469.5 344.5h.01M466.5 374.5h.01M453.5 341.5h.01M460.5 338.5h.01M468.5 349.5h.01M454.5 322.5h.01M466.5 336.5h.01M451.5 336.5h.01M464.5 340.5h.01M459.5 331.5h.01M473.5 366.5h.01M454.5 347.5h.01M455.5 334.5h.01M452.5 353.5h.01M464.5 317.5h.01M457.5 352.5h.01M464.5 361.5h.01M457.5 345.5h.01M462.5 343.5h.01M468.5 339.5h.01M464.5 343.5h.01M462.5 348.5h.01M465.5 363.5h.01M459.5 350.5h.01M448.5 360.5h.01M456.5 325.5h.01M457.5 357.5h.01M456.5 332.5h.01M468.5 312.5h.01M464.5 344.5h.01M470.5 315.5h.01M471.5 344.5h.01M457.5 331.5h.01M459.5 332.5h.01M466.5 320.5h.01M463.5 349.5h.01M442.5 346.5h.01M463.5 322.5h.01M470.5 313.5h.01M451.5 332.5h.01M462.5 338.5h.01M447.5 346.5h.01M451.5 340.5h.01M453.5 354.5h.01M454.5 363.5h.01M466.5 345.5h.01M463.5 338.5h.01M479.5 347.5h.01M461.5 333.5h.01M471.5 338.5h.01M458.5 364.5h.01M454.5 348.5h.01M469.5 341.5h.01M468.5 352.5h.01M464.5 326.5h.01M457.5 341.5h.01M445.5 352.5h.01M465.5 340.5h.01M464.5 345.5h.01M450.5 357.5h.01M461.5 350.5h.01M467.5 335.5h.01M448.5 354.5h.01M472.5 350.5h.01M467.5 326.5h.01M466.5 335.5h.01M454.5 326.5h.01M473.5 335.5h.01M472.5 362.5h.01M456.5 338.5h.01M454.5 329.5h.01M467.5 341.5h.01M460.5 347.5h.01M477.5 350.5h.01M466.5 341.5h.01M462.5 323.5h.01M462.5 362.5h.01M455.5 352.5h.01M463.5 346.5h.01M459.5 364.5h.01M466.5 359.5h.01M452.5 336.5h.01M465.5 350.5h.01M476.5 341.5h.01M465.5 360.5h.01M468.5 344.5h.01M457.5 350.5h.01M462.5 359.5h.01M456.5 322.5h.01M454.5 341.5h.01M457.5 323.5h.01M455.5 348.5h.01M471.5 347.5h.01M458.5 350.5h.01M469.5 376.5h.01M462.5 352.5h.01M461.5 370.5h.01M467.5 332.5h.01M460.5 337.5h.01M465.5 353.5h.01M473.5 332.5h.01M459.5 319.5h.01M471.5 326.5h.01M456.5 346.5h.01M454.5 355.5h.01M452.5 355.5h.01M467.5 358.5h.01M455.5 359.5h.01M461.5 357.5h.01M450.5 355.5h.01M471.5 331.5h.01M457.5 327.5h.01M457.5 356.5h.01M460.5 364.5h.01M475.5 354.5h.01M467.5 330.5h.01M467.5 338.5h.01M475.5 340.5h.01M447.5 345.5h.01M469.5 350.5h.01M469.5 339.5h.01M448.5 324.5h.01M466.5 326.5h.01M448.5 340.5h.01M466.5 330.5h.01M461.5 320.5h.01M468.5 341.5h.01M461.5 316.5h.01M472.5 357.5h.01M468.5 336.5h.01M466.5 357.5h.01M461.5 359.5h.01M461.5 353.5h.01M456.5 344.5h.01M452.5 334.5h.01M453.5 336.5h.01M454.5 340.5h.01M472.5 339.5h.01M467.5 372.5h.01M477.5 344.5h.01M459.5 361.5h.01M458.5 345.5h.01M466.5 353.5h.01M470.5 348.5h.01M467.5 328.5h.01M453.5 335.5h.01M466.5 342.5h.01M450.5 366.5h.01M479.5 354.5h.01M473.5 339.5h.01M453.5 353.5h.01M456.5 343.5h.01M467.5 339.5h.01M472.5 338.5h.01M478.5 334.5h.01M446.5 352.5h.01M458.5 338.5h.01M467.5 348.5h.01M458.5 317.5h.01M478.5 361.5h.01M466.5 344.5h.01M448.5 338.5h.01M458.5 327.5h.01M458.5 333.5h.01M462.5 358.5h.01M460.5 332.5h.01M465.5 359.5h.01M470.5 331.5h.01M476.5 356.5h.01M466.5 329.5h.01M473.5 342.5h.01M448.5 342.5h.01M464.5 348.5h.01M454.5 343.5h.01M465.5 325.5h.01M473.5 328.5h.01M462.5 331.5h.01M469.5 368.5h.01M480.5 354.5h.01M479.5 331.5h.01M455.5 346.5h.01M470.5 352.5h.01M453.5 367.5h.01M463.5 363.5h.01M477.5 340.5h.01M468.5 356.5h.01M469.5 325.5h.01M465.5 364.5h.01M460.5 348.5h.01M468.5 355.5h.01M465.5 343.5h.01M470.5 335.5h.01M464.5 364.5h.01M471.5 345.5h.01M460.5 323.5h.01M448.5 334.5h.01M457.5 365.5h.01M456.5 348.5h.01M452.5 317.5h.01M461.5 321.5h.01M452.5 320.5h.01M448.5 331.5h.01M442.5 333.5h.01M447.5 343.5h.01M462.5 319.5h.01M467.5 336.5h.01M439.5 329.5h.01M449.5 349.5h.01M453.5 314.5h.01M449.5 323.5h.01M437.5 298.5h.01M427.5 328.5h.01M443.5 336.5h.01M444.5 333.5h.01M441.5 345.5h.01M449.5 321.5h.01M448.5 330.5h.01M474.5 353.5h.01M447.5 330.5h.01M488.5 317.5h.01M464.5 318.5h.01M468.5 324.5h.01M439.5 326.5h.01M476.5 310.5h.01M451.5 317.5h.01M425.5 316.5h.01M436.5 294.5h.01M450.5 349.5h.01M452.5 315.5h.01M451.5 328.5h.01M473.5 311.5h.01M444.5 357.5h.01M453.5 322.5h.01M452.5 313.5h.01M451.5 325.5h.01M478.5 343.5h.01M465.5 319.5h.01M448.5 329.5h.01M460.5 327.5h.01M447.5 322.5h.01M462.5 317.5h.01M441.5 323.5h.01M461.5 323.5h.01M461.5 318.5h.01M457.5 363.5h.01M447.5 329.5h.01M463.5 340.5h.01M446.5 337.5h.01M463.5 328.5h.01M455.5 296.5h.01M465.5 347.5h.01M443.5 325.5h.01M478.5 306.5h.01M453.5 310.5h.01M464.5 327.5h.01M444.5 326.5h.01M445.5 334.5h.01M466.5 332.5h.01M453.5 317.5h.01M449.5 327.5h.01M438.5 316.5h.01M474.5 326.5h.01M471.5 333.5h.01M469.5 311.5h.01M475.5 296.5h.01M447.5 334.5h.01M453.5 320.5h.01M470.5 324.5h.01M458.5 316.5h.01M445.5 338.5h.01M475.5 336.5h.01M447.5 315.5h.01M457.5 320.5h.01M461.5 329.5h.01M470.5 325.5h.01M439.5 313.5h.01M441.5 317.5h.01M453.5 330.5h.01M477.5 341.5h.01M451.5 318.5h.01M448.5 320.5h.01M430.5 300.5h.01M450.5 321.5h.01M455.5 311.5h.01M447.5 326.5h.01M457.5 325.5h.01M451.5 335.5h.01M470.5 330.5h.01M430.5 333.5h.01M472.5 331.5h.01M448.5 314.5h.01M443.5 347.5h.01M431.5 307.5h.01M455.5 320.5h.01M443.5 327.5h.01M451.5 348.5h.01M475.5 352.5h.01M454.5 318.5h.01M466.5 317.5h.01M453.5 329.5h.01M436.5 310.5h.01M447.5 331.5h.01M467.5 329.5h.01M440.5 318.5h.01M449.5 319.5h.01M456.5 318.5h.01M448.5 319.5h.01M448.5 328.5h.01M441.5 284.5h.01M460.5 325.5h.01M478.5 330.5h.01M469.5 313.5h.01M445.5 314.5h.01M453.5 358.5h.01M478.5 318.5h.01M461.5 314.5h.01M477.5 314.5h.01M480.5 312.5h.01M457.5 287.5h.01M449.5 329.5h.01M457.5 330.5h.01M462.5 366.5h.01M469.5 316.5h.01M449.5 320.5h.01M470.5 322.5h.01M450.5 327.5h.01M459.5 327.5h.01M455.5 333.5h.01M462.5 312.5h.01M455.5 298.5h.01M452.5 325.5h.01M467.5 313.5h.01M450.5 331.5h.01M463.5 320.5h.01M486.5 320.5h.01M452.5 329.5h.01M472.5 330.5h.01M486.5 312.5h.01M433.5 303.5h.01M464.5 322.5h.01M468.5 290.5h.01M469.5 345.5h.01M465.5 317.5h.01M454.5 321.5h.01M455.5 331.5h.01M448.5 326.5h.01M443.5 322.5h.01M447.5 342.5h.01M453.5 326.5h.01M442.5 319.5h.01M481.5 344.5h.01M469.5 327.5h.01M464.5 316.5h.01M442.5 318.5h.01M464.5 325.5h.01M439.5 292.5h.01M448.5 316.5h.01M465.5 324.5h.01M470.5 306.5h.01M466.5 297.5h.01M440.5 317.5h.01M461.5 332.5h.01M450.5 339.5h.01M460.5 320.5h.01M449.5 322.5h.01M441.5 328.5h.01M480.5 340.5h.01M441.5 290.5h.01M469.5 332.5h.01M446.5 322.5h.01M465.5 321.5h.01M435.5 316.5h.01M442.5 336.5h.01M475.5 333.5h.01M451.5 342.5h.01M438.5 301.5h.01M443.5 289.5h.01M465.5 316.5h.01M437.5 315.5h.01M475.5 310.5h.01M486.5 317.5h.01M437.5 320.5h.01M456.5 321.5h.01M447.5 327.5h.01M474.5 323.5h.01M459.5 322.5h.01M471.5 343.5h.01M446.5 321.5h.01M463.5 323.5h.01M470.5 318.5h.01M473.5 320.5h.01M455.5 345.5h.01M461.5 315.5h.01M470.5 327.5h.01M456.5 289.5h.01M445.5 331.5h.01M447.5 314.5h.01M470.5 336.5h.01M438.5 318.5h.01M464.5 298.5h.01M448.5 315.5h.01M455.5 324.5h.01M478.5 338.5h.01M452.5 314.5h.01M436.5 326.5h.01M445.5 322.5h.01M445.5 321.5h.01M443.5 324.5h.01M439.5 341.5h.01M447.5 340.5h.01M433.5 318.5h.01M473.5 313.5h.01M474.5 299.5h.01M444.5 315.5h.01M444.5 351.5h.01M472.5 329.5h.01M446.5 323.5h.01M469.5 330.5h.01M458.5 323.5h.01M463.5 308.5h.01M471.5 298.5h.01M471.5 319.5h.01M471.5 335.5h.01M457.5 312.5h.01M462.5 365.5h.01M468.5 364.5h.01M458.5 374.5h.01M467.5 374.5h.01M460.5 366.5h.01M461.5 367.5h.01M458.5 380.5h.01M456.5 374.5h.01M457.5 362.5h.01M454.5 377.5h.01M468.5 360.5h.01M465.5 375.5h.01M461.5 368.5h.01M463.5 359.5h.01M474.5 366.5h.01M469.5 374.5h.01M459.5 376.5h.01M467.5 355.5h.01M449.5 363.5h.01M456.5 370.5h.01M464.5 370.5h.01M458.5 371.5h.01M456.5 372.5h.01M456.5 376.5h.01M451.5 364.5h.01M454.5 370.5h.01M465.5 362.5h.01M468.5 367.5h.01M475.5 362.5h.01M469.5 366.5h.01M448.5 353.5h.01M457.5 370.5h.01M463.5 368.5h.01M463.5 361.5h.01M451.5 373.5h.01M465.5 371.5h.01M461.5 365.5h.01M454.5 358.5h.01M475.5 363.5h.01M460.5 373.5h.01M452.5 362.5h.01M455.5 369.5h.01M443.5 363.5h.01M458.5 370.5h.01M454.5 376.5h.01M461.5 364.5h.01M458.5 365.5h.01M459.5 368.5h.01M461.5 362.5h.01M466.5 365.5h.01M458.5 368.5h.01M455.5 365.5h.01M465.5 361.5h.01M478.5 380.5h.01M460.5 363.5h.01M477.5 373.5h.01M464.5 362.5h.01M464.5 365.5h.01M469.5 359.5h.01M454.5 364.5h.01M454.5 380.5h.01M468.5 361.5h.01M443.5 371.5h.01M475.5 372.5h.01M459.5 355.5h.01M475.5 373.5h.01M476.5 359.5h.01M470.5 365.5h.01M443.5 349.5h.01M446.5 359.5h.01M467.5 365.5h.01M452.5 374.5h.01M465.5 380.5h.01M458.5 363.5h.01M464.5 377.5h.01M459.5 367.5h.01M448.5 365.5h.01M454.5 357.5h.01M456.5 359.5h.01M465.5 369.5h.01M466.5 380.5h.01M460.5 358.5h.01M455.5 378.5h.01M460.5 365.5h.01M452.5 375.5h.01M467.5 376.5h.01M463.5 365.5h.01M472.5 371.5h.01M447.5 370.5h.01M463.5 379.5h.01M462.5 374.5h.01M468.5 370.5h.01M476.5 365.5h.01M460.5 361.5h.01M466.5 362.5h.01M467.5 378.5h.01M460.5 367.5h.01M468.5 365.5h.01M472.5 367.5h.01M457.5 371.5h.01M471.5 372.5h.01M455.5 367.5h.01M471.5 366.5h.01M454.5 362.5h.01M454.5 367.5h.01M460.5 376.5h.01M458.5 373.5h.01M459.5 369.5h.01M457.5 375.5h.01M462.5 375.5h.01M456.5 367.5h.01M462.5 377.5h.01M452.5 371.5h.01M450.5 365.5h.01M467.5 359.5h.01M454.5 368.5h.01M449.5 366.5h.01M450.5 363.5h.01M454.5 369.5h.01M471.5 358.5h.01M462.5 380.5h.01M457.5 374.5h.01M451.5 378.5h.01M462.5 373.5h.01M467.5 364.5h.01M448.5 371.5h.01M455.5 380.5h.01M473.5 361.5h.01M457.5 379.5h.01M470.5 366.5h.01M469.5 370.5h.01M472.5 360.5h.01M471.5 371.5h.01M470.5 377.5h.01M474.5 367.5h.01M467.5 373.5h.01M463.5 377.5h.01M448.5 370.5h.01M466.5 366.5h.01M467.5 356.5h.01M456.5 373.5h.01M443.5 359.5h.01M465.5 366.5h.01M451.5 358.5h.01M464.5 368.5h.01M455.5 366.5h.01M456.5 366.5h.01M449.5 373.5h.01M459.5 373.5h.01M466.5 358.5h.01M449.5 380.5h.01M473.5 371.5h.01M465.5 379.5h.01M456.5 375.5h.01M449.5 352.5h.01M445.5 367.5h.01M476.5 367.5h.01M464.5 380.5h.01M460.5 370.5h.01M460.5 371.5h.01M426.5 313.5h.01M437.5 309.5h.01M431.5 294.5h.01M432.5 311.5h.01M414.5 312.5h.01M439.5 310.5h.01M443.5 318.5h.01M456.5 326.5h.01M430.5 313.5h.01M451.5 321.5h.01M431.5 309.5h.01M429.5 311.5h.01M430.5 316.5h.01M422.5 300.5h.01M433.5 312.5h.01M422.5 313.5h.01M433.5 324.5h.01M413.5 292.5h.01M426.5 308.5h.01M428.5 303.5h.01M431.5 298.5h.01M432.5 305.5h.01M429.5 328.5h.01M440.5 297.5h.01M442.5 314.5h.01M433.5 314.5h.01M415.5 317.5h.01M434.5 309.5h.01M436.5 315.5h.01M434.5 307.5h.01M459.5 317.5h.01M424.5 317.5h.01M429.5 309.5h.01M419.5 310.5h.01M451.5 319.5h.01M426.5 315.5h.01M429.5 324.5h.01M424.5 307.5h.01M422.5 312.5h.01M436.5 327.5h.01M426.5 301.5h.01M423.5 313.5h.01M454.5 315.5h.01M441.5 313.5h.01M432.5 320.5h.01M437.5 330.5h.01M452.5 321.5h.01M436.5 316.5h.01M421.5 323.5h.01M435.5 305.5h.01M431.5 299.5h.01M429.5 319.5h.01M430.5 309.5h.01M439.5 319.5h.01M414.5 305.5h.01M429.5 318.5h.01M428.5 321.5h.01M422.5 309.5h.01M425.5 313.5h.01M423.5 318.5h.01M432.5 302.5h.01M434.5 318.5h.01M425.5 298.5h.01M414.5 307.5h.01M434.5 298.5h.01M434.5 312.5h.01M426.5 306.5h.01M432.5 308.5h.01M437.5 285.5h.01M441.5 331.5h.01M430.5 311.5h.01M431.5 308.5h.01M451.5 333.5h.01M421.5 304.5h.01M455.5 284.5h.01M426.5 314.5h.01M424.5 310.5h.01M419.5 309.5h.01M454.5 292.5h.01M454.5 314.5h.01M413.5 303.5h.01M442.5 295.5h.01M426.5 323.5h.01M431.5 314.5h.01M429.5 325.5h.01M423.5 316.5h.01M448.5 291.5h.01M421.5 321.5h.01M432.5 314.5h.01M450.5 324.5h.01M444.5 317.5h.01M428.5 315.5h.01M434.5 300.5h.01M435.5 298.5h.01M423.5 307.5h.01M444.5 330.5h.01M432.5 319.5h.01M429.5 315.5h.01M425.5 323.5h.01M448.5 318.5h.01M421.5 309.5h.01M436.5 311.5h.01M427.5 302.5h.01M422.5 331.5h.01M423.5 342.5h.01M421.5 330.5h.01M418.5 348.5h.01M444.5 340.5h.01M443.5 364.5h.01M439.5 356.5h.01M430.5 343.5h.01M431.5 357.5h.01M422.5 360.5h.01M416.5 363.5h.01M425.5 342.5h.01M422.5 349.5h.01M440.5 341.5h.01M417.5 334.5h.01M421.5 360.5h.01M423.5 349.5h.01M442.5 340.5h.01M440.5 330.5h.01M421.5 363.5h.01M428.5 335.5h.01M423.5 345.5h.01M442.5 364.5h.01M438.5 334.5h.01M401.5 310.5h.01M396.5 325.5h.01" stroke="#000" stroke-width="1.6" stroke-linecap="square" fill="none"/>
<text x="338.7" y="424" font-size="15" stroke="#000" stroke-width="0.4">α<tspan font-size="14" font-weight="bold" stroke-width="0.5">4</tspan></text>
<text transform="translate(375.6 423)" font-size="14" font-weight="bold" textLength="52.0" lengthAdjust="spacing" stroke="#000" stroke-width="0.5">Integrin</text>
<text transform="translate(446 423.6)" font-size="14" font-weight="bold" textLength="73.0" lengthAdjust="spacing" stroke="#000" stroke-width="0.5">Expression</text>
<text transform="translate(324.8 415.6) rotate(-90)" font-size="14" font-weight="bold" textLength="72.0" lengthAdjust="spacing" stroke="#000" stroke-width="0.5">Annexin-V</text>
<text transform="translate(324.8 322.8) rotate(-90)" font-size="14" font-weight="bold" textLength="51.0" lengthAdjust="spacing" stroke="#000" stroke-width="0.5">Binding</text>
<text x="456.1 467.5 475.5 479.2" y="292.2" font-size="13.5" font-weight="bold" stroke="#000" stroke-width="0.32">50 %</text>
<text x="412.3 423.5 431.1 434.5" y="378" font-size="13.5" font-weight="bold" stroke="#000" stroke-width="0.32">50 %</text>
<text transform="translate(311.2 253.3)" font-size="24.5" font-weight="bold" stroke="#000" stroke-width="0.5">D</text>
<text x="342.5 355.6 366.7 376.4 381.6 387.8 399.3 409.8" y="250.4" font-size="19" font-weight="bold" stroke="#000" stroke-width="0.5">Anti-Fas</text>
<path d="M151.3 489.7H425.7V765.7" fill="none" stroke="#000" stroke-width="1.05"/>
<path d="M151.3 489.2V765.7H426.2" fill="none" stroke="#000" stroke-width="1.5"/>
<path d="M151.3 765.7h-7.5M151.3 696.7h-7.5M151.3 627.7h-7.5M151.3 558.7h-7.5M151.3 489.7h-7.5M151.3 765.7v7.4M206.2 765.7v7.4M261.1 765.7v7.4M315.9 765.7v7.4M370.8 765.7v7.4M425.7 765.7v7.4" stroke="#000" stroke-width="1.2" fill="none"/>
<text transform="translate(136.4 769.4)" font-size="12" font-weight="bold" class="s" text-anchor="end" stroke="#000" stroke-width="0.3">0</text>
<text transform="translate(136.4 700.4)" font-size="12" font-weight="bold" class="s" text-anchor="end" stroke="#000" stroke-width="0.3">25</text>
<text transform="translate(136.4 631.4)" font-size="12" font-weight="bold" class="s" text-anchor="end" stroke="#000" stroke-width="0.3">50</text>
<text transform="translate(136.4 562.4)" font-size="12" font-weight="bold" class="s" text-anchor="end" stroke="#000" stroke-width="0.3">75</text>
<text transform="translate(136.4 493.4)" font-size="12" font-weight="bold" class="s" text-anchor="end" stroke="#000" stroke-width="0.3">100</text>
<text transform="translate(151.3 782.3)" font-size="12" font-weight="bold" class="s" text-anchor="middle" stroke="#000" stroke-width="0.3">0</text>
<text transform="translate(206.2 782.7)" font-size="12" font-weight="bold" class="s" text-anchor="middle" stroke="#000" stroke-width="0.3">1</text>
<text transform="translate(261.1 783.1)" font-size="12" font-weight="bold" class="s" text-anchor="middle" stroke="#000" stroke-width="0.3">2</text>
<text transform="translate(315.9 783.4)" font-size="12" font-weight="bold" class="s" text-anchor="middle" stroke="#000" stroke-width="0.3">3</text>
<text transform="translate(370.8 783.8)" font-size="12" font-weight="bold" class="s" text-anchor="middle" stroke="#000" stroke-width="0.3">4</text>
<text transform="translate(425.7 784.2)" font-size="12" font-weight="bold" class="s" text-anchor="middle" stroke="#000" stroke-width="0.3">5</text>
<polyline points="151.3,543.8 178.7,602.6 206.2,632.9 261.1,687.3 370.8,706.9" fill="none" stroke="#000" stroke-width="1.65" stroke-dasharray="4.4 2.6"/>
<polyline points="151.3,764.0 178.7,762.4 206.2,758.8 261.1,753.8 370.8,751.3" fill="none" stroke="#000" stroke-width="1.65" stroke-dasharray="4.4 2.6"/>
<polyline points="151.3,716.0 178.7,659.7 206.2,671.6 261.1,696.1 370.8,695.6" fill="none" stroke="#000" stroke-width="1.7"/>
<polyline points="151.3,760.7 178.7,759.6 206.2,723.5 261.1,648.4 370.8,631.0" fill="none" stroke="#000" stroke-width="1.7"/>
<path d="M147.4 547.4h7.8l-3.9 -8.6z" fill="#fff" stroke="#000" stroke-width="1.5"/>
<path d="M174.8 606.2h7.8l-3.9 -8.6z" fill="#fff" stroke="#000" stroke-width="1.5"/>
<path d="M202.3 636.6h7.8l-3.9 -8.6z" fill="#fff" stroke="#000" stroke-width="1.5"/>
<path d="M257.2 690.9h7.8l-3.9 -8.6z" fill="#fff" stroke="#000" stroke-width="1.5"/>
<path d="M366.9 710.5h7.8l-3.9 -8.6z" fill="#fff" stroke="#000" stroke-width="1.5"/>
<path d="M146.1 764.0l5.2 -5.2l5.2 5.2l-5.2 5.2z" fill="#000"/>
<path d="M173.5 762.4l5.2 -5.2l5.2 5.2l-5.2 5.2z" fill="#000"/>
<path d="M201.0 758.8l5.2 -5.2l5.2 5.2l-5.2 5.2z" fill="#000"/>
<path d="M255.9 753.8l5.2 -5.2l5.2 5.2l-5.2 5.2z" fill="#000"/>
<path d="M365.6 751.3l5.2 -5.2l5.2 5.2l-5.2 5.2z" fill="#000"/>
<circle cx="151.3" cy="716.0" r="3.6" fill="#fff" stroke="#000" stroke-width="1.8"/>
<circle cx="178.7" cy="659.7" r="3.6" fill="#fff" stroke="#000" stroke-width="1.8"/>
<circle cx="206.2" cy="671.6" r="3.6" fill="#fff" stroke="#000" stroke-width="1.8"/>
<circle cx="261.1" cy="696.1" r="3.6" fill="#fff" stroke="#000" stroke-width="1.8"/>
<circle cx="370.8" cy="695.6" r="3.6" fill="#fff" stroke="#000" stroke-width="1.8"/>
<rect x="146.3" y="755.7" width="10.0" height="10.0" fill="#000"/>
<rect x="173.7" y="754.6" width="10.0" height="10.0" fill="#000"/>
<rect x="201.2" y="718.5" width="10.0" height="10.0" fill="#000"/>
<rect x="256.1" y="643.4" width="10.0" height="10.0" fill="#000"/>
<rect x="365.8" y="626.0" width="10.0" height="10.0" fill="#000"/>
<path d="M267.4 503.8H321.9" stroke="#000" stroke-width="1.7" fill="none"/>
<rect x="288.8" y="498.9" width="9.7" height="9.7" fill="#000"/>
<text x="324.2 337.3 345.7 355.0 362.1 366.6 371.3 386.0 394.9 406.6" y="510.6" font-size="17" font-weight="bold" stroke="#000" stroke-width="0.5">V(-)/ A(+)</text>
<path d="M267.4 535.3H321.9" stroke="#000" stroke-width="1.85" stroke-dasharray="3.9 2.15" fill="none"/>
<path d="M288.3 535.3l5.2 -5.2l5.2 5.2l-5.2 5.2z" fill="#000"/>
<text x="324.2 337.5 344.9 357.0 363.6 367.6 372.3 387.0 395.1 407.0" y="542.1" font-size="17" font-weight="bold" stroke="#000" stroke-width="0.5">V(+)/ A(+)</text>
<path d="M267.4 567.2H321.9" stroke="#000" stroke-width="1.7" fill="none"/>
<circle cx="293.5" cy="567.2" r="3.6" fill="#fff" stroke="#000" stroke-width="1.8"/>
<text x="324.2 338.2 346.7 355.6 362.8 367.6 372.3 387.2 396.9 406.4" y="574.0" font-size="17" font-weight="bold" stroke="#000" stroke-width="0.5">V(-)/ A(-)</text>
<path d="M267.4 599.6H321.9" stroke="#000" stroke-width="1.85" stroke-dasharray="3.9 2.15" fill="none"/>
<path d="M289.7 602.6h7.0l-3.5 -7.2z" fill="#fff" stroke="#000" stroke-width="1.5"/>
<text x="324.2 337.5 345.0 357.2 363.6 367.6 372.3 387.2 396.9 405.8" y="606.4" font-size="17" font-weight="bold" stroke="#000" stroke-width="0.5">V(+)/ A(-)</text>
<text transform="translate(86.7 501.5)" font-size="24.5" font-weight="bold" stroke="#000" stroke-width="0.5">E</text>
<text transform="translate(145.4 810)" font-size="14" font-weight="bold" textLength="32.3" lengthAdjust="spacing" stroke="#000" stroke-width="0.5">Time</text>
<text transform="translate(197.7 810)" font-size="14" font-weight="bold" textLength="89.3" lengthAdjust="spacing" stroke="#000" stroke-width="0.5">Post-Anti-Fas</text>
<text transform="translate(307.5 810)" font-size="14" font-weight="bold" textLength="70.8" lengthAdjust="spacing" stroke="#000" stroke-width="0.5">Treatment</text>
<text transform="translate(397.4 809.3)" font-size="17" font-weight="bold" textLength="33.0" lengthAdjust="spacing" stroke="#000" stroke-width="0.5">(hr)</text>
<text transform="translate(110.5 705.6) rotate(-90) scale(1 1.07)" font-size="16.5" font-weight="bold" stroke="#000" stroke-width="0.5">%</text>
<text transform="translate(110.5 675.3) rotate(-90) scale(1 1.07)" font-size="15.5" font-weight="bold" textLength="16.2" lengthAdjust="spacing" stroke="#000" stroke-width="0.5">of</text>
<text transform="translate(110.5 643.6) rotate(-90) scale(1 1.07)" font-size="15.5" font-weight="bold" textLength="40.0" lengthAdjust="spacing" stroke="#000" stroke-width="0.5">Total</text>
<text transform="translate(110.5 587) rotate(-90) scale(1 1.07)" font-size="15.5" font-weight="bold" textLength="37.3" lengthAdjust="spacing" stroke="#000" stroke-width="0.5">Cells</text>
</svg>
</body></html>
